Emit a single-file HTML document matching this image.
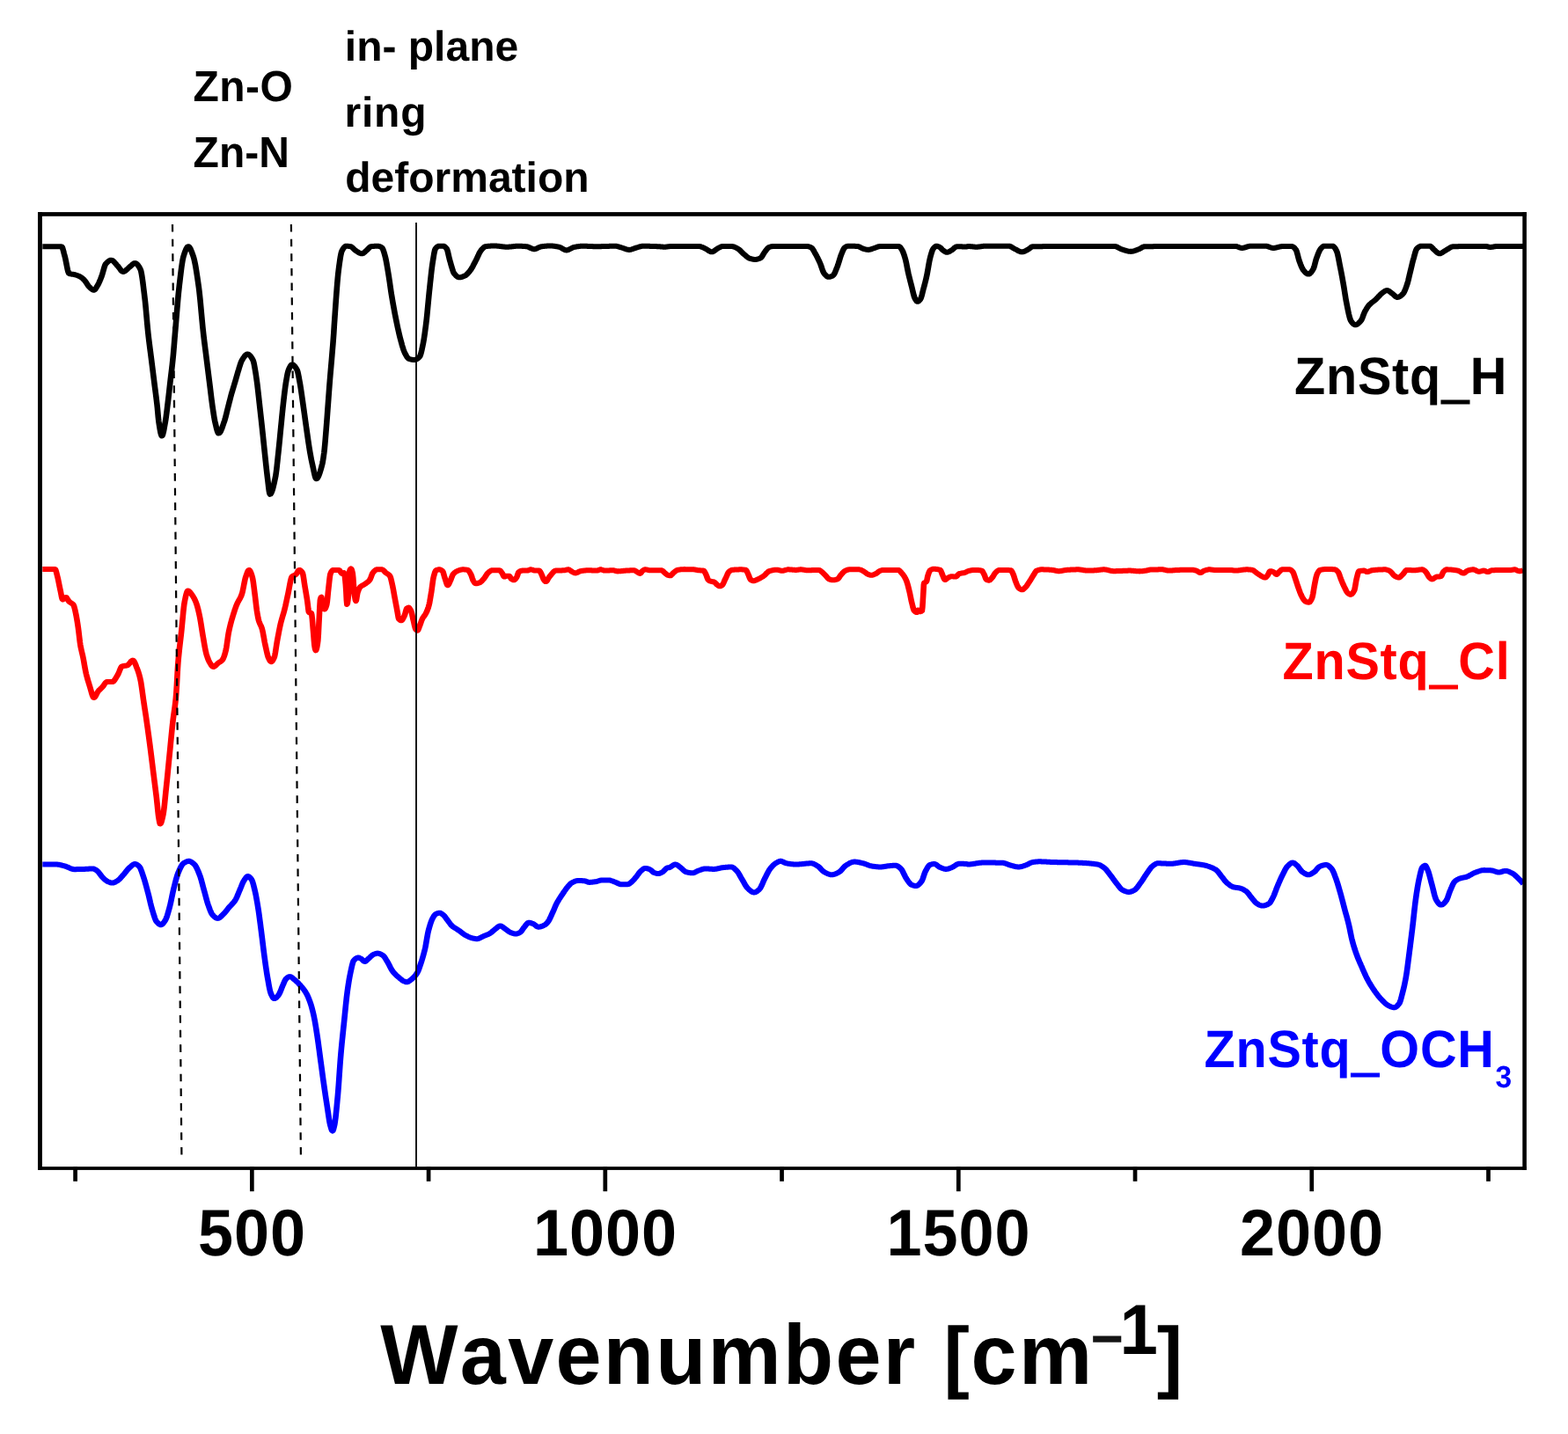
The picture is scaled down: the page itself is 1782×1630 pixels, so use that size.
<!DOCTYPE html>
<html lang="en">
<head>
<meta charset="utf-8">
<title>Wavenumber spectra: ZnStq_H, ZnStq_Cl, ZnStq_OCH3</title>
<style>
html,body{margin:0;padding:0;background:#ffffff;}
body{width:1782px;height:1630px;}
svg{display:block;}
svg text{font-kerning:none;font-variant-ligatures:none;text-rendering:geometricPrecision;white-space:pre;}
</style>
</head>
<body>
<svg width="1782" height="1630" viewBox="0 0 1782 1630" font-family='"Liberation Sans", sans-serif' font-weight="700">
<rect x="0" y="0" width="1782" height="1630" fill="#ffffff"/>
<g fill="none" stroke-linejoin="round" stroke-linecap="butt" transform="scale(1.1,1)">
<path id="c-black" stroke="#000000" stroke-width="6" d="M43.95,280.2 L44.40,280.2 L44.86,280.2 L45.31,280.2 L45.77,280.2 L46.22,280.2 L46.68,280.2 L47.13,280.2 L47.59,280.2 L48.04,280.2 L48.49,280.2 L48.95,280.2 L49.40,280.2 L49.86,280.2 L50.31,280.2 L50.77,280.2 L51.22,280.2 L51.68,280.2 L52.13,280.2 L52.59,280.2 L53.04,280.2 L53.49,280.2 L53.95,280.2 L54.40,280.2 L54.86,280.2 L55.31,280.2 L55.77,280.2 L56.22,280.2 L56.68,280.2 L57.13,280.2 L57.59,280.2 L58.04,280.2 L58.49,280.2 L58.95,280.2 L59.40,280.2 L59.86,280.2 L60.31,280.2 L60.77,280.2 L61.22,280.2 L61.68,280.2 L62.13,280.2 L62.59,280.2 L63.04,280.2 L63.49,280.2 L63.95,280.5 L64.40,281.3 L64.86,282.7 L65.31,284.4 L65.77,286.3 L66.22,288.4 L66.68,290.3 L67.13,292.1 L67.59,294.2 L68.04,296.6 L68.49,299.1 L68.95,301.8 L69.40,304.3 L69.86,306.6 L70.31,308.5 L70.77,309.9 L71.22,310.8 L71.68,311.0 L72.13,311.2 L72.59,311.3 L73.04,311.4 L73.49,311.5 L73.95,311.6 L74.40,311.7 L74.86,311.7 L75.31,311.8 L75.77,311.9 L76.22,311.9 L76.68,312.0 L77.13,312.2 L77.59,312.3 L78.04,312.4 L78.49,312.6 L78.95,312.7 L79.40,312.9 L79.86,313.1 L80.31,313.3 L80.77,313.4 L81.22,313.7 L81.68,313.9 L82.13,314.1 L82.59,314.4 L83.04,314.7 L83.49,315.0 L83.95,315.3 L84.40,315.7 L84.86,316.1 L85.31,316.5 L85.77,317.0 L86.22,317.4 L86.68,317.9 L87.13,318.4 L87.59,319.0 L88.04,319.6 L88.49,320.3 L88.95,321.1 L89.40,321.9 L89.86,322.6 L90.31,323.4 L90.77,324.1 L91.22,324.8 L91.68,325.4 L92.13,325.9 L92.59,326.4 L93.04,326.9 L93.49,327.4 L93.95,327.9 L94.40,328.3 L94.86,328.7 L95.31,329.1 L95.77,329.4 L96.22,329.6 L96.68,329.8 L97.13,329.8 L97.59,329.6 L98.04,329.2 L98.49,328.6 L98.95,327.9 L99.40,327.1 L99.86,326.3 L100.31,325.4 L100.77,324.5 L101.22,323.7 L101.68,322.7 L102.13,321.7 L102.59,320.6 L103.04,319.5 L103.49,318.3 L103.95,317.1 L104.40,315.8 L104.86,314.6 L105.31,313.2 L105.77,311.5 L106.22,309.8 L106.68,308.0 L107.13,306.2 L107.59,304.4 L108.04,302.9 L108.49,301.5 L108.95,300.4 L109.40,299.7 L109.86,299.2 L110.31,298.7 L110.77,298.2 L111.22,297.7 L111.68,297.3 L112.13,296.9 L112.59,296.5 L113.04,296.2 L113.49,296.0 L113.95,295.8 L114.40,295.7 L114.86,295.7 L115.31,295.7 L115.77,295.9 L116.22,296.1 L116.68,296.5 L117.13,296.9 L117.59,297.3 L118.04,297.9 L118.49,298.4 L118.95,299.0 L119.40,299.6 L119.86,300.2 L120.31,300.8 L120.77,301.4 L121.22,301.9 L121.68,302.4 L122.13,303.0 L122.59,303.6 L123.04,304.3 L123.49,305.0 L123.95,305.7 L124.40,306.4 L124.86,307.1 L125.31,307.7 L125.77,308.2 L126.22,308.6 L126.68,308.8 L127.13,308.9 L127.59,308.9 L128.04,308.8 L128.49,308.5 L128.95,308.3 L129.40,307.9 L129.86,307.5 L130.31,307.1 L130.77,306.6 L131.22,306.2 L131.68,305.7 L132.13,305.2 L132.59,304.7 L133.04,304.3 L133.49,303.8 L133.95,303.5 L134.40,303.1 L134.86,302.6 L135.31,302.2 L135.77,301.7 L136.22,301.2 L136.68,300.7 L137.13,300.3 L137.59,299.9 L138.04,299.6 L138.49,299.3 L138.95,299.2 L139.40,299.1 L139.86,299.2 L140.31,299.3 L140.77,299.6 L141.22,299.9 L141.68,300.4 L142.13,300.9 L142.59,301.6 L143.04,302.2 L143.49,303.0 L143.95,303.8 L144.40,304.7 L144.86,305.7 L145.31,306.8 L145.77,308.6 L146.22,311.0 L146.68,314.0 L147.13,317.4 L147.59,321.0 L148.04,325.0 L148.49,329.1 L148.95,333.2 L149.40,337.3 L149.86,341.6 L150.31,346.4 L150.77,351.7 L151.22,357.3 L151.68,362.9 L152.13,368.5 L152.59,373.8 L153.04,378.7 L153.49,383.2 L153.95,387.4 L154.40,391.4 L154.86,395.3 L155.31,399.1 L155.77,403.0 L156.22,406.9 L156.68,410.9 L157.13,414.9 L157.59,418.9 L158.04,422.9 L158.49,426.9 L158.95,430.9 L159.40,434.9 L159.86,438.8 L160.31,442.7 L160.77,446.5 L161.22,450.4 L161.68,454.5 L162.13,458.7 L162.59,463.3 L163.04,468.7 L163.49,474.2 L163.95,478.8 L164.40,482.1 L164.86,485.3 L165.31,488.3 L165.77,491.0 L166.22,493.1 L166.68,494.7 L167.13,495.5 L167.59,495.3 L168.04,494.4 L168.49,492.7 L168.95,490.6 L169.40,488.1 L169.86,485.3 L170.31,482.5 L170.77,479.7 L171.22,476.7 L171.68,473.1 L172.13,469.3 L172.59,465.3 L173.04,461.2 L173.49,457.1 L173.95,452.9 L174.40,448.5 L174.86,444.0 L175.31,439.6 L175.77,435.1 L176.22,430.9 L176.68,426.7 L177.13,422.6 L177.59,418.4 L178.04,414.0 L178.49,409.3 L178.95,404.2 L179.40,398.5 L179.86,392.5 L180.31,386.3 L180.77,380.3 L181.22,374.5 L181.68,368.4 L182.13,362.4 L182.59,356.3 L183.04,350.3 L183.49,344.4 L183.95,338.8 L184.40,333.5 L184.86,328.7 L185.31,324.2 L185.77,319.9 L186.22,315.6 L186.68,311.4 L187.13,307.3 L187.59,303.5 L188.04,300.1 L188.49,297.0 L188.95,294.3 L189.40,292.1 L189.86,290.5 L190.31,288.9 L190.77,287.4 L191.22,286.0 L191.68,284.7 L192.13,283.5 L192.59,282.4 L193.04,281.6 L193.49,280.9 L193.95,280.4 L194.40,280.2 L194.86,280.3 L195.31,280.6 L195.77,281.1 L196.22,281.8 L196.68,282.7 L197.13,283.8 L197.59,285.0 L198.04,286.2 L198.49,287.6 L198.95,289.0 L199.40,290.4 L199.86,291.9 L200.31,293.6 L200.77,295.6 L201.22,297.9 L201.68,300.4 L202.13,303.1 L202.59,306.0 L203.04,309.1 L203.49,312.3 L203.95,315.6 L204.40,319.1 L204.86,322.6 L205.31,326.2 L205.77,330.1 L206.22,334.6 L206.68,339.4 L207.13,344.6 L207.59,349.9 L208.04,355.4 L208.49,360.8 L208.95,366.2 L209.40,371.4 L209.86,376.3 L210.31,380.8 L210.77,385.1 L211.22,389.2 L211.68,393.1 L212.13,397.0 L212.59,400.9 L213.04,404.8 L213.49,408.8 L213.95,412.8 L214.40,416.8 L214.86,420.8 L215.31,424.8 L215.77,428.8 L216.22,432.8 L216.68,436.8 L217.13,440.9 L217.59,445.1 L218.04,449.3 L218.49,453.3 L218.95,457.2 L219.40,460.8 L219.86,464.3 L220.31,467.7 L220.77,471.0 L221.22,474.1 L221.68,476.9 L222.13,479.4 L222.59,481.5 L223.04,483.7 L223.49,485.8 L223.95,487.8 L224.40,489.6 L224.86,491.1 L225.31,492.1 L225.77,492.6 L226.22,492.6 L226.68,492.3 L227.13,491.8 L227.59,491.0 L228.04,490.1 L228.49,488.9 L228.95,487.7 L229.40,486.4 L229.86,485.0 L230.31,483.6 L230.77,482.1 L231.22,480.7 L231.68,479.3 L232.13,477.8 L232.59,476.1 L233.04,474.2 L233.49,472.3 L233.95,470.3 L234.40,468.2 L234.86,466.1 L235.31,464.1 L235.77,462.1 L236.22,460.2 L236.68,458.2 L237.13,456.3 L237.59,454.3 L238.04,452.4 L238.49,450.4 L238.95,448.6 L239.40,446.8 L239.86,445.1 L240.31,443.4 L240.77,441.7 L241.22,440.1 L241.68,438.5 L242.13,436.8 L242.59,435.2 L243.04,433.5 L243.49,431.7 L243.95,430.0 L244.40,428.2 L244.86,426.4 L245.31,424.7 L245.77,423.0 L246.22,421.3 L246.68,419.8 L247.13,418.1 L247.59,416.5 L248.04,414.9 L248.49,413.4 L248.95,412.0 L249.40,410.8 L249.86,409.8 L250.31,409.0 L250.77,408.1 L251.22,407.3 L251.68,406.5 L252.13,405.8 L252.59,405.1 L253.04,404.4 L253.49,403.8 L253.95,403.4 L254.40,403.0 L254.86,402.7 L255.31,402.5 L255.77,402.5 L256.22,402.6 L256.68,402.8 L257.13,403.0 L257.59,403.4 L258.04,403.9 L258.49,404.4 L258.95,405.0 L259.40,405.7 L259.86,406.5 L260.31,407.3 L260.77,408.2 L261.22,409.1 L261.68,410.2 L262.13,411.9 L262.59,414.3 L263.04,417.0 L263.49,419.8 L263.95,422.7 L264.40,425.9 L264.86,429.3 L265.31,432.9 L265.77,436.7 L266.22,440.8 L266.68,445.2 L267.13,449.6 L267.59,454.2 L268.04,458.7 L268.49,463.2 L268.95,467.7 L269.40,472.2 L269.86,476.7 L270.31,481.3 L270.77,485.9 L271.22,490.6 L271.68,495.3 L272.13,500.1 L272.59,505.0 L273.04,509.7 L273.49,514.5 L273.95,519.2 L274.40,523.9 L274.86,528.7 L275.31,533.3 L275.77,537.7 L276.22,541.8 L276.68,545.9 L277.13,550.3 L277.59,554.6 L278.04,558.3 L278.49,560.8 L278.95,561.8 L279.40,561.6 L279.86,561.1 L280.31,560.2 L280.77,559.1 L281.22,557.7 L281.68,556.1 L282.13,554.2 L282.59,552.2 L283.04,550.1 L283.49,547.8 L283.95,545.5 L284.40,543.1 L284.86,540.6 L285.31,537.2 L285.77,533.3 L286.22,528.8 L286.68,524.1 L287.13,519.3 L287.59,514.7 L288.04,509.9 L288.49,505.0 L288.95,499.9 L289.40,494.7 L289.86,489.6 L290.31,484.6 L290.77,479.4 L291.22,474.3 L291.68,469.2 L292.13,464.4 L292.59,459.8 L293.04,455.3 L293.49,450.9 L293.95,446.7 L294.40,442.6 L294.86,438.9 L295.31,435.5 L295.77,432.5 L296.22,429.6 L296.68,426.8 L297.13,424.4 L297.59,422.3 L298.04,420.8 L298.49,419.6 L298.95,418.4 L299.40,417.4 L299.86,416.4 L300.31,415.6 L300.77,415.0 L301.22,414.6 L301.68,414.4 L302.13,414.4 L302.59,414.6 L303.04,414.8 L303.49,415.2 L303.95,415.7 L304.40,416.2 L304.86,416.8 L305.31,417.6 L305.77,418.3 L306.22,419.2 L306.68,420.1 L307.13,421.1 L307.59,422.7 L308.04,424.8 L308.49,427.2 L308.95,430.0 L309.40,432.7 L309.86,435.5 L310.31,438.4 L310.77,441.6 L311.22,444.9 L311.68,448.4 L312.13,451.9 L312.59,455.5 L313.04,459.0 L313.49,462.5 L313.95,466.0 L314.40,469.6 L314.86,473.2 L315.31,476.8 L315.77,480.4 L316.22,484.0 L316.68,487.5 L317.13,491.0 L317.59,494.5 L318.04,498.0 L318.49,501.5 L318.95,504.9 L319.40,508.2 L319.86,511.3 L320.31,514.3 L320.77,517.1 L321.22,519.8 L321.68,522.4 L322.13,524.8 L322.59,527.1 L323.04,529.3 L323.49,531.6 L323.95,534.0 L324.40,536.5 L324.86,538.7 L325.31,540.8 L325.77,542.5 L326.22,543.6 L326.68,544.2 L327.13,544.2 L327.59,543.9 L328.04,543.3 L328.49,542.5 L328.95,541.5 L329.40,540.4 L329.86,539.1 L330.31,537.6 L330.77,536.1 L331.22,534.4 L331.68,532.7 L332.13,530.9 L332.59,529.1 L333.04,527.1 L333.49,524.6 L333.95,521.6 L334.40,518.2 L334.86,514.5 L335.31,509.9 L335.77,504.6 L336.22,498.6 L336.68,492.4 L337.13,486.3 L337.59,479.8 L338.04,473.1 L338.49,466.2 L338.95,459.5 L339.40,452.7 L339.86,445.9 L340.31,439.3 L340.77,432.9 L341.22,426.9 L341.68,421.1 L342.13,415.3 L342.59,409.5 L343.04,403.5 L343.49,397.5 L343.95,391.5 L344.40,385.0 L344.86,378.0 L345.31,369.7 L345.77,362.4 L346.22,355.1 L346.68,347.9 L347.13,340.8 L347.59,334.0 L348.04,327.5 L348.49,321.4 L348.95,315.8 L349.40,310.8 L349.86,306.5 L350.31,302.7 L350.77,299.0 L351.22,295.5 L351.68,292.3 L352.13,289.6 L352.59,287.3 L353.04,285.7 L353.49,284.7 L353.95,283.8 L354.40,282.9 L354.86,282.2 L355.31,281.5 L355.77,280.9 L356.22,280.5 L356.68,280.1 L357.13,279.8 L357.59,279.7 L358.04,279.7 L358.49,279.7 L358.95,279.8 L359.40,279.8 L359.86,279.9 L360.31,279.9 L360.77,280.0 L361.22,280.1 L361.68,280.1 L362.13,280.2 L362.59,280.3 L363.04,280.6 L363.49,280.9 L363.95,281.3 L364.40,281.7 L364.86,282.2 L365.31,282.7 L365.77,283.2 L366.22,283.7 L366.68,284.2 L367.13,284.6 L367.59,285.0 L368.04,285.3 L368.49,285.6 L368.95,285.9 L369.40,286.3 L369.86,286.6 L370.31,286.9 L370.77,287.2 L371.22,287.4 L371.68,287.7 L372.13,287.9 L372.59,288.1 L373.04,288.2 L373.49,288.3 L373.95,288.3 L374.40,288.3 L374.86,288.1 L375.31,287.9 L375.77,287.5 L376.22,287.1 L376.68,286.7 L377.13,286.2 L377.59,285.7 L378.04,285.2 L378.49,284.8 L378.95,284.4 L379.40,283.9 L379.86,283.4 L380.31,282.9 L380.77,282.4 L381.22,281.8 L381.68,281.3 L382.13,280.9 L382.59,280.5 L383.04,280.3 L383.49,280.2 L383.95,280.1 L384.40,280.1 L384.86,280.0 L385.31,280.0 L385.77,279.9 L386.22,279.9 L386.68,279.9 L387.13,279.8 L387.59,279.8 L388.04,279.8 L388.49,279.8 L388.95,279.7 L389.40,279.7 L389.86,279.7 L390.31,279.7 L390.77,279.8 L391.22,279.9 L391.68,280.0 L392.13,280.1 L392.59,280.3 L393.04,280.5 L393.49,280.8 L393.95,281.1 L394.40,281.4 L394.86,281.8 L395.31,282.6 L395.77,283.7 L396.22,285.1 L396.68,286.6 L397.13,288.3 L397.59,290.1 L398.04,291.9 L398.49,294.0 L398.95,296.4 L399.40,299.1 L399.86,301.9 L400.31,304.9 L400.77,307.9 L401.22,310.9 L401.68,314.0 L402.13,317.3 L402.59,320.7 L403.04,324.2 L403.49,327.7 L403.95,331.1 L404.40,334.3 L404.86,337.3 L405.31,340.3 L405.77,343.2 L406.22,346.0 L406.68,348.8 L407.13,351.6 L407.59,354.3 L408.04,356.9 L408.49,359.4 L408.95,362.0 L409.40,364.4 L409.86,366.9 L410.31,369.3 L410.77,371.7 L411.22,374.0 L411.68,376.2 L412.13,378.4 L412.59,380.5 L413.04,382.6 L413.49,384.5 L413.95,386.4 L414.40,388.3 L414.86,390.1 L415.31,392.0 L415.77,393.7 L416.22,395.3 L416.68,396.9 L417.13,398.3 L417.59,399.6 L418.04,400.7 L418.49,401.7 L418.95,402.7 L419.40,403.6 L419.86,404.6 L420.31,405.4 L420.77,406.2 L421.22,406.8 L421.68,407.3 L422.13,407.7 L422.59,407.9 L423.04,408.1 L423.49,408.2 L423.95,408.4 L424.40,408.5 L424.86,408.6 L425.31,408.7 L425.77,408.8 L426.22,408.9 L426.68,409.0 L427.13,409.0 L427.59,409.0 L428.04,409.1 L428.49,409.0 L428.95,408.9 L429.40,408.8 L429.86,408.6 L430.31,408.4 L430.77,408.1 L431.22,407.7 L431.68,407.4 L432.13,406.9 L432.59,406.5 L433.04,406.0 L433.49,405.5 L433.95,404.7 L434.40,403.5 L434.86,401.9 L435.31,400.0 L435.77,397.9 L436.22,395.5 L436.68,393.2 L437.13,390.8 L437.59,388.1 L438.04,385.1 L438.49,381.9 L438.95,378.4 L439.40,374.7 L439.86,370.9 L440.31,366.9 L440.77,362.6 L441.22,357.8 L441.68,352.6 L442.13,347.3 L442.59,341.9 L443.04,336.7 L443.49,331.8 L443.95,327.1 L444.40,322.3 L444.86,317.6 L445.31,313.0 L445.77,308.5 L446.22,304.4 L446.68,300.7 L447.13,297.4 L447.59,294.2 L448.04,291.1 L448.49,288.1 L448.95,285.7 L449.40,283.8 L449.86,282.7 L450.31,282.1 L450.77,281.5 L451.22,281.0 L451.68,280.6 L452.13,280.3 L452.59,280.0 L453.04,279.8 L453.49,279.7 L453.95,279.7 L454.40,279.7 L454.86,279.7 L455.31,279.7 L455.77,279.7 L456.22,279.7 L456.68,279.7 L457.13,279.7 L457.59,279.7 L458.04,279.7 L458.49,279.8 L458.95,280.0 L459.40,280.3 L459.86,280.7 L460.31,281.2 L460.77,281.7 L461.22,282.3 L461.68,283.1 L462.13,284.3 L462.59,286.0 L463.04,288.1 L463.49,290.3 L463.95,292.5 L464.40,294.6 L464.86,296.4 L465.31,298.1 L465.77,299.9 L466.22,301.7 L466.68,303.4 L467.13,305.1 L467.59,306.7 L468.04,308.2 L468.49,309.4 L468.95,310.4 L469.40,311.1 L469.86,311.7 L470.31,312.3 L470.77,312.8 L471.22,313.4 L471.68,313.8 L472.13,314.3 L472.59,314.6 L473.04,314.9 L473.49,315.1 L473.95,315.3 L474.40,315.3 L474.86,315.3 L475.31,315.3 L475.77,315.2 L476.22,315.1 L476.68,315.0 L477.13,314.8 L477.59,314.7 L478.04,314.5 L478.49,314.3 L478.95,314.1 L479.40,313.9 L479.86,313.6 L480.31,313.4 L480.77,313.2 L481.22,312.9 L481.68,312.5 L482.13,312.1 L482.59,311.6 L483.04,311.1 L483.49,310.6 L483.95,310.0 L484.40,309.4 L484.86,308.8 L485.31,308.2 L485.77,307.5 L486.22,306.9 L486.68,306.2 L487.13,305.4 L487.59,304.6 L488.04,303.7 L488.49,302.8 L488.95,301.8 L489.40,300.8 L489.86,299.8 L490.31,298.9 L490.77,297.9 L491.22,296.9 L491.68,296.0 L492.13,295.0 L492.59,294.0 L493.04,292.9 L493.49,291.8 L493.95,290.7 L494.40,289.7 L494.86,288.6 L495.31,287.6 L495.77,286.7 L496.22,285.8 L496.68,285.1 L497.13,284.4 L497.59,283.8 L498.04,283.3 L498.49,282.7 L498.95,282.2 L499.40,281.7 L499.86,281.2 L500.31,280.8 L500.77,280.5 L501.22,280.3 L501.68,280.2 L502.13,280.1 L502.59,280.1 L503.04,280.0 L503.49,279.9 L503.95,279.9 L504.40,279.8 L504.86,279.8 L505.31,279.7 L505.77,279.7 L506.22,279.7 L506.68,279.6 L507.13,279.6 L507.59,279.6 L508.04,279.5 L508.49,279.5 L508.95,279.5 L509.40,279.5 L509.86,279.5 L510.31,279.5 L510.77,279.5 L511.22,279.5 L511.68,279.5 L512.13,279.5 L512.59,279.6 L513.04,279.6 L513.49,279.6 L513.95,279.7 L514.40,279.7 L514.86,279.8 L515.31,279.8 L515.77,279.9 L516.22,280.0 L516.68,280.0 L517.13,280.1 L517.59,280.1 L518.04,280.2 L518.49,280.3 L518.95,280.3 L519.40,280.4 L519.86,280.4 L520.31,280.5 L520.77,280.5 L521.22,280.6 L521.68,280.6 L522.13,280.7 L522.59,280.7 L523.04,280.7 L523.49,280.7 L523.95,280.7 L524.40,280.7 L524.86,280.7 L525.31,280.7 L525.77,280.6 L526.22,280.6 L526.68,280.6 L527.13,280.5 L527.59,280.5 L528.04,280.4 L528.49,280.4 L528.95,280.3 L529.40,280.2 L529.86,280.2 L530.31,280.1 L530.77,280.1 L531.22,280.0 L531.68,280.0 L532.13,279.9 L532.59,279.9 L533.04,279.8 L533.49,279.8 L533.95,279.8 L534.40,279.7 L534.86,279.7 L535.31,279.7 L535.77,279.7 L536.22,279.7 L536.68,279.8 L537.13,279.8 L537.59,279.8 L538.04,279.8 L538.49,279.8 L538.95,279.8 L539.40,279.9 L539.86,279.9 L540.31,279.9 L540.77,279.9 L541.22,280.0 L541.68,280.0 L542.13,280.1 L542.59,280.1 L543.04,280.1 L543.49,280.2 L543.95,280.2 L544.40,280.3 L544.86,280.4 L545.31,280.5 L545.77,280.7 L546.22,280.9 L546.68,281.1 L547.13,281.4 L547.59,281.6 L548.04,281.9 L548.49,282.1 L548.95,282.3 L549.40,282.5 L549.86,282.7 L550.31,282.9 L550.77,283.0 L551.22,283.1 L551.68,283.2 L552.13,283.2 L552.59,283.1 L553.04,283.0 L553.49,282.9 L553.95,282.7 L554.40,282.5 L554.86,282.3 L555.31,282.0 L555.77,281.8 L556.22,281.6 L556.68,281.3 L557.13,281.1 L557.59,280.9 L558.04,280.7 L558.49,280.5 L558.95,280.4 L559.40,280.3 L559.86,280.2 L560.31,280.1 L560.77,280.1 L561.22,280.0 L561.68,280.0 L562.13,279.9 L562.59,279.9 L563.04,279.8 L563.49,279.8 L563.95,279.7 L564.40,279.7 L564.86,279.6 L565.31,279.6 L565.77,279.6 L566.22,279.5 L566.68,279.5 L567.13,279.5 L567.59,279.5 L568.04,279.5 L568.49,279.5 L568.95,279.5 L569.40,279.5 L569.86,279.5 L570.31,279.6 L570.77,279.6 L571.22,279.6 L571.68,279.7 L572.13,279.7 L572.59,279.8 L573.04,279.9 L573.49,279.9 L573.95,280.0 L574.40,280.1 L574.86,280.2 L575.31,280.3 L575.77,280.4 L576.22,280.4 L576.68,280.5 L577.13,280.6 L577.59,280.7 L578.04,280.9 L578.49,281.1 L578.95,281.3 L579.40,281.5 L579.86,281.8 L580.31,282.1 L580.77,282.4 L581.22,282.7 L581.68,283.0 L582.13,283.2 L582.59,283.5 L583.04,283.8 L583.49,284.0 L583.95,284.2 L584.40,284.3 L584.86,284.4 L585.31,284.4 L585.77,284.4 L586.22,284.3 L586.68,284.1 L587.13,284.0 L587.59,283.8 L588.04,283.5 L588.49,283.3 L588.95,283.0 L589.40,282.7 L589.86,282.5 L590.31,282.2 L590.77,281.9 L591.22,281.7 L591.68,281.5 L592.13,281.3 L592.59,281.1 L593.04,281.0 L593.49,280.9 L593.95,280.8 L594.40,280.7 L594.86,280.6 L595.31,280.5 L595.77,280.4 L596.22,280.3 L596.68,280.3 L597.13,280.2 L597.59,280.1 L598.04,280.0 L598.49,280.0 L598.95,279.9 L599.40,279.9 L599.86,279.8 L600.31,279.8 L600.77,279.8 L601.22,279.7 L601.68,279.7 L602.13,279.7 L602.59,279.7 L603.04,279.7 L603.49,279.7 L603.95,279.8 L604.40,279.8 L604.86,279.8 L605.31,279.8 L605.77,279.8 L606.22,279.8 L606.68,279.9 L607.13,279.9 L607.59,279.9 L608.04,279.9 L608.49,279.9 L608.95,280.0 L609.40,280.0 L609.86,280.0 L610.31,280.0 L610.77,280.1 L611.22,280.1 L611.68,280.1 L612.13,280.1 L612.59,280.1 L613.04,280.2 L613.49,280.2 L613.95,280.2 L614.40,280.2 L614.86,280.2 L615.31,280.2 L615.77,280.2 L616.22,280.2 L616.68,280.2 L617.13,280.2 L617.59,280.2 L618.04,280.2 L618.49,280.2 L618.95,280.2 L619.40,280.2 L619.86,280.2 L620.31,280.2 L620.77,280.2 L621.22,280.1 L621.68,280.1 L622.13,280.1 L622.59,280.1 L623.04,280.1 L623.49,280.1 L623.95,280.1 L624.40,280.0 L624.86,280.0 L625.31,280.0 L625.77,280.0 L626.22,280.0 L626.68,280.0 L627.13,279.9 L627.59,279.9 L628.04,279.9 L628.49,279.9 L628.95,279.9 L629.40,279.9 L629.86,279.8 L630.31,279.8 L630.77,279.8 L631.22,279.8 L631.68,279.8 L632.13,279.8 L632.59,279.8 L633.04,279.8 L633.49,279.7 L633.95,279.7 L634.40,279.7 L634.86,279.7 L635.31,279.7 L635.77,279.7 L636.22,279.8 L636.68,279.8 L637.13,279.9 L637.59,280.0 L638.04,280.1 L638.49,280.3 L638.95,280.4 L639.40,280.5 L639.86,280.7 L640.31,280.9 L640.77,281.0 L641.22,281.2 L641.68,281.3 L642.13,281.4 L642.59,281.6 L643.04,281.7 L643.49,281.9 L643.95,282.1 L644.40,282.3 L644.86,282.5 L645.31,282.6 L645.77,282.8 L646.22,283.0 L646.68,283.2 L647.13,283.4 L647.59,283.5 L648.04,283.6 L648.49,283.7 L648.95,283.8 L649.40,283.9 L649.86,283.9 L650.31,283.9 L650.77,283.9 L651.22,283.8 L651.68,283.7 L652.13,283.6 L652.59,283.4 L653.04,283.3 L653.49,283.1 L653.95,282.9 L654.40,282.7 L654.86,282.5 L655.31,282.4 L655.77,282.2 L656.22,282.0 L656.68,281.8 L657.13,281.7 L657.59,281.5 L658.04,281.4 L658.49,281.2 L658.95,281.1 L659.40,280.9 L659.86,280.8 L660.31,280.6 L660.77,280.5 L661.22,280.3 L661.68,280.2 L662.13,280.1 L662.59,280.0 L663.04,279.9 L663.49,279.8 L663.95,279.8 L664.40,279.7 L664.86,279.7 L665.31,279.7 L665.77,279.7 L666.22,279.7 L666.68,279.7 L667.13,279.8 L667.59,279.8 L668.04,279.8 L668.49,279.8 L668.95,279.8 L669.40,279.8 L669.86,279.8 L670.31,279.8 L670.77,279.8 L671.22,279.9 L671.68,279.9 L672.13,279.9 L672.59,279.9 L673.04,279.9 L673.49,279.9 L673.95,279.9 L674.40,280.0 L674.86,280.0 L675.31,280.0 L675.77,280.0 L676.22,280.0 L676.68,280.1 L677.13,280.1 L677.59,280.1 L678.04,280.1 L678.49,280.1 L678.95,280.2 L679.40,280.2 L679.86,280.2 L680.31,280.2 L680.77,280.3 L681.22,280.3 L681.68,280.3 L682.13,280.4 L682.59,280.4 L683.04,280.5 L683.49,280.5 L683.95,280.6 L684.40,280.6 L684.86,280.6 L685.31,280.7 L685.77,280.7 L686.22,280.7 L686.68,280.7 L687.13,280.7 L687.59,280.7 L688.04,280.6 L688.49,280.6 L688.95,280.5 L689.40,280.5 L689.86,280.4 L690.31,280.3 L690.77,280.2 L691.22,280.2 L691.68,280.1 L692.13,280.1 L692.59,280.0 L693.04,280.0 L693.49,280.0 L693.95,280.0 L694.40,280.0 L694.86,280.0 L695.31,280.0 L695.77,280.0 L696.22,280.0 L696.68,280.0 L697.13,280.0 L697.59,280.0 L698.04,280.0 L698.49,280.0 L698.95,280.0 L699.40,280.0 L699.86,280.0 L700.31,280.0 L700.77,280.0 L701.22,280.0 L701.68,280.0 L702.13,280.0 L702.59,280.0 L703.04,280.0 L703.49,280.0 L703.95,280.0 L704.40,280.0 L704.86,280.0 L705.31,280.0 L705.77,280.0 L706.22,280.0 L706.68,280.0 L707.13,280.0 L707.59,280.0 L708.04,280.0 L708.49,280.0 L708.95,280.0 L709.40,280.0 L709.86,280.0 L710.31,280.0 L710.77,280.0 L711.22,280.0 L711.68,280.0 L712.13,280.0 L712.59,280.0 L713.04,280.0 L713.49,280.0 L713.95,280.0 L714.40,280.0 L714.86,280.0 L715.31,280.0 L715.77,280.0 L716.22,280.0 L716.68,280.0 L717.13,280.0 L717.59,280.0 L718.04,280.0 L718.49,280.0 L718.95,280.0 L719.40,280.0 L719.86,280.0 L720.31,280.0 L720.77,280.0 L721.22,280.0 L721.68,280.0 L722.13,280.0 L722.59,280.0 L723.04,280.1 L723.49,280.2 L723.95,280.3 L724.40,280.5 L724.86,280.6 L725.31,280.9 L725.77,281.1 L726.22,281.3 L726.68,281.6 L727.13,281.8 L727.59,282.0 L728.04,282.3 L728.49,282.5 L728.95,282.7 L729.40,283.0 L729.86,283.3 L730.31,283.6 L730.77,283.9 L731.22,284.2 L731.68,284.5 L732.13,284.9 L732.59,285.2 L733.04,285.5 L733.49,285.7 L733.95,286.0 L734.40,286.2 L734.86,286.3 L735.31,286.3 L735.77,286.3 L736.22,286.2 L736.68,286.1 L737.13,285.8 L737.59,285.5 L738.04,285.1 L738.49,284.8 L738.95,284.4 L739.40,284.0 L739.86,283.6 L740.31,283.2 L740.77,282.9 L741.22,282.6 L741.68,282.3 L742.13,282.1 L742.59,281.8 L743.04,281.5 L743.49,281.2 L743.95,280.9 L744.40,280.7 L744.86,280.4 L745.31,280.2 L745.77,280.1 L746.22,280.0 L746.68,280.0 L747.13,280.0 L747.59,280.0 L748.04,280.0 L748.49,280.0 L748.95,280.0 L749.40,280.0 L749.86,280.0 L750.31,280.0 L750.77,280.0 L751.22,280.0 L751.68,280.0 L752.13,280.0 L752.59,280.0 L753.04,280.0 L753.49,280.0 L753.95,280.0 L754.40,280.0 L754.86,280.0 L755.31,280.0 L755.77,280.0 L756.22,280.0 L756.68,280.1 L757.13,280.2 L757.59,280.3 L758.04,280.5 L758.49,280.6 L758.95,280.8 L759.40,281.1 L759.86,281.3 L760.31,281.5 L760.77,281.8 L761.22,282.1 L761.68,282.3 L762.13,282.6 L762.59,282.9 L763.04,283.2 L763.49,283.5 L763.95,284.0 L764.40,284.4 L764.86,284.9 L765.31,285.4 L765.77,285.9 L766.22,286.4 L766.68,286.9 L767.13,287.4 L767.59,287.9 L768.04,288.4 L768.49,288.8 L768.95,289.3 L769.40,289.7 L769.86,290.1 L770.31,290.5 L770.77,291.0 L771.22,291.4 L771.68,291.8 L772.13,292.2 L772.59,292.6 L773.04,292.9 L773.49,293.2 L773.95,293.5 L774.40,293.7 L774.86,293.8 L775.31,294.0 L775.77,294.1 L776.22,294.3 L776.68,294.4 L777.13,294.5 L777.59,294.6 L778.04,294.7 L778.49,294.8 L778.95,294.9 L779.40,294.9 L779.86,294.9 L780.31,294.9 L780.77,294.9 L781.22,294.9 L781.68,294.8 L782.13,294.7 L782.59,294.6 L783.04,294.4 L783.49,294.3 L783.95,294.1 L784.40,293.9 L784.86,293.7 L785.31,293.4 L785.77,293.2 L786.22,292.9 L786.68,292.3 L787.13,291.7 L787.59,290.9 L788.04,290.1 L788.49,289.2 L788.95,288.4 L789.40,287.6 L789.86,286.8 L790.31,286.2 L790.77,285.5 L791.22,284.9 L791.68,284.2 L792.13,283.5 L792.59,282.9 L793.04,282.3 L793.49,281.8 L793.95,281.4 L794.40,281.1 L794.86,280.9 L795.31,280.7 L795.77,280.6 L796.22,280.4 L796.68,280.3 L797.13,280.2 L797.59,280.1 L798.04,280.0 L798.49,280.0 L798.95,280.0 L799.40,280.0 L799.86,280.0 L800.31,280.0 L800.77,280.0 L801.22,280.0 L801.68,280.0 L802.13,280.0 L802.59,280.0 L803.04,280.0 L803.49,280.0 L803.95,280.0 L804.40,280.0 L804.86,280.0 L805.31,280.0 L805.77,280.0 L806.22,280.0 L806.68,280.0 L807.13,280.0 L807.59,280.0 L808.04,280.0 L808.49,280.0 L808.95,280.0 L809.40,280.0 L809.86,280.0 L810.31,280.0 L810.77,280.0 L811.22,280.0 L811.68,280.0 L812.13,280.0 L812.59,280.0 L813.04,280.0 L813.49,280.0 L813.95,280.0 L814.40,280.0 L814.86,280.0 L815.31,280.0 L815.77,280.0 L816.22,280.0 L816.68,280.0 L817.13,280.0 L817.59,280.0 L818.04,280.0 L818.49,280.0 L818.95,280.0 L819.40,280.0 L819.86,280.0 L820.31,280.0 L820.77,280.0 L821.22,280.0 L821.68,280.0 L822.13,280.0 L822.59,280.0 L823.04,280.0 L823.49,280.0 L823.95,280.0 L824.40,280.0 L824.86,280.0 L825.31,280.0 L825.77,280.0 L826.22,280.0 L826.68,280.0 L827.13,280.0 L827.59,280.0 L828.04,280.0 L828.49,280.0 L828.95,280.0 L829.40,280.0 L829.86,280.0 L830.31,280.0 L830.77,280.0 L831.22,280.0 L831.68,280.0 L832.13,280.0 L832.59,280.0 L833.04,280.0 L833.49,280.0 L833.95,280.0 L834.40,280.0 L834.86,280.1 L835.31,280.2 L835.77,280.4 L836.22,280.5 L836.68,280.7 L837.13,280.9 L837.59,281.1 L838.04,281.4 L838.49,281.7 L838.95,282.1 L839.40,282.7 L839.86,283.5 L840.31,284.3 L840.77,285.1 L841.22,286.0 L841.68,287.0 L842.13,287.9 L842.59,288.8 L843.04,289.6 L843.49,290.5 L843.95,291.5 L844.40,292.4 L844.86,293.4 L845.31,294.5 L845.77,295.5 L846.22,296.6 L846.68,297.7 L847.13,298.8 L847.59,300.0 L848.04,301.3 L848.49,302.8 L848.95,304.2 L849.40,305.7 L849.86,307.1 L850.31,308.4 L850.77,309.5 L851.22,310.4 L851.68,311.1 L852.13,311.7 L852.59,312.3 L853.04,312.8 L853.49,313.3 L853.95,313.8 L854.40,314.2 L854.86,314.5 L855.31,314.7 L855.77,314.8 L856.22,314.8 L856.68,314.8 L857.13,314.7 L857.59,314.6 L858.04,314.5 L858.49,314.3 L858.95,314.1 L859.40,313.9 L859.86,313.7 L860.31,313.4 L860.77,313.1 L861.22,312.6 L861.68,311.8 L862.13,310.9 L862.59,309.9 L863.04,308.7 L863.49,307.5 L863.95,306.2 L864.40,304.9 L864.86,303.7 L865.31,302.4 L865.77,301.0 L866.22,299.5 L866.68,297.9 L867.13,296.2 L867.59,294.6 L868.04,293.0 L868.49,291.4 L868.95,290.0 L869.40,288.8 L869.86,287.5 L870.31,286.3 L870.77,285.1 L871.22,284.0 L871.68,283.0 L872.13,282.2 L872.59,281.6 L873.04,281.2 L873.49,280.8 L873.95,280.5 L874.40,280.2 L874.86,280.0 L875.31,279.8 L875.77,279.8 L876.22,279.7 L876.68,279.7 L877.13,279.7 L877.59,279.7 L878.04,279.7 L878.49,279.7 L878.95,279.8 L879.40,279.8 L879.86,279.8 L880.31,279.8 L880.77,279.8 L881.22,279.8 L881.68,279.8 L882.13,279.8 L882.59,279.8 L883.04,279.8 L883.49,279.9 L883.95,279.9 L884.40,279.9 L884.86,279.9 L885.31,279.9 L885.77,280.0 L886.22,280.0 L886.68,280.1 L887.13,280.2 L887.59,280.4 L888.04,280.6 L888.49,280.9 L888.95,281.2 L889.40,281.5 L889.86,281.8 L890.31,282.0 L890.77,282.3 L891.22,282.5 L891.68,282.7 L892.13,282.8 L892.59,283.0 L893.04,283.1 L893.49,283.2 L893.95,283.4 L894.40,283.5 L894.86,283.6 L895.31,283.7 L895.77,283.8 L896.22,283.8 L896.68,283.9 L897.13,283.9 L897.59,283.9 L898.04,283.8 L898.49,283.8 L898.95,283.6 L899.40,283.5 L899.86,283.3 L900.31,283.2 L900.77,283.0 L901.22,282.8 L901.68,282.6 L902.13,282.4 L902.59,282.3 L903.04,282.1 L903.49,282.0 L903.95,281.8 L904.40,281.6 L904.86,281.4 L905.31,281.2 L905.77,281.0 L906.22,280.8 L906.68,280.6 L907.13,280.5 L907.59,280.3 L908.04,280.2 L908.49,280.1 L908.95,280.0 L909.40,280.0 L909.86,280.0 L910.31,280.0 L910.77,280.0 L911.22,280.0 L911.68,280.0 L912.13,280.0 L912.59,280.0 L913.04,280.0 L913.49,280.0 L913.95,280.0 L914.40,280.0 L914.86,280.0 L915.31,280.0 L915.77,280.0 L916.22,280.0 L916.68,280.0 L917.13,280.0 L917.59,280.0 L918.04,280.0 L918.49,280.0 L918.95,280.0 L919.40,280.0 L919.86,280.0 L920.31,280.0 L920.77,280.0 L921.22,280.0 L921.68,280.0 L922.13,280.0 L922.59,280.0 L923.04,280.0 L923.49,280.0 L923.95,280.0 L924.40,280.0 L924.86,280.0 L925.31,280.0 L925.77,280.0 L926.22,280.0 L926.68,280.0 L927.13,280.0 L927.59,280.0 L928.04,280.0 L928.49,280.0 L928.95,280.1 L929.40,280.4 L929.86,280.8 L930.31,281.4 L930.77,282.1 L931.22,282.9 L931.68,283.6 L932.13,284.4 L932.59,285.4 L933.04,286.6 L933.49,287.9 L933.95,289.3 L934.40,290.9 L934.86,292.5 L935.31,294.2 L935.77,296.1 L936.22,298.4 L936.68,300.8 L937.13,303.4 L937.59,305.9 L938.04,308.4 L938.49,310.7 L938.95,312.8 L939.40,314.9 L939.86,316.9 L940.31,318.9 L940.77,320.9 L941.22,322.8 L941.68,324.7 L942.13,326.7 L942.59,328.8 L943.04,330.9 L943.49,333.0 L943.95,335.0 L944.40,336.8 L944.86,338.2 L945.31,339.3 L945.77,340.2 L946.22,341.0 L946.68,341.8 L947.13,342.4 L947.59,342.7 L948.04,342.8 L948.49,342.7 L948.95,342.4 L949.40,342.0 L949.86,341.5 L950.31,341.0 L950.77,340.4 L951.22,339.6 L951.68,338.3 L952.13,336.7 L952.59,334.9 L953.04,332.9 L953.49,330.9 L953.95,328.9 L954.40,327.1 L954.86,325.2 L955.31,323.3 L955.77,321.4 L956.22,319.4 L956.68,317.3 L957.13,315.2 L957.59,312.9 L958.04,310.4 L958.49,307.6 L958.95,304.7 L959.40,301.7 L959.86,298.9 L960.31,296.3 L960.77,294.1 L961.22,292.1 L961.68,290.3 L962.13,288.5 L962.59,286.8 L963.04,285.3 L963.49,284.0 L963.95,283.1 L964.40,282.4 L964.86,281.8 L965.31,281.2 L965.77,280.7 L966.22,280.3 L966.68,280.0 L967.13,279.8 L967.59,279.7 L968.04,279.8 L968.49,279.9 L968.95,280.0 L969.40,280.2 L969.86,280.4 L970.31,280.6 L970.77,280.9 L971.22,281.2 L971.68,281.6 L972.13,282.1 L972.59,282.6 L973.04,283.2 L973.49,283.7 L973.95,284.2 L974.40,284.5 L974.86,284.9 L975.31,285.3 L975.77,285.6 L976.22,286.0 L976.68,286.3 L977.13,286.6 L977.59,286.7 L978.04,286.8 L978.49,286.8 L978.95,286.8 L979.40,286.6 L979.86,286.4 L980.31,286.2 L980.77,285.9 L981.22,285.7 L981.68,285.4 L982.13,285.1 L982.59,284.8 L983.04,284.5 L983.49,284.2 L983.95,283.8 L984.40,283.4 L984.86,283.0 L985.31,282.5 L985.77,282.1 L986.22,281.6 L986.68,281.2 L987.13,280.9 L987.59,280.6 L988.04,280.4 L988.49,280.2 L988.95,280.2 L989.40,280.2 L989.86,280.2 L990.31,280.2 L990.77,280.2 L991.22,280.3 L991.68,280.3 L992.13,280.3 L992.59,280.3 L993.04,280.3 L993.49,280.3 L993.95,280.4 L994.40,280.4 L994.86,280.4 L995.31,280.4 L995.77,280.4 L996.22,280.4 L996.68,280.4 L997.13,280.5 L997.59,280.5 L998.04,280.5 L998.49,280.5 L998.95,280.4 L999.40,280.2 L999.86,280.0 L1000.31,280.0 L1000.77,280.0 L1001.22,280.0 L1001.68,280.0 L1002.13,280.1 L1002.59,280.1 L1003.04,280.2 L1003.49,280.2 L1003.95,280.3 L1004.40,280.3 L1004.86,280.4 L1005.31,280.4 L1005.77,280.5 L1006.22,280.6 L1006.68,280.6 L1007.13,280.6 L1007.59,280.7 L1008.04,280.7 L1008.49,280.7 L1008.95,280.7 L1009.40,280.7 L1009.86,280.7 L1010.31,280.6 L1010.77,280.6 L1011.22,280.6 L1011.68,280.5 L1012.13,280.4 L1012.59,280.4 L1013.04,280.3 L1013.49,280.2 L1013.95,280.1 L1014.40,280.1 L1014.86,280.0 L1015.31,279.9 L1015.77,279.9 L1016.22,279.8 L1016.68,279.8 L1017.13,279.7 L1017.59,279.7 L1018.04,279.7 L1018.49,279.7 L1018.95,279.7 L1019.40,279.7 L1019.86,279.7 L1020.31,279.7 L1020.77,279.7 L1021.22,279.7 L1021.68,279.7 L1022.13,279.7 L1022.59,279.7 L1023.04,279.7 L1023.49,279.7 L1023.95,279.7 L1024.40,279.7 L1024.86,279.7 L1025.31,279.7 L1025.77,279.7 L1026.22,279.7 L1026.68,279.7 L1027.13,279.7 L1027.59,279.7 L1028.04,279.7 L1028.49,279.7 L1028.95,279.7 L1029.40,279.7 L1029.86,279.7 L1030.31,279.7 L1030.77,279.7 L1031.22,279.7 L1031.68,279.7 L1032.13,279.7 L1032.59,279.7 L1033.04,279.7 L1033.49,279.7 L1033.95,279.7 L1034.40,279.7 L1034.86,279.7 L1035.31,279.7 L1035.77,279.7 L1036.22,279.7 L1036.68,279.7 L1037.13,279.7 L1037.59,279.7 L1038.04,279.7 L1038.49,279.7 L1038.95,279.7 L1039.40,279.7 L1039.86,279.7 L1040.31,279.7 L1040.77,279.7 L1041.22,279.7 L1041.68,279.7 L1042.13,279.7 L1042.59,279.7 L1043.04,279.8 L1043.49,279.9 L1043.95,280.1 L1044.40,280.4 L1044.86,280.6 L1045.31,280.9 L1045.77,281.3 L1046.22,281.6 L1046.68,281.9 L1047.13,282.2 L1047.59,282.5 L1048.04,282.7 L1048.49,283.0 L1048.95,283.2 L1049.40,283.5 L1049.86,283.8 L1050.31,284.0 L1050.77,284.3 L1051.22,284.6 L1051.68,284.9 L1052.13,285.2 L1052.59,285.4 L1053.04,285.6 L1053.49,285.8 L1053.95,286.0 L1054.40,286.2 L1054.86,286.3 L1055.31,286.3 L1055.77,286.4 L1056.22,286.3 L1056.68,286.3 L1057.13,286.2 L1057.59,286.0 L1058.04,285.9 L1058.49,285.7 L1058.95,285.4 L1059.40,285.2 L1059.86,284.9 L1060.31,284.7 L1060.77,284.4 L1061.22,284.1 L1061.68,283.9 L1062.13,283.6 L1062.59,283.3 L1063.04,283.0 L1063.49,282.6 L1063.95,282.2 L1064.40,281.8 L1064.86,281.4 L1065.31,281.0 L1065.77,280.6 L1066.22,280.4 L1066.68,280.2 L1067.13,280.2 L1067.59,280.2 L1068.04,280.2 L1068.49,280.2 L1068.95,280.2 L1069.40,280.2 L1069.86,280.2 L1070.31,280.2 L1070.77,280.2 L1071.22,280.2 L1071.68,280.2 L1072.13,280.2 L1072.59,280.2 L1073.04,280.2 L1073.49,280.2 L1073.95,280.2 L1074.40,280.2 L1074.86,280.2 L1075.31,280.2 L1075.77,280.2 L1076.22,280.2 L1076.68,280.2 L1077.13,280.1 L1077.59,280.1 L1078.04,280.1 L1078.49,280.1 L1078.95,280.1 L1079.40,280.1 L1079.86,280.1 L1080.31,280.1 L1080.77,280.1 L1081.22,280.1 L1081.68,280.1 L1082.13,280.1 L1082.59,280.1 L1083.04,280.1 L1083.49,280.1 L1083.95,280.1 L1084.40,280.1 L1084.86,280.1 L1085.31,280.1 L1085.77,280.1 L1086.22,280.1 L1086.68,280.1 L1087.13,280.1 L1087.59,280.1 L1088.04,280.1 L1088.49,280.1 L1088.95,280.1 L1089.40,280.1 L1089.86,280.1 L1090.31,280.1 L1090.77,280.1 L1091.22,280.1 L1091.68,280.1 L1092.13,280.1 L1092.59,280.1 L1093.04,280.1 L1093.49,280.1 L1093.95,280.1 L1094.40,280.1 L1094.86,280.1 L1095.31,280.1 L1095.77,280.1 L1096.22,280.1 L1096.68,280.1 L1097.13,280.0 L1097.59,280.0 L1098.04,280.0 L1098.49,280.0 L1098.95,280.0 L1099.40,280.0 L1099.86,280.0 L1100.31,280.0 L1100.77,280.0 L1101.22,280.0 L1101.68,280.0 L1102.13,280.0 L1102.59,280.0 L1103.04,280.0 L1103.49,280.0 L1103.95,280.0 L1104.40,280.0 L1104.86,280.0 L1105.31,280.0 L1105.77,280.0 L1106.22,280.0 L1106.68,280.0 L1107.13,280.0 L1107.59,280.0 L1108.04,280.0 L1108.49,280.0 L1108.95,280.0 L1109.40,280.0 L1109.86,280.0 L1110.31,280.0 L1110.77,280.0 L1111.22,280.0 L1111.68,280.0 L1112.13,280.0 L1112.59,280.0 L1113.04,280.0 L1113.49,280.0 L1113.95,280.0 L1114.40,280.0 L1114.86,280.0 L1115.31,280.0 L1115.77,280.0 L1116.22,280.0 L1116.68,280.0 L1117.13,280.0 L1117.59,280.0 L1118.04,280.0 L1118.49,280.0 L1118.95,280.0 L1119.40,280.0 L1119.86,280.0 L1120.31,280.0 L1120.77,280.0 L1121.22,280.0 L1121.68,280.0 L1122.13,280.0 L1122.59,280.0 L1123.04,280.0 L1123.49,280.0 L1123.95,280.0 L1124.40,280.0 L1124.86,280.0 L1125.31,280.0 L1125.77,280.0 L1126.22,280.0 L1126.68,280.0 L1127.13,280.0 L1127.59,280.0 L1128.04,280.0 L1128.49,280.0 L1128.95,280.0 L1129.40,280.0 L1129.86,280.0 L1130.31,280.0 L1130.77,280.0 L1131.22,280.0 L1131.68,280.0 L1132.13,280.0 L1132.59,280.0 L1133.04,280.0 L1133.49,280.0 L1133.95,280.0 L1134.40,280.0 L1134.86,280.0 L1135.31,280.0 L1135.77,280.0 L1136.22,280.0 L1136.68,280.0 L1137.13,280.0 L1137.59,280.0 L1138.04,280.0 L1138.49,280.0 L1138.95,280.0 L1139.40,280.0 L1139.86,280.0 L1140.31,280.0 L1140.77,280.0 L1141.22,280.0 L1141.68,280.0 L1142.13,280.0 L1142.59,280.0 L1143.04,280.0 L1143.49,280.0 L1143.95,280.0 L1144.40,280.0 L1144.86,280.0 L1145.31,280.0 L1145.77,280.0 L1146.22,280.0 L1146.68,280.0 L1147.13,280.0 L1147.59,280.0 L1148.04,280.0 L1148.49,280.0 L1148.95,280.0 L1149.40,280.0 L1149.86,280.0 L1150.31,280.0 L1150.77,280.0 L1151.22,280.0 L1151.68,280.0 L1152.13,280.0 L1152.59,280.1 L1153.04,280.2 L1153.49,280.4 L1153.95,280.6 L1154.40,280.9 L1154.86,281.2 L1155.31,281.4 L1155.77,281.7 L1156.22,282.0 L1156.68,282.3 L1157.13,282.6 L1157.59,282.8 L1158.04,283.0 L1158.49,283.2 L1158.95,283.4 L1159.40,283.5 L1159.86,283.7 L1160.31,283.9 L1160.77,284.0 L1161.22,284.2 L1161.68,284.4 L1162.13,284.5 L1162.59,284.7 L1163.04,284.8 L1163.49,285.0 L1163.95,285.1 L1164.40,285.3 L1164.86,285.4 L1165.31,285.5 L1165.77,285.6 L1166.22,285.7 L1166.68,285.7 L1167.13,285.8 L1167.59,285.8 L1168.04,285.9 L1168.49,285.9 L1168.95,285.8 L1169.40,285.8 L1169.86,285.7 L1170.31,285.6 L1170.77,285.5 L1171.22,285.4 L1171.68,285.2 L1172.13,285.1 L1172.59,284.9 L1173.04,284.7 L1173.49,284.5 L1173.95,284.4 L1174.40,284.2 L1174.86,284.0 L1175.31,283.8 L1175.77,283.6 L1176.22,283.4 L1176.68,283.2 L1177.13,283.0 L1177.59,282.8 L1178.04,282.5 L1178.49,282.2 L1178.95,281.9 L1179.40,281.6 L1179.86,281.3 L1180.31,281.1 L1180.77,280.8 L1181.22,280.6 L1181.68,280.5 L1182.13,280.3 L1182.59,280.2 L1183.04,280.2 L1183.49,280.2 L1183.95,280.2 L1184.40,280.2 L1184.86,280.2 L1185.31,280.2 L1185.77,280.2 L1186.22,280.2 L1186.68,280.2 L1187.13,280.2 L1187.59,280.2 L1188.04,280.2 L1188.49,280.2 L1188.95,280.2 L1189.40,280.2 L1189.86,280.2 L1190.31,280.2 L1190.77,280.2 L1191.22,280.2 L1191.68,280.1 L1192.13,280.1 L1192.59,280.1 L1193.04,280.1 L1193.49,280.1 L1193.95,280.1 L1194.40,280.1 L1194.86,280.1 L1195.31,280.1 L1195.77,280.1 L1196.22,280.1 L1196.68,280.1 L1197.13,280.1 L1197.59,280.1 L1198.04,280.1 L1198.49,280.1 L1198.95,280.1 L1199.40,280.1 L1199.86,280.1 L1200.31,280.1 L1200.77,280.1 L1201.22,280.1 L1201.68,280.1 L1202.13,280.1 L1202.59,280.1 L1203.04,280.1 L1203.49,280.1 L1203.95,280.1 L1204.40,280.1 L1204.86,280.1 L1205.31,280.1 L1205.77,280.1 L1206.22,280.1 L1206.68,280.1 L1207.13,280.1 L1207.59,280.1 L1208.04,280.1 L1208.49,280.0 L1208.95,280.0 L1209.40,280.0 L1209.86,280.0 L1210.31,280.0 L1210.77,280.0 L1211.22,280.0 L1211.68,280.0 L1212.13,280.0 L1212.59,280.0 L1213.04,280.0 L1213.49,280.0 L1213.95,280.0 L1214.40,280.0 L1214.86,280.0 L1215.31,280.0 L1215.77,280.0 L1216.22,280.0 L1216.68,280.0 L1217.13,280.0 L1217.59,280.0 L1218.04,280.0 L1218.49,280.0 L1218.95,280.0 L1219.40,280.0 L1219.86,280.0 L1220.31,280.0 L1220.77,280.0 L1221.22,280.0 L1221.68,280.0 L1222.13,280.0 L1222.59,280.0 L1223.04,280.0 L1223.49,280.0 L1223.95,280.0 L1224.40,280.0 L1224.86,280.0 L1225.31,280.0 L1225.77,280.0 L1226.22,280.0 L1226.68,280.0 L1227.13,280.0 L1227.59,280.0 L1228.04,280.0 L1228.49,280.0 L1228.95,280.0 L1229.40,280.0 L1229.86,280.0 L1230.31,280.0 L1230.77,280.0 L1231.22,280.0 L1231.68,280.0 L1232.13,280.0 L1232.59,280.0 L1233.04,280.0 L1233.49,280.0 L1233.95,280.0 L1234.40,280.0 L1234.86,280.0 L1235.31,280.0 L1235.77,280.0 L1236.22,280.0 L1236.68,280.0 L1237.13,280.0 L1237.59,280.0 L1238.04,280.0 L1238.49,280.0 L1238.95,280.0 L1239.40,280.0 L1239.86,280.0 L1240.31,280.0 L1240.77,280.0 L1241.22,280.0 L1241.68,280.0 L1242.13,280.0 L1242.59,280.0 L1243.04,280.0 L1243.49,280.0 L1243.95,280.0 L1244.40,280.0 L1244.86,280.0 L1245.31,280.0 L1245.77,280.0 L1246.22,280.0 L1246.68,280.0 L1247.13,280.0 L1247.59,280.0 L1248.04,280.0 L1248.49,280.0 L1248.95,280.0 L1249.40,280.0 L1249.86,280.0 L1250.31,280.0 L1250.77,280.0 L1251.22,280.0 L1251.68,280.0 L1252.13,280.0 L1252.59,280.0 L1253.04,280.0 L1253.49,280.0 L1253.95,280.0 L1254.40,280.0 L1254.86,280.0 L1255.31,280.0 L1255.77,280.0 L1256.22,280.0 L1256.68,280.0 L1257.13,280.0 L1257.59,280.0 L1258.04,280.0 L1258.49,280.0 L1258.95,280.0 L1259.40,280.0 L1259.86,280.0 L1260.31,280.0 L1260.77,280.0 L1261.22,280.0 L1261.68,280.0 L1262.13,280.0 L1262.59,280.0 L1263.04,280.0 L1263.49,280.0 L1263.95,280.0 L1264.40,280.0 L1264.86,280.0 L1265.31,280.0 L1265.77,280.0 L1266.22,280.0 L1266.68,280.0 L1267.13,280.0 L1267.59,280.0 L1268.04,280.0 L1268.49,280.0 L1268.95,280.0 L1269.40,280.0 L1269.86,280.0 L1270.31,280.0 L1270.77,280.0 L1271.22,280.0 L1271.68,280.0 L1272.13,280.0 L1272.59,280.0 L1273.04,280.0 L1273.49,280.0 L1273.95,280.0 L1274.40,280.0 L1274.86,280.0 L1275.31,280.0 L1275.77,280.0 L1276.22,280.0 L1276.68,280.0 L1277.13,280.0 L1277.59,280.1 L1278.04,280.3 L1278.49,280.4 L1278.95,280.6 L1279.40,280.8 L1279.86,281.0 L1280.31,281.2 L1280.77,281.4 L1281.22,281.6 L1281.68,281.7 L1282.13,281.8 L1282.59,281.9 L1283.04,281.9 L1283.49,281.9 L1283.95,281.9 L1284.40,281.8 L1284.86,281.7 L1285.31,281.6 L1285.77,281.5 L1286.22,281.3 L1286.68,281.2 L1287.13,281.0 L1287.59,280.8 L1288.04,280.7 L1288.49,280.5 L1288.95,280.3 L1289.40,280.2 L1289.86,280.1 L1290.31,280.0 L1290.77,279.9 L1291.22,279.8 L1291.68,279.7 L1292.13,279.7 L1292.59,279.7 L1293.04,279.7 L1293.49,279.7 L1293.95,279.7 L1294.40,279.7 L1294.86,279.7 L1295.31,279.7 L1295.77,279.7 L1296.22,279.7 L1296.68,279.7 L1297.13,279.7 L1297.59,279.7 L1298.04,279.7 L1298.49,279.7 L1298.95,279.7 L1299.40,279.7 L1299.86,279.7 L1300.31,279.7 L1300.77,279.7 L1301.22,279.7 L1301.68,279.7 L1302.13,279.7 L1302.59,279.7 L1303.04,279.7 L1303.49,279.7 L1303.95,279.7 L1304.40,279.7 L1304.86,279.7 L1305.31,279.7 L1305.77,279.7 L1306.22,279.7 L1306.68,279.7 L1307.13,279.7 L1307.59,279.7 L1308.04,279.7 L1308.49,279.8 L1308.95,279.9 L1309.40,280.0 L1309.86,280.2 L1310.31,280.3 L1310.77,280.5 L1311.22,280.7 L1311.68,280.9 L1312.13,281.1 L1312.59,281.3 L1313.04,281.4 L1313.49,281.6 L1313.95,281.7 L1314.40,281.8 L1314.86,281.9 L1315.31,281.9 L1315.77,281.9 L1316.22,281.9 L1316.68,281.9 L1317.13,281.8 L1317.59,281.7 L1318.04,281.6 L1318.49,281.5 L1318.95,281.4 L1319.40,281.3 L1319.86,281.1 L1320.31,281.0 L1320.77,280.9 L1321.22,280.7 L1321.68,280.6 L1322.13,280.5 L1322.59,280.4 L1323.04,280.3 L1323.49,280.2 L1323.95,280.1 L1324.40,280.0 L1324.86,280.0 L1325.31,280.0 L1325.77,280.0 L1326.22,280.0 L1326.68,280.0 L1327.13,280.0 L1327.59,280.0 L1328.04,280.0 L1328.49,280.0 L1328.95,280.0 L1329.40,280.0 L1329.86,280.0 L1330.31,280.0 L1330.77,280.0 L1331.22,280.0 L1331.68,280.0 L1332.13,280.0 L1332.59,280.0 L1333.04,280.0 L1333.49,280.0 L1333.95,280.0 L1334.40,280.0 L1334.86,280.0 L1335.31,280.2 L1335.77,280.4 L1336.22,280.7 L1336.68,281.1 L1337.13,281.6 L1337.59,282.1 L1338.04,282.7 L1338.49,283.3 L1338.95,284.0 L1339.40,285.0 L1339.86,286.4 L1340.31,288.2 L1340.77,290.2 L1341.22,292.2 L1341.68,294.1 L1342.13,295.8 L1342.59,297.2 L1343.04,298.5 L1343.49,299.9 L1343.95,301.2 L1344.40,302.4 L1344.86,303.6 L1345.31,304.7 L1345.77,305.6 L1346.22,306.5 L1346.68,307.2 L1347.13,307.8 L1347.59,308.3 L1348.04,308.9 L1348.49,309.4 L1348.95,309.9 L1349.40,310.4 L1349.86,310.8 L1350.31,311.1 L1350.77,311.4 L1351.22,311.5 L1351.68,311.6 L1352.13,311.6 L1352.59,311.5 L1353.04,311.2 L1353.49,310.8 L1353.95,310.3 L1354.40,309.8 L1354.86,309.2 L1355.31,308.5 L1355.77,307.7 L1356.22,306.9 L1356.68,306.1 L1357.13,305.1 L1357.59,303.7 L1358.04,302.0 L1358.49,300.1 L1358.95,298.1 L1359.40,296.2 L1359.86,294.5 L1360.31,293.1 L1360.77,291.7 L1361.22,290.4 L1361.68,289.1 L1362.13,287.8 L1362.59,286.6 L1363.04,285.5 L1363.49,284.5 L1363.95,283.6 L1364.40,282.9 L1364.86,282.3 L1365.31,281.7 L1365.77,281.2 L1366.22,280.7 L1366.68,280.3 L1367.13,280.0 L1367.59,279.8 L1368.04,279.7 L1368.49,279.7 L1368.95,279.7 L1369.40,279.7 L1369.86,279.7 L1370.31,279.7 L1370.77,279.7 L1371.22,279.7 L1371.68,279.7 L1372.13,279.7 L1372.59,279.7 L1373.04,279.7 L1373.49,279.7 L1373.95,279.7 L1374.40,279.7 L1374.86,279.7 L1375.31,279.7 L1375.77,279.7 L1376.22,279.7 L1376.68,279.7 L1377.13,279.8 L1377.59,280.0 L1378.04,280.4 L1378.49,280.9 L1378.95,281.5 L1379.40,282.3 L1379.86,283.1 L1380.31,284.0 L1380.77,285.0 L1381.22,286.1 L1381.68,287.7 L1382.13,289.7 L1382.59,292.0 L1383.04,294.4 L1383.49,297.1 L1383.95,299.7 L1384.40,302.2 L1384.86,304.7 L1385.31,307.2 L1385.77,309.8 L1386.22,312.4 L1386.68,315.1 L1387.13,317.9 L1387.59,320.7 L1388.04,323.5 L1388.49,326.5 L1388.95,329.6 L1389.40,332.8 L1389.86,336.0 L1390.31,339.1 L1390.77,342.0 L1391.22,344.6 L1391.68,347.1 L1392.13,349.6 L1392.59,352.1 L1393.04,354.5 L1393.49,356.8 L1393.95,358.9 L1394.40,360.9 L1394.86,362.5 L1395.31,363.9 L1395.77,364.8 L1396.22,365.6 L1396.68,366.3 L1397.13,366.9 L1397.59,367.5 L1398.04,368.0 L1398.49,368.5 L1398.95,368.8 L1399.40,369.1 L1399.86,369.3 L1400.31,369.3 L1400.77,369.3 L1401.22,369.1 L1401.68,368.9 L1402.13,368.7 L1402.59,368.3 L1403.04,368.0 L1403.49,367.5 L1403.95,367.1 L1404.40,366.6 L1404.86,366.1 L1405.31,365.5 L1405.77,365.0 L1406.22,364.3 L1406.68,363.4 L1407.13,362.4 L1407.59,361.2 L1408.04,359.9 L1408.49,358.5 L1408.95,357.2 L1409.40,355.9 L1409.86,354.8 L1410.31,353.8 L1410.77,352.9 L1411.22,352.1 L1411.68,351.2 L1412.13,350.4 L1412.59,349.6 L1413.04,348.9 L1413.49,348.2 L1413.95,347.5 L1414.40,346.9 L1414.86,346.4 L1415.31,345.8 L1415.77,345.4 L1416.22,344.9 L1416.68,344.5 L1417.13,344.1 L1417.59,343.7 L1418.04,343.3 L1418.49,342.9 L1418.95,342.6 L1419.40,342.2 L1419.86,341.8 L1420.31,341.4 L1420.77,341.0 L1421.22,340.6 L1421.68,340.1 L1422.13,339.6 L1422.59,339.1 L1423.04,338.6 L1423.49,338.1 L1423.95,337.5 L1424.40,336.9 L1424.86,336.4 L1425.31,335.9 L1425.77,335.3 L1426.22,334.8 L1426.68,334.3 L1427.13,333.9 L1427.59,333.4 L1428.04,333.1 L1428.49,332.7 L1428.95,332.3 L1429.40,332.0 L1429.86,331.6 L1430.31,331.2 L1430.77,330.9 L1431.22,330.6 L1431.68,330.4 L1432.13,330.2 L1432.59,330.1 L1433.04,330.0 L1433.49,330.1 L1433.95,330.2 L1434.40,330.4 L1434.86,330.7 L1435.31,331.0 L1435.77,331.4 L1436.22,331.8 L1436.68,332.2 L1437.13,332.6 L1437.59,333.0 L1438.04,333.4 L1438.49,333.7 L1438.95,334.1 L1439.40,334.6 L1439.86,335.0 L1440.31,335.5 L1440.77,336.0 L1441.22,336.4 L1441.68,336.9 L1442.13,337.2 L1442.59,337.5 L1443.04,337.7 L1443.49,337.9 L1443.95,337.9 L1444.40,337.8 L1444.86,337.7 L1445.31,337.5 L1445.77,337.3 L1446.22,337.0 L1446.68,336.7 L1447.13,336.3 L1447.59,335.9 L1448.04,335.5 L1448.49,335.1 L1448.95,334.6 L1449.40,334.1 L1449.86,333.5 L1450.31,332.8 L1450.77,331.8 L1451.22,330.8 L1451.68,329.6 L1452.13,328.3 L1452.59,327.0 L1453.04,325.6 L1453.49,324.1 L1453.95,322.7 L1454.40,321.0 L1454.86,319.1 L1455.31,317.0 L1455.77,314.9 L1456.22,312.7 L1456.68,310.6 L1457.13,308.5 L1457.59,306.5 L1458.04,304.4 L1458.49,302.3 L1458.95,300.2 L1459.40,298.2 L1459.86,296.2 L1460.31,294.4 L1460.77,292.7 L1461.22,290.8 L1461.68,289.0 L1462.13,287.2 L1462.59,285.6 L1463.04,284.2 L1463.49,283.2 L1463.95,282.6 L1464.40,282.1 L1464.86,281.6 L1465.31,281.2 L1465.77,280.8 L1466.22,280.5 L1466.68,280.2 L1467.13,280.0 L1467.59,279.8 L1468.04,279.7 L1468.49,279.7 L1468.95,279.7 L1469.40,279.7 L1469.86,279.7 L1470.31,279.7 L1470.77,279.7 L1471.22,279.7 L1471.68,279.7 L1472.13,279.7 L1472.59,279.7 L1473.04,279.7 L1473.49,279.7 L1473.95,279.7 L1474.40,279.7 L1474.86,279.7 L1475.31,279.7 L1475.77,279.7 L1476.22,279.7 L1476.68,279.7 L1477.13,279.7 L1477.59,279.8 L1478.04,280.0 L1478.49,280.3 L1478.95,280.8 L1479.40,281.3 L1479.86,281.8 L1480.31,282.4 L1480.77,282.9 L1481.22,283.5 L1481.68,283.9 L1482.13,284.3 L1482.59,284.8 L1483.04,285.2 L1483.49,285.7 L1483.95,286.2 L1484.40,286.6 L1484.86,287.1 L1485.31,287.5 L1485.77,287.8 L1486.22,288.1 L1486.68,288.2 L1487.13,288.3 L1487.59,288.3 L1488.04,288.2 L1488.49,288.0 L1488.95,287.8 L1489.40,287.6 L1489.86,287.3 L1490.31,286.9 L1490.77,286.6 L1491.22,286.2 L1491.68,285.9 L1492.13,285.6 L1492.59,285.3 L1493.04,285.0 L1493.49,284.7 L1493.95,284.4 L1494.40,284.1 L1494.86,283.8 L1495.31,283.5 L1495.77,283.2 L1496.22,282.8 L1496.68,282.5 L1497.13,282.2 L1497.59,281.9 L1498.04,281.6 L1498.49,281.3 L1498.95,281.1 L1499.40,280.8 L1499.86,280.6 L1500.31,280.5 L1500.77,280.4 L1501.22,280.3 L1501.68,280.2 L1502.13,280.2 L1502.59,280.2 L1503.04,280.2 L1503.49,280.2 L1503.95,280.2 L1504.40,280.2 L1504.86,280.2 L1505.31,280.2 L1505.77,280.2 L1506.22,280.2 L1506.68,280.1 L1507.13,280.1 L1507.59,280.1 L1508.04,280.1 L1508.49,280.1 L1508.95,280.1 L1509.40,280.1 L1509.86,280.1 L1510.31,280.1 L1510.77,280.1 L1511.22,280.1 L1511.68,280.1 L1512.13,280.1 L1512.59,280.1 L1513.04,280.1 L1513.49,280.1 L1513.95,280.1 L1514.40,280.1 L1514.86,280.1 L1515.31,280.0 L1515.77,280.0 L1516.22,280.0 L1516.68,280.0 L1517.13,280.0 L1517.59,280.0 L1518.04,280.0 L1518.49,280.0 L1518.95,280.0 L1519.40,280.0 L1519.86,280.0 L1520.31,280.0 L1520.77,280.0 L1521.22,280.0 L1521.68,280.0 L1522.13,280.0 L1522.59,280.0 L1523.04,280.0 L1523.49,280.0 L1523.95,280.0 L1524.40,280.0 L1524.86,280.0 L1525.31,280.0 L1525.77,280.0 L1526.22,280.0 L1526.68,280.0 L1527.13,280.0 L1527.59,280.0 L1528.04,280.0 L1528.49,280.0 L1528.95,280.0 L1529.40,280.0 L1529.86,280.0 L1530.31,280.0 L1530.77,280.0 L1531.22,280.0 L1531.68,280.0 L1532.13,280.0 L1532.59,280.0 L1533.04,280.0 L1533.49,280.0 L1533.95,280.0 L1534.40,280.0 L1534.86,280.0 L1535.31,280.0 L1535.77,280.0 L1536.22,280.1 L1536.68,280.2 L1537.13,280.4 L1537.59,280.5 L1538.04,280.7 L1538.49,280.8 L1538.95,280.9 L1539.40,280.9 L1539.86,281.0 L1540.31,280.9 L1540.77,280.9 L1541.22,280.8 L1541.68,280.8 L1542.13,280.7 L1542.59,280.6 L1543.04,280.5 L1543.49,280.4 L1543.95,280.3 L1544.40,280.2 L1544.86,280.1 L1545.31,280.0 L1545.77,280.0 L1546.22,280.0 L1546.68,280.0 L1547.13,280.0 L1547.59,280.0 L1548.04,280.0 L1548.49,280.0 L1548.95,280.0 L1549.40,280.0 L1549.86,280.0 L1550.31,280.0 L1550.77,280.0 L1551.22,280.0 L1551.68,280.0 L1552.13,280.0 L1552.59,280.0 L1553.04,280.0 L1553.49,280.0 L1553.95,280.0 L1554.40,280.0 L1554.86,280.0 L1555.31,280.0 L1555.77,280.0 L1556.22,280.0 L1556.68,280.0 L1557.13,280.0 L1557.59,280.0 L1558.04,280.0 L1558.49,280.0 L1558.95,280.0 L1559.40,280.0 L1559.86,280.0 L1560.31,280.0 L1560.77,280.0 L1561.22,280.0 L1561.68,280.0 L1562.13,280.0 L1562.59,280.0 L1563.04,280.0 L1563.49,280.0 L1563.95,280.0 L1564.40,280.0 L1564.86,280.0 L1565.31,280.0 L1565.77,280.0 L1566.22,280.0 L1566.68,280.0 L1567.13,280.0 L1567.59,280.0 L1568.04,280.0 L1568.49,280.0 L1568.95,280.0 L1569.40,280.0 L1569.86,280.0 L1570.31,280.0 L1570.77,280.0 L1571.22,280.0 L1571.68,280.0 L1572.13,280.0 L1572.59,280.0 L1573.04,280.0 L1573.49,280.0 L1573.95,280.0"/>
<path id="c-red" stroke="#ff0000" stroke-width="6" d="M43.95,647.0 L44.40,647.0 L44.86,647.0 L45.31,647.0 L45.77,647.0 L46.22,647.0 L46.68,647.0 L47.13,647.0 L47.59,647.0 L48.04,647.0 L48.49,647.0 L48.95,647.0 L49.40,647.0 L49.86,647.0 L50.31,647.0 L50.77,647.0 L51.22,647.0 L51.68,647.0 L52.13,647.0 L52.59,647.0 L53.04,647.0 L53.49,647.0 L53.95,647.0 L54.40,647.0 L54.86,647.0 L55.31,647.0 L55.77,647.0 L56.22,647.0 L56.68,647.0 L57.13,647.2 L57.59,648.1 L58.04,649.7 L58.49,651.7 L58.95,653.7 L59.40,655.6 L59.86,657.7 L60.31,660.0 L60.77,662.5 L61.22,665.0 L61.68,667.5 L62.13,669.9 L62.59,672.2 L63.04,674.7 L63.49,677.3 L63.95,679.6 L64.40,681.1 L64.86,681.4 L65.31,681.2 L65.77,680.8 L66.22,680.3 L66.68,679.8 L67.13,679.4 L67.59,679.1 L68.04,678.9 L68.49,679.1 L68.95,679.6 L69.40,680.4 L69.86,681.2 L70.31,682.1 L70.77,682.9 L71.22,683.6 L71.68,684.1 L72.13,684.5 L72.59,684.8 L73.04,685.1 L73.49,685.4 L73.95,685.7 L74.40,686.0 L74.86,686.4 L75.31,686.8 L75.77,687.4 L76.22,688.3 L76.68,689.7 L77.13,691.6 L77.59,693.7 L78.04,696.0 L78.49,698.4 L78.95,700.9 L79.40,703.7 L79.86,706.7 L80.31,710.0 L80.77,713.3 L81.22,717.2 L81.68,721.5 L82.13,725.8 L82.59,729.9 L83.04,733.2 L83.49,735.9 L83.95,738.3 L84.40,740.5 L84.86,742.6 L85.31,744.7 L85.77,747.0 L86.22,749.5 L86.68,752.3 L87.13,755.2 L87.59,758.0 L88.04,760.8 L88.49,763.3 L88.95,765.6 L89.40,767.6 L89.86,769.5 L90.31,771.4 L90.77,773.1 L91.22,774.8 L91.68,776.4 L92.13,778.0 L92.59,779.6 L93.04,781.2 L93.49,783.0 L93.95,784.8 L94.40,786.6 L94.86,788.4 L95.31,789.9 L95.77,791.2 L96.22,792.3 L96.68,792.9 L97.13,793.0 L97.59,792.8 L98.04,792.3 L98.49,791.6 L98.95,790.8 L99.40,789.8 L99.86,788.8 L100.31,787.8 L100.77,786.9 L101.22,786.1 L101.68,785.5 L102.13,784.9 L102.59,784.4 L103.04,783.9 L103.49,783.4 L103.95,782.9 L104.40,782.5 L104.86,782.0 L105.31,781.5 L105.77,781.0 L106.22,780.4 L106.68,779.8 L107.13,779.1 L107.59,778.3 L108.04,777.5 L108.49,776.8 L108.95,776.2 L109.40,775.7 L109.86,775.3 L110.31,775.1 L110.77,775.1 L111.22,775.1 L111.68,775.1 L112.13,775.1 L112.59,775.1 L113.04,775.1 L113.49,775.1 L113.95,775.1 L114.40,775.1 L114.86,775.1 L115.31,775.1 L115.77,775.1 L116.22,775.1 L116.68,774.9 L117.13,774.6 L117.59,774.1 L118.04,773.6 L118.49,772.9 L118.95,772.1 L119.40,771.3 L119.86,770.5 L120.31,769.6 L120.77,768.8 L121.22,767.9 L121.68,767.1 L122.13,766.2 L122.59,765.0 L123.04,763.8 L123.49,762.5 L123.95,761.3 L124.40,760.1 L124.86,759.0 L125.31,758.2 L125.77,757.6 L126.22,757.4 L126.68,757.2 L127.13,757.1 L127.59,757.0 L128.04,756.9 L128.49,756.9 L128.95,756.8 L129.40,756.7 L129.86,756.7 L130.31,756.6 L130.77,756.5 L131.22,756.4 L131.68,756.2 L132.13,755.9 L132.59,755.5 L133.04,755.0 L133.49,754.4 L133.95,753.8 L134.40,753.2 L134.86,752.5 L135.31,751.9 L135.77,751.4 L136.22,751.0 L136.68,750.7 L137.13,750.6 L137.59,750.7 L138.04,751.1 L138.49,751.8 L138.95,752.6 L139.40,753.7 L139.86,754.8 L140.31,756.1 L140.77,757.4 L141.22,758.7 L141.68,759.9 L142.13,761.2 L142.59,762.6 L143.04,764.1 L143.49,765.7 L143.95,767.5 L144.40,769.4 L144.86,771.5 L145.31,773.8 L145.77,776.6 L146.22,779.9 L146.68,783.4 L147.13,787.0 L147.59,790.7 L148.04,794.3 L148.49,797.7 L148.95,801.0 L149.40,804.3 L149.86,807.6 L150.31,810.9 L150.77,814.2 L151.22,817.6 L151.68,821.1 L152.13,824.6 L152.59,828.1 L153.04,831.8 L153.49,835.4 L153.95,839.1 L154.40,842.9 L154.86,846.7 L155.31,850.5 L155.77,854.4 L156.22,858.4 L156.68,862.4 L157.13,866.5 L157.59,870.5 L158.04,874.6 L158.49,878.6 L158.95,882.5 L159.40,886.5 L159.86,890.4 L160.31,894.3 L160.77,898.3 L161.22,902.4 L161.68,906.5 L162.13,911.1 L162.59,916.1 L163.04,921.0 L163.49,925.5 L163.95,929.1 L164.40,932.0 L164.86,934.7 L165.31,936.4 L165.77,936.5 L166.22,935.8 L166.68,934.6 L167.13,932.9 L167.59,930.9 L168.04,928.7 L168.49,926.5 L168.95,923.6 L169.40,919.9 L169.86,915.6 L170.31,910.8 L170.77,905.8 L171.22,900.8 L171.68,895.9 L172.13,891.2 L172.59,886.4 L173.04,881.4 L173.49,876.3 L173.95,871.2 L174.40,866.1 L174.86,861.0 L175.31,856.0 L175.77,850.9 L176.22,845.7 L176.68,840.5 L177.13,835.4 L177.59,830.4 L178.04,825.6 L178.49,821.0 L178.95,816.9 L179.40,813.2 L179.86,809.7 L180.31,806.2 L180.77,802.4 L181.22,798.3 L181.68,793.5 L182.13,787.4 L182.59,779.4 L183.04,770.4 L183.49,761.5 L183.95,753.9 L184.40,748.1 L184.86,742.9 L185.31,738.1 L185.77,733.7 L186.22,729.5 L186.68,725.2 L187.13,720.9 L187.59,716.2 L188.04,711.1 L188.49,705.7 L188.95,700.4 L189.40,695.2 L189.86,690.6 L190.31,686.7 L190.77,683.7 L191.22,681.2 L191.68,678.9 L192.13,676.7 L192.59,674.8 L193.04,673.2 L193.49,672.1 L193.95,671.6 L194.40,671.6 L194.86,671.8 L195.31,672.1 L195.77,672.5 L196.22,673.1 L196.68,673.7 L197.13,674.3 L197.59,675.0 L198.04,675.7 L198.49,676.4 L198.95,677.1 L199.40,677.8 L199.86,678.7 L200.31,679.5 L200.77,680.5 L201.22,681.5 L201.68,682.6 L202.13,683.8 L202.59,685.1 L203.04,686.4 L203.49,687.9 L203.95,689.6 L204.40,691.4 L204.86,693.5 L205.31,695.7 L205.77,697.9 L206.22,700.3 L206.68,702.8 L207.13,705.6 L207.59,708.6 L208.04,711.7 L208.49,714.9 L208.95,718.1 L209.40,721.2 L209.86,724.1 L210.31,727.0 L210.77,730.0 L211.22,732.9 L211.68,735.7 L212.13,738.3 L212.59,740.7 L213.04,742.7 L213.49,744.4 L213.95,746.0 L214.40,747.5 L214.86,748.9 L215.31,750.1 L215.77,751.2 L216.22,752.2 L216.68,753.1 L217.13,753.9 L217.59,754.8 L218.04,755.6 L218.49,756.3 L218.95,756.9 L219.40,757.4 L219.86,757.8 L220.31,757.9 L220.77,757.9 L221.22,757.7 L221.68,757.5 L222.13,757.1 L222.59,756.7 L223.04,756.2 L223.49,755.7 L223.95,755.2 L224.40,754.7 L224.86,754.2 L225.31,753.8 L225.77,753.4 L226.22,753.1 L226.68,752.8 L227.13,752.5 L227.59,752.2 L228.04,751.8 L228.49,751.5 L228.95,751.1 L229.40,750.6 L229.86,750.0 L230.31,749.2 L230.77,748.2 L231.22,747.0 L231.68,745.7 L232.13,744.1 L232.59,742.4 L233.04,740.6 L233.49,738.5 L233.95,735.7 L234.40,732.4 L234.86,728.9 L235.31,725.3 L235.77,721.9 L236.22,719.0 L236.68,716.6 L237.13,714.3 L237.59,712.2 L238.04,710.2 L238.49,708.3 L238.95,706.4 L239.40,704.6 L239.86,702.9 L240.31,701.2 L240.77,699.5 L241.22,697.9 L241.68,696.3 L242.13,694.8 L242.59,693.2 L243.04,691.8 L243.49,690.4 L243.95,689.1 L244.40,687.8 L244.86,686.6 L245.31,685.5 L245.77,684.5 L246.22,683.6 L246.68,682.7 L247.13,681.8 L247.59,681.0 L248.04,680.1 L248.49,679.1 L248.95,678.1 L249.40,676.9 L249.86,675.5 L250.31,673.8 L250.77,671.6 L251.22,669.2 L251.68,666.7 L252.13,664.1 L252.59,661.6 L253.04,659.2 L253.49,657.2 L253.95,655.6 L254.40,654.1 L254.86,652.7 L255.31,651.3 L255.77,650.0 L256.22,649.0 L256.68,648.3 L257.13,647.9 L257.59,648.0 L258.04,648.4 L258.49,649.2 L258.95,650.2 L259.40,651.5 L259.86,652.9 L260.31,654.5 L260.77,656.2 L261.22,658.6 L261.68,661.8 L262.13,665.5 L262.59,669.4 L263.04,673.3 L263.49,677.1 L263.95,681.3 L264.40,685.6 L264.86,689.8 L265.31,693.7 L265.77,696.9 L266.22,699.8 L266.68,702.4 L267.13,704.6 L267.59,706.3 L268.04,707.7 L268.49,708.8 L268.95,709.9 L269.40,710.9 L269.86,712.0 L270.31,713.3 L270.77,714.9 L271.22,716.9 L271.68,719.3 L272.13,722.0 L272.59,724.7 L273.04,727.5 L273.49,730.2 L273.95,732.6 L274.40,734.9 L274.86,737.2 L275.31,739.5 L275.77,741.7 L276.22,743.8 L276.68,745.6 L277.13,747.1 L277.59,748.2 L278.04,749.2 L278.49,750.2 L278.95,751.1 L279.40,751.7 L279.86,752.1 L280.31,752.2 L280.77,752.0 L281.22,751.6 L281.68,750.9 L282.13,750.1 L282.59,749.1 L283.04,748.1 L283.49,746.8 L283.95,744.8 L284.40,742.2 L284.86,739.1 L285.31,735.9 L285.77,732.6 L286.22,729.5 L286.68,726.7 L287.13,724.1 L287.59,721.4 L288.04,718.8 L288.49,716.3 L288.95,713.8 L289.40,711.4 L289.86,709.2 L290.31,707.2 L290.77,705.3 L291.22,703.5 L291.68,701.8 L292.13,700.1 L292.59,698.4 L293.04,696.7 L293.49,694.9 L293.95,693.0 L294.40,691.0 L294.86,688.9 L295.31,686.6 L295.77,684.3 L296.22,682.0 L296.68,679.7 L297.13,677.4 L297.59,675.1 L298.04,672.6 L298.49,670.0 L298.95,667.2 L299.40,664.5 L299.86,661.9 L300.31,659.6 L300.77,657.7 L301.22,656.3 L301.68,655.5 L302.13,655.1 L302.59,654.7 L303.04,654.5 L303.49,654.2 L303.95,654.0 L304.40,653.8 L304.86,653.5 L305.31,653.3 L305.77,652.9 L306.22,652.3 L306.68,651.6 L307.13,650.7 L307.59,649.8 L308.04,648.9 L308.49,648.3 L308.95,647.9 L309.40,647.9 L309.86,648.0 L310.31,648.3 L310.77,648.7 L311.22,649.2 L311.68,649.8 L312.13,650.4 L312.59,651.2 L313.04,652.9 L313.49,655.6 L313.95,658.9 L314.40,662.4 L314.86,665.7 L315.31,668.6 L315.77,671.5 L316.22,674.5 L316.68,677.5 L317.13,680.5 L317.59,683.8 L318.04,687.9 L318.49,692.3 L318.95,695.5 L319.40,696.2 L319.86,696.4 L320.31,696.5 L320.77,696.6 L321.22,696.8 L321.68,697.0 L322.13,698.9 L322.59,703.5 L323.04,709.5 L323.49,715.6 L323.95,721.3 L324.40,727.8 L324.86,733.3 L325.31,736.3 L325.77,738.5 L326.22,739.4 L326.68,738.8 L327.13,737.2 L327.59,734.9 L328.04,731.9 L328.49,728.2 L328.95,720.6 L329.40,710.3 L329.86,700.8 L330.31,690.2 L330.77,682.3 L331.22,680.2 L331.68,679.0 L332.13,678.7 L332.59,681.1 L333.04,685.6 L333.49,689.5 L333.95,691.0 L334.40,691.7 L334.86,692.2 L335.31,692.4 L335.77,692.2 L336.22,691.5 L336.68,690.3 L337.13,688.7 L337.59,686.9 L338.04,683.8 L338.49,678.9 L338.95,673.6 L339.40,669.0 L339.86,664.4 L340.31,659.7 L340.77,655.6 L341.22,652.7 L341.68,651.4 L342.13,650.3 L342.59,649.5 L343.04,648.8 L343.49,648.2 L343.95,648.0 L344.40,647.9 L344.86,647.9 L345.31,647.9 L345.77,647.9 L346.22,647.9 L346.68,647.9 L347.13,647.9 L347.59,647.9 L348.04,647.9 L348.49,647.9 L348.95,647.9 L349.40,647.9 L349.86,647.9 L350.31,647.9 L350.77,648.3 L351.22,648.9 L351.68,649.7 L352.13,650.5 L352.59,651.2 L353.04,651.7 L353.49,651.9 L353.95,651.8 L354.40,651.5 L354.86,651.2 L355.31,651.0 L355.77,651.6 L356.22,654.6 L356.68,659.2 L357.13,664.4 L357.59,672.1 L358.04,681.9 L358.49,686.9 L358.95,685.8 L359.40,682.6 L359.86,678.0 L360.31,671.2 L360.77,655.0 L361.22,649.2 L361.68,647.7 L362.13,646.8 L362.59,646.4 L363.04,646.7 L363.49,648.0 L363.95,649.9 L364.40,652.2 L364.86,657.1 L365.31,664.4 L365.77,671.2 L366.22,675.5 L366.68,678.9 L367.13,681.7 L367.59,683.1 L368.04,682.5 L368.49,679.7 L368.95,676.4 L369.40,673.9 L369.86,672.4 L370.31,671.0 L370.77,669.7 L371.22,668.7 L371.68,667.9 L372.13,667.3 L372.59,666.8 L373.04,666.4 L373.49,666.1 L373.95,665.8 L374.40,665.5 L374.86,665.2 L375.31,665.0 L375.77,664.7 L376.22,664.4 L376.68,664.1 L377.13,663.7 L377.59,663.4 L378.04,663.0 L378.49,662.7 L378.95,662.3 L379.40,662.0 L379.86,661.6 L380.31,661.2 L380.77,660.7 L381.22,660.2 L381.68,659.6 L382.13,659.0 L382.59,658.0 L383.04,656.8 L383.49,655.5 L383.95,654.1 L384.40,652.8 L384.86,651.7 L385.31,651.0 L385.77,650.4 L386.22,649.8 L386.68,649.2 L387.13,648.7 L387.59,648.3 L388.04,647.9 L388.49,647.6 L388.95,647.4 L389.40,647.3 L389.86,647.3 L390.31,647.3 L390.77,647.3 L391.22,647.3 L391.68,647.3 L392.13,647.3 L392.59,647.3 L393.04,647.3 L393.49,647.3 L393.95,647.3 L394.40,647.3 L394.86,647.4 L395.31,647.6 L395.77,647.9 L396.22,648.3 L396.68,648.8 L397.13,649.4 L397.59,649.9 L398.04,650.4 L398.49,650.9 L398.95,651.3 L399.40,651.6 L399.86,651.9 L400.31,652.2 L400.77,652.5 L401.22,652.9 L401.68,653.3 L402.13,653.7 L402.59,654.3 L403.04,655.1 L403.49,656.3 L403.95,658.1 L404.40,660.1 L404.86,662.4 L405.31,664.6 L405.77,666.9 L406.22,669.5 L406.68,672.3 L407.13,675.1 L407.59,677.9 L408.04,680.6 L408.49,683.3 L408.95,686.0 L409.40,688.6 L409.86,691.3 L410.31,693.9 L410.77,696.8 L411.22,699.8 L411.68,702.4 L412.13,703.6 L412.59,704.1 L413.04,704.6 L413.49,705.0 L413.95,705.2 L414.40,705.3 L414.86,705.2 L415.31,704.9 L415.77,704.3 L416.22,703.5 L416.68,702.6 L417.13,701.6 L417.59,700.5 L418.04,699.4 L418.49,697.9 L418.95,696.1 L419.40,694.2 L419.86,692.6 L420.31,691.6 L420.77,691.2 L421.22,690.9 L421.68,690.7 L422.13,690.6 L422.59,690.8 L423.04,691.3 L423.49,692.0 L423.95,692.9 L424.40,693.8 L424.86,695.0 L425.31,696.6 L425.77,698.7 L426.22,701.0 L426.68,703.3 L427.13,705.4 L427.59,707.5 L428.04,709.8 L428.49,711.9 L428.95,713.8 L429.40,715.1 L429.86,715.7 L430.31,716.2 L430.77,716.6 L431.22,716.7 L431.68,716.5 L432.13,715.7 L432.59,714.5 L433.04,713.1 L433.49,711.7 L433.95,710.4 L434.40,709.1 L434.86,707.6 L435.31,706.2 L435.77,704.8 L436.22,703.7 L436.68,702.7 L437.13,701.9 L437.59,701.2 L438.04,700.6 L438.49,699.9 L438.95,699.2 L439.40,698.4 L439.86,697.5 L440.31,696.5 L440.77,695.5 L441.22,694.4 L441.68,693.1 L442.13,691.8 L442.59,690.3 L443.04,688.6 L443.49,686.6 L443.95,684.1 L444.40,681.3 L444.86,678.3 L445.31,675.3 L445.77,672.2 L446.22,668.6 L446.68,664.8 L447.13,661.1 L447.59,657.9 L448.04,655.5 L448.49,653.7 L448.95,651.9 L449.40,650.4 L449.86,649.2 L450.31,648.4 L450.77,648.1 L451.22,647.9 L451.68,647.7 L452.13,647.6 L452.59,647.5 L453.04,647.4 L453.49,647.3 L453.95,647.3 L454.40,647.4 L454.86,647.5 L455.31,647.7 L455.77,648.0 L456.22,648.3 L456.68,648.7 L457.13,649.1 L457.59,649.8 L458.04,651.1 L458.49,652.7 L458.95,654.6 L459.40,656.4 L459.86,657.8 L460.31,659.4 L460.77,661.0 L461.22,662.6 L461.68,663.9 L462.13,664.9 L462.59,665.2 L463.04,664.9 L463.49,664.3 L463.95,663.4 L464.40,662.3 L464.86,661.1 L465.31,659.9 L465.77,658.9 L466.22,657.6 L466.68,656.3 L467.13,655.0 L467.59,653.8 L468.04,652.9 L468.49,652.3 L468.95,651.8 L469.40,651.3 L469.86,650.8 L470.31,650.4 L470.77,650.1 L471.22,649.8 L471.68,649.5 L472.13,649.2 L472.59,649.0 L473.04,648.8 L473.49,648.6 L473.95,648.4 L474.40,648.2 L474.86,648.0 L475.31,647.9 L475.77,647.7 L476.22,647.6 L476.68,647.5 L477.13,647.4 L477.59,647.4 L478.04,647.3 L478.49,647.3 L478.95,647.3 L479.40,647.4 L479.86,647.4 L480.31,647.4 L480.77,647.5 L481.22,647.5 L481.68,647.6 L482.13,647.7 L482.59,647.8 L483.04,647.9 L483.49,648.0 L483.95,648.4 L484.40,649.0 L484.86,649.7 L485.31,650.5 L485.77,651.4 L486.22,652.3 L486.68,653.2 L487.13,654.5 L487.59,656.0 L488.04,657.6 L488.49,659.0 L488.95,660.1 L489.40,660.9 L489.86,661.7 L490.31,662.4 L490.77,662.9 L491.22,663.3 L491.68,663.3 L492.13,663.3 L492.59,663.2 L493.04,663.1 L493.49,663.0 L493.95,662.8 L494.40,662.7 L494.86,662.5 L495.31,662.4 L495.77,662.1 L496.22,661.9 L496.68,661.5 L497.13,661.1 L497.59,660.7 L498.04,660.1 L498.49,659.6 L498.95,659.0 L499.40,658.4 L499.86,657.8 L500.31,657.2 L500.77,656.5 L501.22,655.8 L501.68,655.0 L502.13,654.2 L502.59,653.4 L503.04,652.6 L503.49,652.0 L503.95,651.4 L504.40,650.9 L504.86,650.5 L505.31,650.1 L505.77,649.7 L506.22,649.3 L506.68,648.9 L507.13,648.7 L507.59,648.4 L508.04,648.3 L508.49,648.3 L508.95,648.3 L509.40,648.3 L509.86,648.3 L510.31,648.3 L510.77,648.3 L511.22,648.3 L511.68,648.3 L512.13,648.3 L512.59,648.3 L513.04,648.3 L513.49,648.3 L513.95,648.3 L514.40,648.3 L514.86,648.3 L515.31,648.3 L515.77,648.3 L516.22,648.3 L516.68,648.6 L517.13,649.0 L517.59,649.6 L518.04,650.3 L518.49,651.0 L518.95,651.8 L519.40,652.8 L519.86,654.0 L520.31,654.9 L520.77,655.5 L521.22,655.6 L521.68,655.5 L522.13,655.2 L522.59,655.0 L523.04,654.8 L523.49,654.7 L523.95,654.7 L524.40,654.7 L524.86,654.7 L525.31,654.7 L525.77,654.7 L526.22,654.7 L526.68,655.2 L527.13,656.0 L527.59,656.9 L528.04,657.8 L528.49,658.3 L528.95,658.6 L529.40,658.8 L529.86,659.0 L530.31,659.2 L530.77,659.3 L531.22,659.3 L531.68,659.1 L532.13,658.6 L532.59,658.0 L533.04,657.4 L533.49,656.7 L533.95,655.8 L534.40,654.5 L534.86,653.0 L535.31,651.6 L535.77,650.5 L536.22,650.0 L536.68,649.7 L537.13,649.4 L537.59,649.1 L538.04,648.9 L538.49,648.8 L538.95,648.7 L539.40,648.6 L539.86,648.6 L540.31,648.6 L540.77,648.6 L541.22,648.6 L541.68,648.6 L542.13,648.6 L542.59,648.6 L543.04,648.6 L543.49,648.6 L543.95,648.6 L544.40,648.6 L544.86,648.6 L545.31,648.5 L545.77,648.3 L546.22,648.1 L546.68,647.9 L547.13,647.7 L547.59,647.5 L548.04,647.4 L548.49,647.3 L548.95,647.4 L549.40,647.4 L549.86,647.6 L550.31,647.8 L550.77,648.0 L551.22,648.2 L551.68,648.4 L552.13,648.5 L552.59,648.6 L553.04,648.6 L553.49,648.6 L553.95,648.6 L554.40,648.6 L554.86,648.6 L555.31,648.6 L555.77,648.6 L556.22,648.6 L556.68,648.6 L557.13,648.6 L557.59,649.0 L558.04,649.7 L558.49,650.6 L558.95,651.6 L559.40,652.6 L559.86,653.7 L560.31,654.9 L560.77,656.3 L561.22,657.6 L561.68,658.7 L562.13,659.4 L562.59,660.0 L563.04,660.6 L563.49,661.0 L563.95,661.1 L564.40,661.0 L564.86,660.5 L565.31,659.8 L565.77,658.9 L566.22,658.0 L566.68,657.1 L567.13,656.4 L567.59,655.7 L568.04,655.1 L568.49,654.4 L568.95,653.8 L569.40,653.2 L569.86,652.6 L570.31,652.0 L570.77,651.5 L571.22,650.9 L571.68,650.3 L572.13,649.7 L572.59,649.3 L573.04,648.9 L573.49,648.7 L573.95,648.6 L574.40,648.6 L574.86,648.5 L575.31,648.5 L575.77,648.5 L576.22,648.5 L576.68,648.5 L577.13,648.4 L577.59,648.4 L578.04,648.4 L578.49,648.4 L578.95,648.4 L579.40,648.4 L579.86,648.4 L580.31,648.4 L580.77,648.4 L581.22,648.3 L581.68,648.3 L582.13,648.3 L582.59,648.3 L583.04,648.2 L583.49,648.2 L583.95,648.1 L584.40,647.9 L584.86,647.8 L585.31,647.7 L585.77,647.5 L586.22,647.4 L586.68,647.4 L587.13,647.3 L587.59,647.4 L588.04,647.6 L588.49,647.9 L588.95,648.2 L589.40,648.6 L589.86,649.0 L590.31,649.4 L590.77,649.8 L591.22,650.1 L591.68,650.3 L592.13,650.5 L592.59,650.8 L593.04,651.0 L593.49,651.2 L593.95,651.3 L594.40,651.4 L594.86,651.4 L595.31,651.3 L595.77,651.1 L596.22,650.9 L596.68,650.7 L597.13,650.4 L597.59,650.1 L598.04,649.9 L598.49,649.6 L598.95,649.4 L599.40,649.2 L599.86,649.1 L600.31,649.1 L600.77,649.0 L601.22,648.9 L601.68,648.8 L602.13,648.8 L602.59,648.7 L603.04,648.6 L603.49,648.6 L603.95,648.5 L604.40,648.5 L604.86,648.4 L605.31,648.4 L605.77,648.3 L606.22,648.3 L606.68,648.3 L607.13,648.3 L607.59,648.3 L608.04,648.3 L608.49,648.3 L608.95,648.3 L609.40,648.3 L609.86,648.3 L610.31,648.3 L610.77,648.3 L611.22,648.4 L611.68,648.4 L612.13,648.4 L612.59,648.5 L613.04,648.5 L613.49,648.5 L613.95,648.5 L614.40,648.6 L614.86,648.6 L615.31,648.6 L615.77,648.6 L616.22,648.6 L616.68,648.6 L617.13,648.5 L617.59,648.4 L618.04,648.2 L618.49,648.0 L618.95,647.8 L619.40,647.6 L619.86,647.4 L620.31,647.3 L620.77,647.3 L621.22,647.4 L621.68,647.6 L622.13,647.7 L622.59,647.9 L623.04,648.1 L623.49,648.3 L623.95,648.5 L624.40,648.6 L624.86,648.6 L625.31,648.6 L625.77,648.6 L626.22,648.6 L626.68,648.6 L627.13,648.5 L627.59,648.5 L628.04,648.5 L628.49,648.5 L628.95,648.4 L629.40,648.4 L629.86,648.4 L630.31,648.3 L630.77,648.3 L631.22,648.3 L631.68,648.3 L632.13,648.3 L632.59,648.3 L633.04,648.3 L633.49,648.3 L633.95,648.3 L634.40,648.4 L634.86,648.6 L635.31,648.7 L635.77,648.8 L636.22,649.0 L636.68,649.1 L637.13,649.2 L637.59,649.3 L638.04,649.4 L638.49,649.4 L638.95,649.3 L639.40,649.3 L639.86,649.3 L640.31,649.3 L640.77,649.2 L641.22,649.2 L641.68,649.1 L642.13,649.1 L642.59,649.0 L643.04,649.0 L643.49,648.9 L643.95,648.9 L644.40,648.8 L644.86,648.8 L645.31,648.7 L645.77,648.7 L646.22,648.6 L646.68,648.6 L647.13,648.6 L647.59,648.6 L648.04,648.5 L648.49,648.5 L648.95,648.5 L649.40,648.4 L649.86,648.4 L650.31,648.4 L650.77,648.4 L651.22,648.3 L651.68,648.3 L652.13,648.3 L652.59,648.3 L653.04,648.3 L653.49,648.3 L653.95,648.3 L654.40,648.3 L654.86,648.3 L655.31,648.3 L655.77,648.5 L656.22,648.7 L656.68,649.0 L657.13,649.3 L657.59,649.7 L658.04,650.0 L658.49,650.3 L658.95,650.6 L659.40,651.0 L659.86,651.3 L660.31,651.6 L660.77,651.8 L661.22,651.9 L661.68,651.8 L662.13,651.3 L662.59,650.6 L663.04,649.9 L663.49,649.2 L663.95,648.7 L664.40,648.4 L664.86,648.1 L665.31,647.8 L665.77,647.5 L666.22,647.4 L666.68,647.3 L667.13,647.4 L667.59,647.4 L668.04,647.5 L668.49,647.6 L668.95,647.8 L669.40,647.9 L669.86,648.0 L670.31,648.1 L670.77,648.2 L671.22,648.2 L671.68,648.3 L672.13,648.3 L672.59,648.3 L673.04,648.3 L673.49,648.3 L673.95,648.3 L674.40,648.3 L674.86,648.3 L675.31,648.3 L675.77,648.3 L676.22,648.3 L676.68,648.3 L677.13,648.3 L677.59,648.3 L678.04,648.3 L678.49,648.3 L678.95,648.3 L679.40,648.3 L679.86,648.3 L680.31,648.3 L680.77,648.3 L681.22,648.3 L681.68,648.3 L682.13,648.3 L682.59,648.3 L683.04,648.3 L683.49,648.3 L683.95,648.4 L684.40,648.7 L684.86,649.1 L685.31,649.6 L685.77,650.1 L686.22,650.6 L686.68,651.0 L687.13,651.4 L687.59,651.9 L688.04,652.3 L688.49,652.7 L688.95,653.1 L689.40,653.5 L689.86,653.7 L690.31,653.9 L690.77,654.0 L691.22,654.1 L691.68,654.2 L692.13,654.3 L692.59,654.3 L693.04,654.2 L693.49,653.8 L693.95,653.3 L694.40,652.8 L694.86,652.2 L695.31,651.6 L695.77,651.1 L696.22,650.7 L696.68,650.3 L697.13,649.9 L697.59,649.4 L698.04,649.0 L698.49,648.7 L698.95,648.4 L699.40,648.1 L699.86,647.9 L700.31,647.8 L700.77,647.7 L701.22,647.7 L701.68,647.6 L702.13,647.5 L702.59,647.4 L703.04,647.4 L703.49,647.3 L703.95,647.3 L704.40,647.2 L704.86,647.2 L705.31,647.2 L705.77,647.2 L706.22,647.2 L706.68,647.1 L707.13,647.1 L707.59,647.1 L708.04,647.2 L708.49,647.2 L708.95,647.2 L709.40,647.2 L709.86,647.2 L710.31,647.2 L710.77,647.2 L711.22,647.2 L711.68,647.2 L712.13,647.2 L712.59,647.2 L713.04,647.2 L713.49,647.2 L713.95,647.2 L714.40,647.3 L714.86,647.3 L715.31,647.3 L715.77,647.3 L716.22,647.3 L716.68,647.3 L717.13,647.4 L717.59,647.4 L718.04,647.5 L718.49,647.6 L718.95,647.7 L719.40,647.8 L719.86,647.9 L720.31,648.0 L720.77,648.1 L721.22,648.2 L721.68,648.2 L722.13,648.3 L722.59,648.3 L723.04,648.3 L723.49,648.4 L723.95,648.4 L724.40,648.4 L724.86,648.4 L725.31,648.5 L725.77,648.5 L726.22,648.5 L726.68,648.6 L727.13,648.8 L727.59,649.3 L728.04,650.1 L728.49,651.0 L728.95,652.0 L729.40,653.0 L729.86,654.2 L730.31,655.5 L730.77,657.0 L731.22,658.2 L731.68,659.1 L732.13,659.6 L732.59,659.9 L733.04,660.2 L733.49,660.4 L733.95,660.6 L734.40,660.8 L734.86,660.9 L735.31,661.0 L735.77,661.1 L736.22,661.2 L736.68,661.2 L737.13,661.3 L737.59,661.5 L738.04,661.7 L738.49,662.0 L738.95,662.5 L739.40,663.0 L739.86,663.6 L740.31,664.1 L740.77,664.6 L741.22,664.9 L741.68,665.3 L742.13,665.7 L742.59,666.0 L743.04,666.2 L743.49,666.3 L743.95,666.3 L744.40,666.2 L744.86,666.0 L745.31,665.8 L745.77,665.5 L746.22,665.0 L746.68,664.3 L747.13,663.4 L747.59,662.4 L748.04,661.3 L748.49,660.1 L748.95,659.0 L749.40,658.0 L749.86,657.0 L750.31,655.9 L750.77,654.7 L751.22,653.6 L751.68,652.4 L752.13,651.4 L752.59,650.6 L753.04,650.0 L753.49,649.6 L753.95,649.2 L754.40,648.8 L754.86,648.5 L755.31,648.2 L755.77,648.0 L756.22,647.9 L756.68,647.8 L757.13,647.8 L757.59,647.7 L758.04,647.7 L758.49,647.6 L758.95,647.6 L759.40,647.6 L759.86,647.5 L760.31,647.5 L760.77,647.5 L761.22,647.4 L761.68,647.4 L762.13,647.4 L762.59,647.4 L763.04,647.4 L763.49,647.4 L763.95,647.3 L764.40,647.3 L764.86,647.3 L765.31,647.3 L765.77,647.3 L766.22,647.3 L766.68,647.4 L767.13,647.4 L767.59,647.4 L768.04,647.5 L768.49,647.5 L768.95,647.6 L769.40,647.7 L769.86,647.7 L770.31,647.8 L770.77,648.0 L771.22,648.6 L771.68,649.5 L772.13,650.6 L772.59,651.7 L773.04,652.8 L773.49,653.9 L773.95,655.3 L774.40,656.6 L774.86,657.8 L775.31,658.6 L775.77,659.1 L776.22,659.4 L776.68,659.6 L777.13,659.9 L777.59,660.0 L778.04,660.2 L778.49,660.2 L778.95,660.2 L779.40,660.1 L779.86,660.0 L780.31,659.8 L780.77,659.6 L781.22,659.4 L781.68,659.1 L782.13,658.9 L782.59,658.6 L783.04,658.4 L783.49,658.2 L783.95,657.9 L784.40,657.7 L784.86,657.4 L785.31,657.2 L785.77,656.9 L786.22,656.6 L786.68,656.3 L787.13,656.0 L787.59,655.7 L788.04,655.4 L788.49,655.0 L788.95,654.7 L789.40,654.3 L789.86,653.9 L790.31,653.4 L790.77,652.9 L791.22,652.4 L791.68,651.9 L792.13,651.3 L792.59,650.9 L793.04,650.4 L793.49,650.0 L793.95,649.6 L794.40,649.3 L794.86,649.2 L795.31,649.0 L795.77,648.9 L796.22,648.7 L796.68,648.6 L797.13,648.5 L797.59,648.4 L798.04,648.2 L798.49,648.1 L798.95,648.0 L799.40,648.0 L799.86,647.9 L800.31,647.8 L800.77,647.8 L801.22,647.7 L801.68,647.7 L802.13,647.7 L802.59,647.7 L803.04,647.7 L803.49,647.8 L803.95,647.9 L804.40,648.0 L804.86,648.1 L805.31,648.3 L805.77,648.4 L806.22,648.5 L806.68,648.6 L807.13,648.7 L807.59,648.8 L808.04,648.8 L808.49,648.8 L808.95,648.7 L809.40,648.6 L809.86,648.5 L810.31,648.4 L810.77,648.2 L811.22,648.0 L811.68,647.9 L812.13,647.7 L812.59,647.6 L813.04,647.4 L813.49,647.4 L813.95,647.3 L814.40,647.3 L814.86,647.3 L815.31,647.4 L815.77,647.4 L816.22,647.4 L816.68,647.5 L817.13,647.5 L817.59,647.5 L818.04,647.6 L818.49,647.6 L818.95,647.7 L819.40,647.7 L819.86,647.8 L820.31,647.8 L820.77,647.8 L821.22,647.9 L821.68,647.9 L822.13,647.9 L822.59,647.9 L823.04,647.9 L823.49,647.8 L823.95,647.8 L824.40,647.7 L824.86,647.6 L825.31,647.5 L825.77,647.5 L826.22,647.4 L826.68,647.4 L827.13,647.3 L827.59,647.3 L828.04,647.4 L828.49,647.4 L828.95,647.5 L829.40,647.5 L829.86,647.6 L830.31,647.7 L830.77,647.8 L831.22,647.9 L831.68,648.0 L832.13,648.1 L832.59,648.1 L833.04,648.2 L833.49,648.2 L833.95,648.3 L834.40,648.3 L834.86,648.2 L835.31,648.2 L835.77,648.2 L836.22,648.2 L836.68,648.2 L837.13,648.2 L837.59,648.2 L838.04,648.2 L838.49,648.1 L838.95,648.1 L839.40,648.1 L839.86,648.1 L840.31,648.1 L840.77,648.0 L841.22,648.0 L841.68,648.0 L842.13,648.0 L842.59,648.0 L843.04,647.9 L843.49,647.9 L843.95,647.9 L844.40,647.9 L844.86,647.9 L845.31,647.9 L845.77,647.9 L846.22,647.9 L846.68,648.1 L847.13,648.4 L847.59,648.7 L848.04,649.1 L848.49,649.5 L848.95,649.9 L849.40,650.3 L849.86,650.7 L850.31,651.2 L850.77,651.7 L851.22,652.2 L851.68,652.7 L852.13,653.3 L852.59,653.8 L853.04,654.3 L853.49,654.8 L853.95,655.4 L854.40,656.0 L854.86,656.6 L855.31,657.2 L855.77,657.7 L856.22,658.1 L856.68,658.4 L857.13,658.5 L857.59,658.7 L858.04,658.8 L858.49,659.0 L858.95,659.1 L859.40,659.2 L859.86,659.2 L860.31,659.3 L860.77,659.3 L861.22,659.3 L861.68,659.3 L862.13,659.2 L862.59,659.1 L863.04,659.0 L863.49,658.9 L863.95,658.8 L864.40,658.6 L864.86,658.5 L865.31,658.3 L865.77,657.9 L866.22,657.4 L866.68,656.8 L867.13,656.1 L867.59,655.4 L868.04,654.6 L868.49,653.9 L868.95,653.3 L869.40,652.7 L869.86,652.2 L870.31,651.6 L870.77,651.1 L871.22,650.5 L871.68,650.0 L872.13,649.6 L872.59,649.2 L873.04,648.9 L873.49,648.6 L873.95,648.4 L874.40,648.2 L874.86,648.0 L875.31,647.8 L875.77,647.7 L876.22,647.5 L876.68,647.4 L877.13,647.4 L877.59,647.3 L878.04,647.3 L878.49,647.3 L878.95,647.3 L879.40,647.3 L879.86,647.3 L880.31,647.3 L880.77,647.3 L881.22,647.3 L881.68,647.3 L882.13,647.3 L882.59,647.3 L883.04,647.3 L883.49,647.3 L883.95,647.3 L884.40,647.3 L884.86,647.3 L885.31,647.3 L885.77,647.3 L886.22,647.3 L886.68,647.3 L887.13,647.3 L887.59,647.3 L888.04,647.4 L888.49,647.4 L888.95,647.6 L889.40,647.8 L889.86,648.0 L890.31,648.2 L890.77,648.5 L891.22,648.8 L891.68,649.1 L892.13,649.4 L892.59,649.7 L893.04,649.9 L893.49,650.3 L893.95,650.7 L894.40,651.1 L894.86,651.5 L895.31,651.8 L895.77,652.2 L896.22,652.5 L896.68,652.8 L897.13,653.0 L897.59,653.1 L898.04,653.3 L898.49,653.5 L898.95,653.6 L899.40,653.7 L899.86,653.8 L900.31,653.8 L900.77,653.7 L901.22,653.7 L901.68,653.6 L902.13,653.4 L902.59,653.2 L903.04,653.0 L903.49,652.8 L903.95,652.6 L904.40,652.4 L904.86,652.1 L905.31,651.9 L905.77,651.6 L906.22,651.2 L906.68,650.8 L907.13,650.3 L907.59,649.9 L908.04,649.5 L908.49,649.2 L908.95,649.0 L909.40,648.8 L909.86,648.6 L910.31,648.4 L910.77,648.3 L911.22,648.1 L911.68,648.0 L912.13,647.9 L912.59,647.9 L913.04,647.9 L913.49,647.9 L913.95,647.9 L914.40,647.9 L914.86,647.9 L915.31,647.9 L915.77,647.9 L916.22,647.9 L916.68,647.9 L917.13,647.9 L917.59,647.9 L918.04,647.9 L918.49,647.9 L918.95,647.9 L919.40,647.9 L919.86,647.9 L920.31,647.9 L920.77,647.9 L921.22,647.9 L921.68,647.9 L922.13,647.9 L922.59,647.9 L923.04,647.9 L923.49,647.9 L923.95,647.9 L924.40,647.9 L924.86,647.9 L925.31,647.9 L925.77,647.9 L926.22,647.9 L926.68,647.9 L927.13,647.9 L927.59,647.9 L928.04,647.9 L928.49,648.0 L928.95,648.3 L929.40,648.7 L929.86,649.2 L930.31,649.7 L930.77,650.3 L931.22,650.9 L931.68,651.5 L932.13,652.1 L932.59,652.7 L933.04,653.3 L933.49,654.0 L933.95,654.7 L934.40,655.5 L934.86,656.4 L935.31,657.3 L935.77,658.3 L936.22,659.4 L936.68,660.6 L937.13,662.1 L937.59,663.8 L938.04,665.6 L938.49,667.5 L938.95,669.5 L939.40,671.6 L939.86,673.7 L940.31,676.0 L940.77,678.5 L941.22,681.0 L941.68,683.3 L942.13,685.4 L942.59,687.4 L943.04,689.5 L943.49,691.4 L943.95,692.9 L944.40,694.0 L944.86,694.6 L945.31,695.1 L945.77,695.5 L946.22,695.8 L946.68,696.0 L947.13,696.1 L947.59,695.5 L948.04,694.4 L948.49,693.5 L948.95,693.4 L949.40,694.0 L949.86,694.7 L950.31,695.2 L950.77,695.2 L951.22,695.1 L951.68,694.9 L952.13,694.6 L952.59,694.3 L953.04,690.4 L953.49,682.4 L953.95,674.2 L954.40,664.7 L954.86,662.6 L955.31,662.2 L955.77,662.0 L956.22,661.8 L956.68,661.6 L957.13,661.1 L957.59,659.7 L958.04,657.3 L958.49,654.9 L958.95,653.3 L959.40,651.8 L959.86,650.5 L960.31,649.4 L960.77,648.5 L961.22,647.9 L961.68,647.7 L962.13,647.4 L962.59,647.2 L963.04,647.1 L963.49,646.9 L963.95,646.8 L964.40,646.8 L964.86,646.8 L965.31,646.8 L965.77,646.8 L966.22,646.8 L966.68,646.9 L967.13,646.9 L967.59,647.0 L968.04,647.0 L968.49,647.1 L968.95,647.2 L969.40,647.3 L969.86,647.4 L970.31,647.6 L970.77,647.7 L971.22,647.8 L971.68,648.2 L972.13,649.0 L972.59,650.2 L973.04,651.6 L973.49,652.9 L973.95,654.0 L974.40,655.2 L974.86,656.4 L975.31,657.6 L975.77,658.4 L976.22,658.9 L976.68,658.9 L977.13,658.7 L977.59,658.3 L978.04,657.9 L978.49,657.5 L978.95,657.1 L979.40,656.7 L979.86,656.5 L980.31,656.2 L980.77,656.0 L981.22,655.8 L981.68,655.6 L982.13,655.4 L982.59,655.3 L983.04,655.2 L983.49,655.3 L983.95,655.3 L984.40,655.3 L984.86,655.4 L985.31,655.5 L985.77,655.5 L986.22,655.6 L986.68,655.6 L987.13,655.6 L987.59,655.5 L988.04,655.3 L988.49,654.9 L988.95,654.4 L989.40,653.8 L989.86,653.3 L990.31,652.7 L990.77,652.3 L991.22,652.0 L991.68,651.9 L992.13,651.7 L992.59,651.7 L993.04,651.6 L993.49,651.5 L993.95,651.5 L994.40,651.4 L994.86,651.3 L995.31,651.3 L995.77,651.2 L996.22,651.1 L996.68,650.9 L997.13,650.7 L997.59,650.5 L998.04,650.2 L998.49,649.9 L998.95,649.7 L999.40,649.4 L999.86,649.2 L1000.31,649.1 L1000.77,648.9 L1001.22,648.8 L1001.68,648.7 L1002.13,648.6 L1002.59,648.5 L1003.04,648.4 L1003.49,648.3 L1003.95,648.2 L1004.40,648.1 L1004.86,648.0 L1005.31,648.0 L1005.77,647.9 L1006.22,647.9 L1006.68,647.9 L1007.13,647.9 L1007.59,647.9 L1008.04,647.9 L1008.49,647.9 L1008.95,647.9 L1009.40,648.0 L1009.86,648.0 L1010.31,648.0 L1010.77,648.1 L1011.22,648.1 L1011.68,648.2 L1012.13,648.2 L1012.59,648.3 L1013.04,648.4 L1013.49,648.5 L1013.95,648.6 L1014.40,648.7 L1014.86,649.1 L1015.31,649.9 L1015.77,650.8 L1016.22,651.8 L1016.68,652.7 L1017.13,653.8 L1017.59,655.1 L1018.04,656.5 L1018.49,657.8 L1018.95,658.6 L1019.40,659.0 L1019.86,659.2 L1020.31,659.4 L1020.77,659.5 L1021.22,659.6 L1021.68,659.7 L1022.13,659.6 L1022.59,659.4 L1023.04,659.0 L1023.49,658.5 L1023.95,658.0 L1024.40,657.4 L1024.86,656.8 L1025.31,656.3 L1025.77,655.6 L1026.22,654.8 L1026.68,653.9 L1027.13,653.0 L1027.59,652.2 L1028.04,651.5 L1028.49,651.0 L1028.95,650.5 L1029.40,650.0 L1029.86,649.5 L1030.31,649.1 L1030.77,648.7 L1031.22,648.4 L1031.68,648.1 L1032.13,648.0 L1032.59,647.9 L1033.04,647.9 L1033.49,647.9 L1033.95,647.9 L1034.40,647.9 L1034.86,647.9 L1035.31,647.9 L1035.77,647.9 L1036.22,647.9 L1036.68,647.9 L1037.13,647.9 L1037.59,647.9 L1038.04,647.9 L1038.49,648.0 L1038.95,648.0 L1039.40,648.0 L1039.86,648.0 L1040.31,648.0 L1040.77,648.0 L1041.22,648.1 L1041.68,648.1 L1042.13,648.1 L1042.59,648.1 L1043.04,648.2 L1043.49,648.2 L1043.95,648.2 L1044.40,648.3 L1044.86,648.6 L1045.31,649.3 L1045.77,650.2 L1046.22,651.3 L1046.68,652.4 L1047.13,653.6 L1047.59,655.0 L1048.04,656.7 L1048.49,658.3 L1048.95,659.9 L1049.40,661.3 L1049.86,662.5 L1050.31,663.7 L1050.77,664.9 L1051.22,666.0 L1051.68,667.0 L1052.13,667.8 L1052.59,668.4 L1053.04,668.8 L1053.49,669.2 L1053.95,669.5 L1054.40,669.8 L1054.86,670.0 L1055.31,670.2 L1055.77,670.3 L1056.22,670.3 L1056.68,670.2 L1057.13,669.9 L1057.59,669.5 L1058.04,669.1 L1058.49,668.6 L1058.95,668.1 L1059.40,667.6 L1059.86,667.0 L1060.31,666.5 L1060.77,665.8 L1061.22,665.1 L1061.68,664.4 L1062.13,663.6 L1062.59,662.8 L1063.04,662.0 L1063.49,661.3 L1063.95,660.5 L1064.40,659.7 L1064.86,658.9 L1065.31,658.1 L1065.77,657.3 L1066.22,656.5 L1066.68,655.6 L1067.13,654.8 L1067.59,654.1 L1068.04,653.3 L1068.49,652.5 L1068.95,651.6 L1069.40,650.8 L1069.86,650.0 L1070.31,649.3 L1070.77,648.8 L1071.22,648.6 L1071.68,648.4 L1072.13,648.2 L1072.59,648.0 L1073.04,647.9 L1073.49,647.7 L1073.95,647.6 L1074.40,647.5 L1074.86,647.4 L1075.31,647.4 L1075.77,647.3 L1076.22,647.3 L1076.68,647.3 L1077.13,647.3 L1077.59,647.3 L1078.04,647.4 L1078.49,647.4 L1078.95,647.4 L1079.40,647.4 L1079.86,647.4 L1080.31,647.4 L1080.77,647.5 L1081.22,647.5 L1081.68,647.5 L1082.13,647.5 L1082.59,647.6 L1083.04,647.6 L1083.49,647.6 L1083.95,647.6 L1084.40,647.7 L1084.86,647.7 L1085.31,647.7 L1085.77,647.8 L1086.22,647.8 L1086.68,647.9 L1087.13,647.9 L1087.59,648.0 L1088.04,648.0 L1088.49,648.1 L1088.95,648.2 L1089.40,648.3 L1089.86,648.5 L1090.31,648.6 L1090.77,648.7 L1091.22,648.8 L1091.68,648.9 L1092.13,649.0 L1092.59,649.1 L1093.04,649.1 L1093.49,649.2 L1093.95,649.2 L1094.40,649.2 L1094.86,649.1 L1095.31,649.1 L1095.77,649.0 L1096.22,648.9 L1096.68,648.9 L1097.13,648.8 L1097.59,648.7 L1098.04,648.6 L1098.49,648.5 L1098.95,648.4 L1099.40,648.3 L1099.86,648.2 L1100.31,648.1 L1100.77,648.0 L1101.22,648.0 L1101.68,647.9 L1102.13,647.9 L1102.59,647.8 L1103.04,647.8 L1103.49,647.8 L1103.95,647.7 L1104.40,647.7 L1104.86,647.7 L1105.31,647.7 L1105.77,647.6 L1106.22,647.6 L1106.68,647.6 L1107.13,647.5 L1107.59,647.5 L1108.04,647.5 L1108.49,647.5 L1108.95,647.4 L1109.40,647.4 L1109.86,647.4 L1110.31,647.4 L1110.77,647.4 L1111.22,647.4 L1111.68,647.4 L1112.13,647.3 L1112.59,647.3 L1113.04,647.3 L1113.49,647.3 L1113.95,647.3 L1114.40,647.3 L1114.86,647.4 L1115.31,647.4 L1115.77,647.5 L1116.22,647.5 L1116.68,647.6 L1117.13,647.7 L1117.59,647.7 L1118.04,647.8 L1118.49,647.9 L1118.95,648.0 L1119.40,648.1 L1119.86,648.2 L1120.31,648.3 L1120.77,648.3 L1121.22,648.4 L1121.68,648.5 L1122.13,648.5 L1122.59,648.6 L1123.04,648.6 L1123.49,648.6 L1123.95,648.6 L1124.40,648.6 L1124.86,648.6 L1125.31,648.6 L1125.77,648.6 L1126.22,648.6 L1126.68,648.6 L1127.13,648.5 L1127.59,648.5 L1128.04,648.5 L1128.49,648.5 L1128.95,648.5 L1129.40,648.4 L1129.86,648.4 L1130.31,648.4 L1130.77,648.3 L1131.22,648.3 L1131.68,648.3 L1132.13,648.3 L1132.59,648.2 L1133.04,648.2 L1133.49,648.1 L1133.95,648.1 L1134.40,648.0 L1134.86,648.0 L1135.31,647.9 L1135.77,647.8 L1136.22,647.7 L1136.68,647.7 L1137.13,647.6 L1137.59,647.6 L1138.04,647.5 L1138.49,647.4 L1138.95,647.4 L1139.40,647.4 L1139.86,647.3 L1140.31,647.3 L1140.77,647.3 L1141.22,647.4 L1141.68,647.4 L1142.13,647.5 L1142.59,647.5 L1143.04,647.6 L1143.49,647.7 L1143.95,647.8 L1144.40,647.9 L1144.86,648.1 L1145.31,648.2 L1145.77,648.3 L1146.22,648.4 L1146.68,648.6 L1147.13,648.7 L1147.59,648.8 L1148.04,648.9 L1148.49,649.0 L1148.95,649.0 L1149.40,649.1 L1149.86,649.1 L1150.31,649.2 L1150.77,649.2 L1151.22,649.2 L1151.68,649.2 L1152.13,649.2 L1152.59,649.2 L1153.04,649.1 L1153.49,649.1 L1153.95,649.1 L1154.40,649.1 L1154.86,649.1 L1155.31,649.1 L1155.77,649.0 L1156.22,649.0 L1156.68,649.0 L1157.13,649.0 L1157.59,649.0 L1158.04,648.9 L1158.49,648.9 L1158.95,648.9 L1159.40,648.9 L1159.86,648.9 L1160.31,648.8 L1160.77,648.8 L1161.22,648.8 L1161.68,648.8 L1162.13,648.7 L1162.59,648.7 L1163.04,648.7 L1163.49,648.7 L1163.95,648.7 L1164.40,648.7 L1164.86,648.7 L1165.31,648.6 L1165.77,648.6 L1166.22,648.6 L1166.68,648.6 L1167.13,648.6 L1167.59,648.6 L1168.04,648.6 L1168.49,648.6 L1168.95,648.7 L1169.40,648.7 L1169.86,648.7 L1170.31,648.8 L1170.77,648.8 L1171.22,648.9 L1171.68,648.9 L1172.13,649.0 L1172.59,649.0 L1173.04,649.1 L1173.49,649.1 L1173.95,649.2 L1174.40,649.2 L1174.86,649.2 L1175.31,649.3 L1175.77,649.3 L1176.22,649.3 L1176.68,649.3 L1177.13,649.4 L1177.59,649.4 L1178.04,649.3 L1178.49,649.3 L1178.95,649.3 L1179.40,649.3 L1179.86,649.2 L1180.31,649.2 L1180.77,649.1 L1181.22,649.0 L1181.68,649.0 L1182.13,648.9 L1182.59,648.8 L1183.04,648.8 L1183.49,648.7 L1183.95,648.6 L1184.40,648.6 L1184.86,648.5 L1185.31,648.3 L1185.77,648.2 L1186.22,648.1 L1186.68,648.0 L1187.13,647.8 L1187.59,647.7 L1188.04,647.6 L1188.49,647.6 L1188.95,647.5 L1189.40,647.5 L1189.86,647.5 L1190.31,647.5 L1190.77,647.5 L1191.22,647.5 L1191.68,647.4 L1192.13,647.4 L1192.59,647.4 L1193.04,647.4 L1193.49,647.4 L1193.95,647.4 L1194.40,647.4 L1194.86,647.4 L1195.31,647.4 L1195.77,647.4 L1196.22,647.4 L1196.68,647.4 L1197.13,647.3 L1197.59,647.3 L1198.04,647.3 L1198.49,647.3 L1198.95,647.3 L1199.40,647.3 L1199.86,647.3 L1200.31,647.3 L1200.77,647.3 L1201.22,647.3 L1201.68,647.4 L1202.13,647.5 L1202.59,647.6 L1203.04,647.7 L1203.49,647.8 L1203.95,647.9 L1204.40,648.1 L1204.86,648.2 L1205.31,648.3 L1205.77,648.4 L1206.22,648.5 L1206.68,648.6 L1207.13,648.6 L1207.59,648.6 L1208.04,648.6 L1208.49,648.6 L1208.95,648.6 L1209.40,648.6 L1209.86,648.5 L1210.31,648.5 L1210.77,648.5 L1211.22,648.4 L1211.68,648.4 L1212.13,648.3 L1212.59,648.3 L1213.04,648.2 L1213.49,648.2 L1213.95,648.1 L1214.40,648.1 L1214.86,648.0 L1215.31,648.0 L1215.77,648.0 L1216.22,647.9 L1216.68,647.9 L1217.13,647.9 L1217.59,647.9 L1218.04,647.9 L1218.49,647.9 L1218.95,647.9 L1219.40,647.8 L1219.86,647.8 L1220.31,647.8 L1220.77,647.8 L1221.22,647.8 L1221.68,647.8 L1222.13,647.8 L1222.59,647.8 L1223.04,647.8 L1223.49,647.8 L1223.95,647.8 L1224.40,647.7 L1224.86,647.7 L1225.31,647.7 L1225.77,647.7 L1226.22,647.7 L1226.68,647.7 L1227.13,647.7 L1227.59,647.7 L1228.04,647.7 L1228.49,647.7 L1228.95,647.7 L1229.40,647.7 L1229.86,647.7 L1230.31,647.7 L1230.77,647.7 L1231.22,647.7 L1231.68,647.7 L1232.13,647.8 L1232.59,647.8 L1233.04,647.9 L1233.49,648.0 L1233.95,648.1 L1234.40,648.2 L1234.86,648.3 L1235.31,648.5 L1235.77,648.6 L1236.22,648.7 L1236.68,649.0 L1237.13,649.3 L1237.59,649.6 L1238.04,650.0 L1238.49,650.3 L1238.95,650.6 L1239.40,650.9 L1239.86,651.0 L1240.31,651.0 L1240.77,650.9 L1241.22,650.7 L1241.68,650.4 L1242.13,650.1 L1242.59,649.7 L1243.04,649.3 L1243.49,649.0 L1243.95,648.8 L1244.40,648.6 L1244.86,648.4 L1245.31,648.2 L1245.77,648.1 L1246.22,647.9 L1246.68,647.8 L1247.13,647.7 L1247.59,647.5 L1248.04,647.5 L1248.49,647.4 L1248.95,647.3 L1249.40,647.3 L1249.86,647.3 L1250.31,647.4 L1250.77,647.4 L1251.22,647.5 L1251.68,647.6 L1252.13,647.6 L1252.59,647.7 L1253.04,647.8 L1253.49,647.8 L1253.95,647.9 L1254.40,647.9 L1254.86,647.9 L1255.31,647.9 L1255.77,647.9 L1256.22,647.9 L1256.68,647.9 L1257.13,647.9 L1257.59,647.9 L1258.04,647.9 L1258.49,647.9 L1258.95,647.9 L1259.40,647.9 L1259.86,647.9 L1260.31,647.9 L1260.77,647.9 L1261.22,647.9 L1261.68,647.9 L1262.13,647.9 L1262.59,647.9 L1263.04,647.9 L1263.49,647.9 L1263.95,647.9 L1264.40,647.9 L1264.86,647.9 L1265.31,647.9 L1265.77,647.9 L1266.22,647.9 L1266.68,647.9 L1267.13,647.9 L1267.59,647.9 L1268.04,647.9 L1268.49,647.9 L1268.95,647.9 L1269.40,647.9 L1269.86,647.9 L1270.31,647.9 L1270.77,647.9 L1271.22,647.9 L1271.68,647.9 L1272.13,647.9 L1272.59,648.0 L1273.04,648.1 L1273.49,648.2 L1273.95,648.3 L1274.40,648.4 L1274.86,648.5 L1275.31,648.5 L1275.77,648.6 L1276.22,648.6 L1276.68,648.6 L1277.13,648.6 L1277.59,648.6 L1278.04,648.5 L1278.49,648.5 L1278.95,648.5 L1279.40,648.4 L1279.86,648.3 L1280.31,648.3 L1280.77,648.2 L1281.22,648.1 L1281.68,648.1 L1282.13,648.0 L1282.59,647.9 L1283.04,647.8 L1283.49,647.8 L1283.95,647.7 L1284.40,647.6 L1284.86,647.6 L1285.31,647.5 L1285.77,647.5 L1286.22,647.4 L1286.68,647.4 L1287.13,647.4 L1287.59,647.3 L1288.04,647.3 L1288.49,647.3 L1288.95,647.3 L1289.40,647.4 L1289.86,647.4 L1290.31,647.4 L1290.77,647.5 L1291.22,647.5 L1291.68,647.6 L1292.13,647.6 L1292.59,647.7 L1293.04,647.7 L1293.49,647.8 L1293.95,647.9 L1294.40,648.1 L1294.86,648.3 L1295.31,648.6 L1295.77,649.0 L1296.22,649.4 L1296.68,649.8 L1297.13,650.2 L1297.59,650.6 L1298.04,651.0 L1298.49,651.4 L1298.95,651.7 L1299.40,652.1 L1299.86,652.4 L1300.31,652.8 L1300.77,653.1 L1301.22,653.5 L1301.68,653.8 L1302.13,654.1 L1302.59,654.4 L1303.04,654.7 L1303.49,654.9 L1303.95,655.2 L1304.40,655.5 L1304.86,655.7 L1305.31,656.0 L1305.77,656.2 L1306.22,656.4 L1306.68,656.5 L1307.13,656.5 L1307.59,656.5 L1308.04,656.1 L1308.49,655.6 L1308.95,655.0 L1309.40,654.3 L1309.86,653.6 L1310.31,652.7 L1310.77,651.7 L1311.22,650.6 L1311.68,649.7 L1312.13,649.2 L1312.59,649.2 L1313.04,649.2 L1313.49,649.3 L1313.95,649.5 L1314.40,649.6 L1314.86,649.8 L1315.31,650.0 L1315.77,650.2 L1316.22,650.5 L1316.68,651.0 L1317.13,651.5 L1317.59,652.0 L1318.04,652.4 L1318.49,652.7 L1318.95,652.9 L1319.40,652.7 L1319.86,652.2 L1320.31,651.6 L1320.77,651.0 L1321.22,650.4 L1321.68,649.9 L1322.13,649.4 L1322.59,648.9 L1323.04,648.4 L1323.49,648.0 L1323.95,647.6 L1324.40,647.4 L1324.86,647.3 L1325.31,647.3 L1325.77,647.3 L1326.22,647.3 L1326.68,647.3 L1327.13,647.3 L1327.59,647.3 L1328.04,647.3 L1328.49,647.3 L1328.95,647.3 L1329.40,647.3 L1329.86,647.3 L1330.31,647.3 L1330.77,647.3 L1331.22,647.3 L1331.68,647.3 L1332.13,647.3 L1332.59,647.4 L1333.04,647.5 L1333.49,647.7 L1333.95,648.1 L1334.40,648.5 L1334.86,649.0 L1335.31,649.6 L1335.77,650.2 L1336.22,651.1 L1336.68,652.3 L1337.13,653.8 L1337.59,655.4 L1338.04,656.9 L1338.49,658.4 L1338.95,659.9 L1339.40,661.4 L1339.86,663.0 L1340.31,664.5 L1340.77,666.0 L1341.22,667.5 L1341.68,668.9 L1342.13,670.2 L1342.59,671.6 L1343.04,673.0 L1343.49,674.3 L1343.95,675.5 L1344.40,676.6 L1344.86,677.6 L1345.31,678.6 L1345.77,679.5 L1346.22,680.3 L1346.68,681.2 L1347.13,681.9 L1347.59,682.5 L1348.04,683.0 L1348.49,683.4 L1348.95,683.7 L1349.40,684.0 L1349.86,684.2 L1350.31,684.3 L1350.77,684.5 L1351.22,684.6 L1351.68,684.6 L1352.13,684.7 L1352.59,684.6 L1353.04,684.4 L1353.49,683.9 L1353.95,683.2 L1354.40,682.4 L1354.86,681.4 L1355.31,680.3 L1355.77,679.2 L1356.22,677.2 L1356.68,674.5 L1357.13,671.4 L1357.59,668.2 L1358.04,665.4 L1358.49,662.9 L1358.95,660.4 L1359.40,657.9 L1359.86,655.7 L1360.31,653.9 L1360.77,652.6 L1361.22,651.6 L1361.68,650.7 L1362.13,649.8 L1362.59,649.1 L1363.04,648.6 L1363.49,648.1 L1363.95,647.9 L1364.40,647.8 L1364.86,647.7 L1365.31,647.6 L1365.77,647.5 L1366.22,647.4 L1366.68,647.3 L1367.13,647.2 L1367.59,647.2 L1368.04,647.1 L1368.49,647.1 L1368.95,647.0 L1369.40,647.0 L1369.86,647.0 L1370.31,647.0 L1370.77,647.0 L1371.22,647.0 L1371.68,647.0 L1372.13,647.0 L1372.59,647.0 L1373.04,647.0 L1373.49,647.0 L1373.95,647.0 L1374.40,647.0 L1374.86,647.0 L1375.31,647.1 L1375.77,647.1 L1376.22,647.1 L1376.68,647.1 L1377.13,647.2 L1377.59,647.2 L1378.04,647.2 L1378.49,647.3 L1378.95,647.3 L1379.40,647.4 L1379.86,647.6 L1380.31,647.9 L1380.77,648.2 L1381.22,648.7 L1381.68,649.2 L1382.13,649.7 L1382.59,650.3 L1383.04,651.2 L1383.49,652.4 L1383.95,653.7 L1384.40,655.2 L1384.86,656.6 L1385.31,658.0 L1385.77,659.3 L1386.22,660.5 L1386.68,661.7 L1387.13,662.9 L1387.59,664.0 L1388.04,665.1 L1388.49,666.2 L1388.95,667.2 L1389.40,668.2 L1389.86,669.3 L1390.31,670.3 L1390.77,671.3 L1391.22,672.2 L1391.68,673.0 L1392.13,673.7 L1392.59,674.2 L1393.04,674.6 L1393.49,675.0 L1393.95,675.3 L1394.40,675.6 L1394.86,675.8 L1395.31,675.9 L1395.77,675.8 L1396.22,675.5 L1396.68,675.2 L1397.13,674.7 L1397.59,674.0 L1398.04,673.3 L1398.49,672.5 L1398.95,671.6 L1399.40,670.5 L1399.86,668.4 L1400.31,665.6 L1400.77,662.5 L1401.22,659.6 L1401.68,657.4 L1402.13,655.4 L1402.59,653.4 L1403.04,651.6 L1403.49,650.2 L1403.95,649.3 L1404.40,649.1 L1404.86,649.0 L1405.31,648.9 L1405.77,648.9 L1406.22,648.8 L1406.68,648.7 L1407.13,648.7 L1407.59,648.7 L1408.04,648.6 L1408.49,648.6 L1408.95,648.6 L1409.40,648.6 L1409.86,648.8 L1410.31,649.0 L1410.77,649.3 L1411.22,649.6 L1411.68,649.9 L1412.13,650.0 L1412.59,650.1 L1413.04,650.0 L1413.49,649.9 L1413.95,649.8 L1414.40,649.6 L1414.86,649.3 L1415.31,649.1 L1415.77,648.9 L1416.22,648.7 L1416.68,648.5 L1417.13,648.3 L1417.59,648.2 L1418.04,648.2 L1418.49,648.1 L1418.95,648.1 L1419.40,648.0 L1419.86,648.0 L1420.31,647.9 L1420.77,647.9 L1421.22,647.8 L1421.68,647.8 L1422.13,647.7 L1422.59,647.7 L1423.04,647.7 L1423.49,647.6 L1423.95,647.6 L1424.40,647.6 L1424.86,647.5 L1425.31,647.5 L1425.77,647.5 L1426.22,647.5 L1426.68,647.4 L1427.13,647.4 L1427.59,647.4 L1428.04,647.4 L1428.49,647.4 L1428.95,647.4 L1429.40,647.3 L1429.86,647.3 L1430.31,647.3 L1430.77,647.3 L1431.22,647.3 L1431.68,647.4 L1432.13,647.5 L1432.59,647.6 L1433.04,647.8 L1433.49,647.9 L1433.95,648.1 L1434.40,648.3 L1434.86,648.6 L1435.31,648.8 L1435.77,649.1 L1436.22,649.3 L1436.68,649.7 L1437.13,650.2 L1437.59,650.7 L1438.04,651.3 L1438.49,651.9 L1438.95,652.5 L1439.40,653.1 L1439.86,653.7 L1440.31,654.2 L1440.77,654.6 L1441.22,654.9 L1441.68,655.1 L1442.13,655.4 L1442.59,655.7 L1443.04,655.9 L1443.49,656.1 L1443.95,656.3 L1444.40,656.4 L1444.86,656.5 L1445.31,656.5 L1445.77,656.4 L1446.22,656.1 L1446.68,655.8 L1447.13,655.3 L1447.59,654.8 L1448.04,654.3 L1448.49,653.8 L1448.95,653.3 L1449.40,652.8 L1449.86,652.2 L1450.31,651.6 L1450.77,650.9 L1451.22,650.2 L1451.68,649.5 L1452.13,648.9 L1452.59,648.4 L1453.04,648.0 L1453.49,647.9 L1453.95,647.9 L1454.40,647.9 L1454.86,647.9 L1455.31,647.9 L1455.77,648.0 L1456.22,648.0 L1456.68,648.0 L1457.13,648.1 L1457.59,648.1 L1458.04,648.1 L1458.49,648.2 L1458.95,648.2 L1459.40,648.2 L1459.86,648.2 L1460.31,648.2 L1460.77,648.3 L1461.22,648.3 L1461.68,648.2 L1462.13,648.2 L1462.59,648.2 L1463.04,648.1 L1463.49,648.1 L1463.95,648.0 L1464.40,647.9 L1464.86,647.9 L1465.31,647.8 L1465.77,647.7 L1466.22,647.6 L1466.68,647.6 L1467.13,647.5 L1467.59,647.4 L1468.04,647.4 L1468.49,647.4 L1468.95,647.3 L1469.40,647.3 L1469.86,647.4 L1470.31,647.6 L1470.77,647.9 L1471.22,648.2 L1471.68,648.6 L1472.13,649.1 L1472.59,649.6 L1473.04,650.0 L1473.49,650.7 L1473.95,651.4 L1474.40,652.3 L1474.86,653.1 L1475.31,654.0 L1475.77,654.9 L1476.22,655.6 L1476.68,656.2 L1477.13,656.7 L1477.59,657.2 L1478.04,657.6 L1478.49,658.0 L1478.95,658.3 L1479.40,658.4 L1479.86,658.3 L1480.31,658.2 L1480.77,657.9 L1481.22,657.6 L1481.68,657.3 L1482.13,657.0 L1482.59,656.6 L1483.04,656.3 L1483.49,656.0 L1483.95,655.8 L1484.40,655.6 L1484.86,655.6 L1485.31,655.5 L1485.77,655.5 L1486.22,655.5 L1486.68,655.4 L1487.13,655.4 L1487.59,655.4 L1488.04,655.3 L1488.49,655.3 L1488.95,655.0 L1489.40,654.3 L1489.86,653.1 L1490.31,651.9 L1490.77,650.8 L1491.22,650.0 L1491.68,649.5 L1492.13,648.9 L1492.59,648.5 L1493.04,648.0 L1493.49,647.7 L1493.95,647.4 L1494.40,647.3 L1494.86,647.3 L1495.31,647.3 L1495.77,647.4 L1496.22,647.4 L1496.68,647.4 L1497.13,647.4 L1497.59,647.4 L1498.04,647.5 L1498.49,647.5 L1498.95,647.5 L1499.40,647.6 L1499.86,647.6 L1500.31,647.7 L1500.77,647.7 L1501.22,647.8 L1501.68,647.9 L1502.13,647.9 L1502.59,648.0 L1503.04,648.1 L1503.49,648.1 L1503.95,648.2 L1504.40,648.3 L1504.86,648.4 L1505.31,648.4 L1505.77,648.5 L1506.22,648.6 L1506.68,648.7 L1507.13,648.9 L1507.59,649.2 L1508.04,649.5 L1508.49,649.8 L1508.95,650.1 L1509.40,650.4 L1509.86,650.7 L1510.31,651.0 L1510.77,651.2 L1511.22,651.4 L1511.68,651.5 L1512.13,651.6 L1512.59,651.5 L1513.04,651.2 L1513.49,650.9 L1513.95,650.5 L1514.40,650.0 L1514.86,649.6 L1515.31,649.2 L1515.77,648.9 L1516.22,648.6 L1516.68,648.5 L1517.13,648.3 L1517.59,648.2 L1518.04,648.0 L1518.49,647.9 L1518.95,647.8 L1519.40,647.7 L1519.86,647.6 L1520.31,647.5 L1520.77,647.4 L1521.22,647.4 L1521.68,647.3 L1522.13,647.3 L1522.59,647.4 L1523.04,647.5 L1523.49,647.7 L1523.95,647.9 L1524.40,648.1 L1524.86,648.4 L1525.31,648.7 L1525.77,649.0 L1526.22,649.2 L1526.68,649.4 L1527.13,649.6 L1527.59,649.7 L1528.04,649.7 L1528.49,649.7 L1528.95,649.6 L1529.40,649.5 L1529.86,649.4 L1530.31,649.2 L1530.77,649.1 L1531.22,648.9 L1531.68,648.8 L1532.13,648.7 L1532.59,648.6 L1533.04,648.6 L1533.49,648.7 L1533.95,648.8 L1534.40,649.0 L1534.86,649.2 L1535.31,649.5 L1535.77,649.7 L1536.22,649.9 L1536.68,650.0 L1537.13,650.1 L1537.59,650.0 L1538.04,649.9 L1538.49,649.7 L1538.95,649.4 L1539.40,649.1 L1539.86,648.8 L1540.31,648.6 L1540.77,648.4 L1541.22,648.3 L1541.68,648.2 L1542.13,648.2 L1542.59,648.2 L1543.04,648.2 L1543.49,648.2 L1543.95,648.2 L1544.40,648.1 L1544.86,648.1 L1545.31,648.1 L1545.77,648.1 L1546.22,648.1 L1546.68,648.1 L1547.13,648.1 L1547.59,648.1 L1548.04,648.1 L1548.49,648.1 L1548.95,648.1 L1549.40,648.1 L1549.86,648.1 L1550.31,648.1 L1550.77,648.1 L1551.22,648.1 L1551.68,648.1 L1552.13,648.1 L1552.59,648.1 L1553.04,648.0 L1553.49,648.0 L1553.95,648.0 L1554.40,648.0 L1554.86,648.0 L1555.31,648.0 L1555.77,648.0 L1556.22,648.0 L1556.68,648.0 L1557.13,648.0 L1557.59,648.0 L1558.04,648.0 L1558.49,648.0 L1558.95,648.0 L1559.40,648.0 L1559.86,647.9 L1560.31,647.9 L1560.77,647.9 L1561.22,647.9 L1561.68,647.9 L1562.13,647.8 L1562.59,647.7 L1563.04,647.6 L1563.49,647.5 L1563.95,647.4 L1564.40,647.4 L1564.86,647.3 L1565.31,647.4 L1565.77,647.5 L1566.22,647.7 L1566.68,647.9 L1567.13,648.2 L1567.59,648.4 L1568.04,648.7 L1568.49,648.9 L1568.95,649.0 L1569.40,649.1 L1569.86,649.2 L1570.31,649.2 L1570.77,649.1 L1571.22,649.0 L1571.68,648.9 L1572.13,648.8 L1572.59,648.6 L1573.04,648.4 L1573.49,648.2 L1573.95,647.9"/>
<path id="c-blue" stroke="#0000ff" stroke-width="6" d="M43.95,982.5 L44.40,982.5 L44.86,982.5 L45.31,982.5 L45.77,982.5 L46.22,982.5 L46.68,982.5 L47.13,982.5 L47.59,982.5 L48.04,982.5 L48.49,982.5 L48.95,982.5 L49.40,982.5 L49.86,982.5 L50.31,982.5 L50.77,982.5 L51.22,982.5 L51.68,982.5 L52.13,982.5 L52.59,982.5 L53.04,982.5 L53.49,982.5 L53.95,982.5 L54.40,982.5 L54.86,982.5 L55.31,982.5 L55.77,982.5 L56.22,982.5 L56.68,982.5 L57.13,982.5 L57.59,982.5 L58.04,982.5 L58.49,982.5 L58.95,982.6 L59.40,982.6 L59.86,982.7 L60.31,982.7 L60.77,982.8 L61.22,982.9 L61.68,983.0 L62.13,983.1 L62.59,983.2 L63.04,983.3 L63.49,983.5 L63.95,983.6 L64.40,983.7 L64.86,983.9 L65.31,984.0 L65.77,984.1 L66.22,984.3 L66.68,984.4 L67.13,984.5 L67.59,984.7 L68.04,984.8 L68.49,985.0 L68.95,985.2 L69.40,985.4 L69.86,985.6 L70.31,985.9 L70.77,986.1 L71.22,986.3 L71.68,986.5 L72.13,986.8 L72.59,987.0 L73.04,987.2 L73.49,987.4 L73.95,987.5 L74.40,987.7 L74.86,987.8 L75.31,988.0 L75.77,988.1 L76.22,988.1 L76.68,988.2 L77.13,988.2 L77.59,988.2 L78.04,988.2 L78.49,988.2 L78.95,988.1 L79.40,988.1 L79.86,988.1 L80.31,988.1 L80.77,988.1 L81.22,988.1 L81.68,988.1 L82.13,988.1 L82.59,988.1 L83.04,988.1 L83.49,988.0 L83.95,988.0 L84.40,988.0 L84.86,988.0 L85.31,988.0 L85.77,988.0 L86.22,987.9 L86.68,987.9 L87.13,987.9 L87.59,987.9 L88.04,987.9 L88.49,987.8 L88.95,987.8 L89.40,987.8 L89.86,987.8 L90.31,987.7 L90.77,987.7 L91.22,987.7 L91.68,987.6 L92.13,987.6 L92.59,987.6 L93.04,987.5 L93.49,987.5 L93.95,987.5 L94.40,987.5 L94.86,987.4 L95.31,987.4 L95.77,987.4 L96.22,987.4 L96.68,987.5 L97.13,987.7 L97.59,987.9 L98.04,988.2 L98.49,988.4 L98.95,988.8 L99.40,989.1 L99.86,989.5 L100.31,989.8 L100.77,990.2 L101.22,990.7 L101.68,991.2 L102.13,991.8 L102.59,992.5 L103.04,993.1 L103.49,993.8 L103.95,994.5 L104.40,995.2 L104.86,995.9 L105.31,996.5 L105.77,997.0 L106.22,997.5 L106.68,998.0 L107.13,998.5 L107.59,998.9 L108.04,999.4 L108.49,999.9 L108.95,1000.3 L109.40,1000.7 L109.86,1001.1 L110.31,1001.4 L110.77,1001.7 L111.22,1002.0 L111.68,1002.2 L112.13,1002.4 L112.59,1002.6 L113.04,1002.8 L113.49,1003.0 L113.95,1003.2 L114.40,1003.4 L114.86,1003.5 L115.31,1003.6 L115.77,1003.6 L116.22,1003.6 L116.68,1003.6 L117.13,1003.5 L117.59,1003.3 L118.04,1003.1 L118.49,1002.9 L118.95,1002.7 L119.40,1002.4 L119.86,1002.1 L120.31,1001.8 L120.77,1001.5 L121.22,1001.2 L121.68,1000.9 L122.13,1000.5 L122.59,1000.1 L123.04,999.7 L123.49,999.2 L123.95,998.7 L124.40,998.2 L124.86,997.6 L125.31,997.1 L125.77,996.5 L126.22,995.9 L126.68,995.4 L127.13,994.8 L127.59,994.3 L128.04,993.7 L128.49,993.1 L128.95,992.5 L129.40,991.8 L129.86,991.2 L130.31,990.6 L130.77,989.9 L131.22,989.3 L131.68,988.7 L132.13,988.1 L132.59,987.6 L133.04,987.0 L133.49,986.6 L133.95,986.1 L134.40,985.7 L134.86,985.2 L135.31,984.7 L135.77,984.3 L136.22,983.8 L136.68,983.4 L137.13,983.0 L137.59,982.7 L138.04,982.4 L138.49,982.2 L138.95,982.1 L139.40,982.0 L139.86,982.1 L140.31,982.2 L140.77,982.4 L141.22,982.6 L141.68,982.9 L142.13,983.3 L142.59,983.7 L143.04,984.1 L143.49,984.6 L143.95,985.0 L144.40,985.7 L144.86,986.6 L145.31,987.6 L145.77,988.9 L146.22,990.2 L146.68,991.7 L147.13,993.2 L147.59,994.7 L148.04,996.2 L148.49,997.7 L148.95,999.2 L149.40,1000.8 L149.86,1002.5 L150.31,1004.3 L150.77,1006.0 L151.22,1007.9 L151.68,1009.7 L152.13,1011.6 L152.59,1013.5 L153.04,1015.4 L153.49,1017.3 L153.95,1019.4 L154.40,1021.5 L154.86,1023.6 L155.31,1025.8 L155.77,1027.8 L156.22,1029.8 L156.68,1031.7 L157.13,1033.5 L157.59,1035.2 L158.04,1036.8 L158.49,1038.5 L158.95,1040.1 L159.40,1041.7 L159.86,1043.2 L160.31,1044.5 L160.77,1045.7 L161.22,1046.7 L161.68,1047.5 L162.13,1048.0 L162.59,1048.6 L163.04,1049.1 L163.49,1049.6 L163.95,1050.1 L164.40,1050.5 L164.86,1050.8 L165.31,1051.0 L165.77,1051.2 L166.22,1051.2 L166.68,1051.1 L167.13,1050.9 L167.59,1050.6 L168.04,1050.2 L168.49,1049.6 L168.95,1049.0 L169.40,1048.3 L169.86,1047.6 L170.31,1046.9 L170.77,1046.1 L171.22,1045.2 L171.68,1044.1 L172.13,1042.8 L172.59,1041.3 L173.04,1039.7 L173.49,1038.0 L173.95,1036.3 L174.40,1034.5 L174.86,1032.7 L175.31,1030.8 L175.77,1028.8 L176.22,1026.7 L176.68,1024.4 L177.13,1022.0 L177.59,1019.5 L178.04,1017.1 L178.49,1014.7 L178.95,1012.5 L179.40,1010.3 L179.86,1008.3 L180.31,1006.4 L180.77,1004.4 L181.22,1002.4 L181.68,1000.6 L182.13,998.7 L182.59,997.0 L183.04,995.4 L183.49,993.9 L183.95,992.6 L184.40,991.4 L184.86,990.2 L185.31,989.0 L185.77,987.9 L186.22,986.8 L186.68,985.8 L187.13,984.9 L187.59,984.0 L188.04,983.2 L188.49,982.5 L188.95,981.9 L189.40,981.5 L189.86,981.1 L190.31,980.8 L190.77,980.5 L191.22,980.2 L191.68,979.9 L192.13,979.7 L192.59,979.5 L193.04,979.3 L193.49,979.1 L193.95,979.0 L194.40,978.9 L194.86,978.8 L195.31,978.8 L195.77,978.9 L196.22,979.0 L196.68,979.2 L197.13,979.4 L197.59,979.7 L198.04,980.0 L198.49,980.4 L198.95,980.7 L199.40,981.2 L199.86,981.6 L200.31,982.0 L200.77,982.5 L201.22,983.0 L201.68,983.7 L202.13,984.4 L202.59,985.3 L203.04,986.2 L203.49,987.2 L203.95,988.3 L204.40,989.4 L204.86,990.6 L205.31,991.9 L205.77,993.1 L206.22,994.4 L206.68,995.7 L207.13,997.2 L207.59,998.9 L208.04,1000.6 L208.49,1002.4 L208.95,1004.3 L209.40,1006.2 L209.86,1008.1 L210.31,1010.0 L210.77,1011.8 L211.22,1013.5 L211.68,1015.4 L212.13,1017.2 L212.59,1019.1 L213.04,1021.0 L213.49,1022.8 L213.95,1024.6 L214.40,1026.2 L214.86,1027.8 L215.31,1029.2 L215.77,1030.6 L216.22,1032.0 L216.68,1033.4 L217.13,1034.7 L217.59,1035.9 L218.04,1037.1 L218.49,1038.1 L218.95,1039.0 L219.40,1039.7 L219.86,1040.3 L220.31,1040.8 L220.77,1041.3 L221.22,1041.8 L221.68,1042.2 L222.13,1042.6 L222.59,1043.0 L223.04,1043.3 L223.49,1043.5 L223.95,1043.7 L224.40,1043.8 L224.86,1043.9 L225.31,1043.8 L225.77,1043.7 L226.22,1043.5 L226.68,1043.2 L227.13,1042.9 L227.59,1042.5 L228.04,1042.0 L228.49,1041.6 L228.95,1041.1 L229.40,1040.6 L229.86,1040.1 L230.31,1039.6 L230.77,1039.1 L231.22,1038.6 L231.68,1038.1 L232.13,1037.6 L232.59,1037.0 L233.04,1036.4 L233.49,1035.8 L233.95,1035.1 L234.40,1034.5 L234.86,1033.8 L235.31,1033.2 L235.77,1032.5 L236.22,1031.9 L236.68,1031.3 L237.13,1030.8 L237.59,1030.2 L238.04,1029.7 L238.49,1029.2 L238.95,1028.7 L239.40,1028.1 L239.86,1027.6 L240.31,1027.1 L240.77,1026.5 L241.22,1025.9 L241.68,1025.3 L242.13,1024.7 L242.59,1024.0 L243.04,1023.2 L243.49,1022.4 L243.95,1021.5 L244.40,1020.4 L244.86,1019.3 L245.31,1018.1 L245.77,1016.9 L246.22,1015.7 L246.68,1014.4 L247.13,1013.2 L247.59,1012.1 L248.04,1010.9 L248.49,1009.7 L248.95,1008.5 L249.40,1007.2 L249.86,1006.0 L250.31,1004.8 L250.77,1003.6 L251.22,1002.6 L251.68,1001.7 L252.13,1000.9 L252.59,1000.1 L253.04,999.3 L253.49,998.6 L253.95,997.9 L254.40,997.2 L254.86,996.7 L255.31,996.3 L255.77,996.1 L256.22,996.0 L256.68,996.1 L257.13,996.4 L257.59,996.7 L258.04,997.2 L258.49,997.7 L258.95,998.3 L259.40,998.9 L259.86,999.6 L260.31,1000.5 L260.77,1001.7 L261.22,1003.3 L261.68,1005.0 L262.13,1006.9 L262.59,1009.0 L263.04,1011.0 L263.49,1013.1 L263.95,1015.4 L264.40,1017.8 L264.86,1020.5 L265.31,1023.2 L265.77,1026.1 L266.22,1029.1 L266.68,1032.2 L267.13,1035.4 L267.59,1038.9 L268.04,1042.6 L268.49,1046.3 L268.95,1050.2 L269.40,1054.0 L269.86,1057.9 L270.31,1061.8 L270.77,1065.8 L271.22,1069.9 L271.68,1074.1 L272.13,1078.2 L272.59,1082.2 L273.04,1086.0 L273.49,1089.7 L273.95,1093.3 L274.40,1096.9 L274.86,1100.4 L275.31,1103.7 L275.77,1107.0 L276.22,1110.0 L276.68,1112.8 L277.13,1115.6 L277.59,1118.4 L278.04,1121.2 L278.49,1123.7 L278.95,1126.0 L279.40,1127.9 L279.86,1129.4 L280.31,1130.6 L280.77,1131.6 L281.22,1132.6 L281.68,1133.5 L282.13,1134.3 L282.59,1134.8 L283.04,1135.1 L283.49,1135.1 L283.95,1135.0 L284.40,1134.8 L284.86,1134.5 L285.31,1134.1 L285.77,1133.6 L286.22,1133.1 L286.68,1132.5 L287.13,1131.9 L287.59,1131.3 L288.04,1130.6 L288.49,1129.8 L288.95,1128.8 L289.40,1127.7 L289.86,1126.4 L290.31,1125.2 L290.77,1123.9 L291.22,1122.6 L291.68,1121.4 L292.13,1120.2 L292.59,1119.1 L293.04,1118.0 L293.49,1116.8 L293.95,1115.6 L294.40,1114.6 L294.86,1113.7 L295.31,1112.9 L295.77,1112.4 L296.22,1112.0 L296.68,1111.5 L297.13,1111.1 L297.59,1110.8 L298.04,1110.5 L298.49,1110.3 L298.95,1110.2 L299.40,1110.1 L299.86,1110.2 L300.31,1110.3 L300.77,1110.5 L301.22,1110.8 L301.68,1111.2 L302.13,1111.6 L302.59,1112.0 L303.04,1112.4 L303.49,1112.9 L303.95,1113.3 L304.40,1113.7 L304.86,1114.1 L305.31,1114.5 L305.77,1114.9 L306.22,1115.4 L306.68,1115.9 L307.13,1116.3 L307.59,1116.8 L308.04,1117.3 L308.49,1117.8 L308.95,1118.4 L309.40,1118.9 L309.86,1119.5 L310.31,1120.0 L310.77,1120.6 L311.22,1121.2 L311.68,1121.8 L312.13,1122.4 L312.59,1123.0 L313.04,1123.6 L313.49,1124.2 L313.95,1124.9 L314.40,1125.6 L314.86,1126.3 L315.31,1127.1 L315.77,1127.8 L316.22,1128.7 L316.68,1129.5 L317.13,1130.5 L317.59,1131.5 L318.04,1132.5 L318.49,1133.7 L318.95,1134.9 L319.40,1136.2 L319.86,1137.5 L320.31,1138.9 L320.77,1140.4 L321.22,1141.9 L321.68,1143.5 L322.13,1145.3 L322.59,1147.2 L323.04,1149.1 L323.49,1151.2 L323.95,1153.4 L324.40,1155.7 L324.86,1158.2 L325.31,1160.8 L325.77,1163.7 L326.22,1166.6 L326.68,1169.8 L327.13,1173.0 L327.59,1176.2 L328.04,1179.5 L328.49,1183.0 L328.95,1186.6 L329.40,1190.3 L329.86,1194.0 L330.31,1197.8 L330.77,1201.6 L331.22,1205.3 L331.68,1209.0 L332.13,1212.7 L332.59,1216.4 L333.04,1220.1 L333.49,1223.8 L333.95,1227.5 L334.40,1231.0 L334.86,1234.5 L335.31,1238.0 L335.77,1241.4 L336.22,1244.8 L336.68,1248.1 L337.13,1251.4 L337.59,1254.6 L338.04,1257.8 L338.49,1261.1 L338.95,1264.5 L339.40,1267.9 L339.86,1271.2 L340.31,1274.2 L340.77,1276.9 L341.22,1279.0 L341.68,1280.8 L342.13,1282.5 L342.59,1284.0 L343.04,1285.1 L343.49,1285.6 L343.95,1285.2 L344.40,1284.0 L344.86,1282.2 L345.31,1280.1 L345.77,1277.8 L346.22,1274.7 L346.68,1270.8 L347.13,1266.4 L347.59,1261.5 L348.04,1256.4 L348.49,1251.1 L348.95,1245.8 L349.40,1239.8 L349.86,1233.1 L350.31,1226.0 L350.77,1218.8 L351.22,1211.6 L351.68,1204.8 L352.13,1198.7 L352.59,1193.1 L353.04,1187.8 L353.49,1182.8 L353.95,1177.9 L354.40,1173.1 L354.86,1168.3 L355.31,1163.6 L355.77,1158.7 L356.22,1153.8 L356.68,1148.7 L357.13,1143.8 L357.59,1139.0 L358.04,1134.4 L358.49,1130.2 L358.95,1126.4 L359.40,1122.9 L359.86,1119.5 L360.31,1116.3 L360.77,1113.3 L361.22,1110.5 L361.68,1107.9 L362.13,1105.5 L362.59,1103.2 L363.04,1100.9 L363.49,1098.6 L363.95,1096.5 L364.40,1094.7 L364.86,1093.1 L365.31,1092.1 L365.77,1091.4 L366.22,1090.9 L366.68,1090.4 L367.13,1090.0 L367.59,1089.6 L368.04,1089.2 L368.49,1088.9 L368.95,1088.7 L369.40,1088.6 L369.86,1088.5 L370.31,1088.6 L370.77,1088.6 L371.22,1088.8 L371.68,1089.0 L372.13,1089.3 L372.59,1089.5 L373.04,1089.8 L373.49,1090.1 L373.95,1090.5 L374.40,1091.0 L374.86,1091.5 L375.31,1092.1 L375.77,1092.5 L376.22,1092.8 L376.68,1092.9 L377.13,1092.9 L377.59,1092.7 L378.04,1092.4 L378.49,1092.0 L378.95,1091.6 L379.40,1091.1 L379.86,1090.6 L380.31,1090.1 L380.77,1089.6 L381.22,1089.2 L381.68,1088.8 L382.13,1088.3 L382.59,1087.8 L383.04,1087.3 L383.49,1086.8 L383.95,1086.4 L384.40,1086.0 L384.86,1085.6 L385.31,1085.3 L385.77,1085.0 L386.22,1084.8 L386.68,1084.6 L387.13,1084.4 L387.59,1084.2 L388.04,1084.0 L388.49,1083.9 L388.95,1083.8 L389.40,1083.7 L389.86,1083.6 L390.31,1083.6 L390.77,1083.7 L391.22,1083.8 L391.68,1083.9 L392.13,1084.0 L392.59,1084.2 L393.04,1084.5 L393.49,1084.7 L393.95,1085.0 L394.40,1085.2 L394.86,1085.5 L395.31,1085.8 L395.77,1086.2 L396.22,1086.6 L396.68,1087.1 L397.13,1087.7 L397.59,1088.4 L398.04,1089.2 L398.49,1090.0 L398.95,1090.9 L399.40,1091.7 L399.86,1092.5 L400.31,1093.3 L400.77,1094.2 L401.22,1095.1 L401.68,1096.0 L402.13,1097.0 L402.59,1098.0 L403.04,1099.0 L403.49,1100.0 L403.95,1100.9 L404.40,1101.8 L404.86,1102.7 L405.31,1103.4 L405.77,1104.1 L406.22,1104.7 L406.68,1105.3 L407.13,1105.9 L407.59,1106.5 L408.04,1107.0 L408.49,1107.5 L408.95,1108.0 L409.40,1108.5 L409.86,1108.9 L410.31,1109.4 L410.77,1109.8 L411.22,1110.3 L411.68,1110.7 L412.13,1111.1 L412.59,1111.5 L413.04,1112.0 L413.49,1112.4 L413.95,1112.8 L414.40,1113.2 L414.86,1113.6 L415.31,1114.0 L415.77,1114.4 L416.22,1114.7 L416.68,1114.9 L417.13,1115.2 L417.59,1115.4 L418.04,1115.6 L418.49,1115.8 L418.95,1116.0 L419.40,1116.2 L419.86,1116.2 L420.31,1116.3 L420.77,1116.2 L421.22,1116.1 L421.68,1115.9 L422.13,1115.6 L422.59,1115.3 L423.04,1115.0 L423.49,1114.6 L423.95,1114.2 L424.40,1113.8 L424.86,1113.4 L425.31,1113.0 L425.77,1112.6 L426.22,1112.2 L426.68,1111.7 L427.13,1111.3 L427.59,1110.8 L428.04,1110.2 L428.49,1109.7 L428.95,1109.1 L429.40,1108.4 L429.86,1107.8 L430.31,1107.0 L430.77,1106.3 L431.22,1105.4 L431.68,1104.5 L432.13,1103.4 L432.59,1102.2 L433.04,1100.8 L433.49,1099.4 L433.95,1097.9 L434.40,1096.4 L434.86,1094.8 L435.31,1093.3 L435.77,1091.8 L436.22,1090.2 L436.68,1088.5 L437.13,1086.8 L437.59,1085.0 L438.04,1083.1 L438.49,1081.2 L438.95,1079.2 L439.40,1077.0 L439.86,1074.4 L440.31,1071.6 L440.77,1068.6 L441.22,1065.7 L441.68,1062.9 L442.13,1060.3 L442.59,1058.2 L443.04,1056.3 L443.49,1054.5 L443.95,1052.7 L444.40,1051.1 L444.86,1049.5 L445.31,1048.1 L445.77,1046.7 L446.22,1045.5 L446.68,1044.5 L447.13,1043.5 L447.59,1042.6 L448.04,1041.8 L448.49,1041.0 L448.95,1040.3 L449.40,1039.7 L449.86,1039.3 L450.31,1039.0 L450.77,1038.7 L451.22,1038.5 L451.68,1038.3 L452.13,1038.1 L452.59,1038.0 L453.04,1037.9 L453.49,1037.8 L453.95,1037.7 L454.40,1037.7 L454.86,1037.8 L455.31,1038.0 L455.77,1038.2 L456.22,1038.5 L456.68,1038.9 L457.13,1039.3 L457.59,1039.7 L458.04,1040.1 L458.49,1040.5 L458.95,1041.1 L459.40,1041.6 L459.86,1042.3 L460.31,1042.9 L460.77,1043.6 L461.22,1044.3 L461.68,1045.0 L462.13,1045.7 L462.59,1046.3 L463.04,1047.0 L463.49,1047.6 L463.95,1048.3 L464.40,1049.0 L464.86,1049.7 L465.31,1050.3 L465.77,1051.0 L466.22,1051.6 L466.68,1052.1 L467.13,1052.5 L467.59,1053.0 L468.04,1053.4 L468.49,1053.7 L468.95,1054.1 L469.40,1054.4 L469.86,1054.7 L470.31,1055.0 L470.77,1055.3 L471.22,1055.6 L471.68,1055.9 L472.13,1056.2 L472.59,1056.5 L473.04,1056.9 L473.49,1057.2 L473.95,1057.5 L474.40,1057.9 L474.86,1058.3 L475.31,1058.6 L475.77,1059.0 L476.22,1059.4 L476.68,1059.8 L477.13,1060.2 L477.59,1060.6 L478.04,1061.0 L478.49,1061.3 L478.95,1061.7 L479.40,1062.1 L479.86,1062.4 L480.31,1062.7 L480.77,1063.0 L481.22,1063.3 L481.68,1063.6 L482.13,1063.8 L482.59,1064.1 L483.04,1064.3 L483.49,1064.6 L483.95,1064.8 L484.40,1065.0 L484.86,1065.2 L485.31,1065.4 L485.77,1065.6 L486.22,1065.8 L486.68,1066.0 L487.13,1066.1 L487.59,1066.3 L488.04,1066.4 L488.49,1066.5 L488.95,1066.6 L489.40,1066.7 L489.86,1066.8 L490.31,1066.9 L490.77,1067.0 L491.22,1067.1 L491.68,1067.1 L492.13,1067.2 L492.59,1067.2 L493.04,1067.2 L493.49,1067.1 L493.95,1067.0 L494.40,1066.9 L494.86,1066.7 L495.31,1066.5 L495.77,1066.2 L496.22,1066.0 L496.68,1065.7 L497.13,1065.5 L497.59,1065.2 L498.04,1064.9 L498.49,1064.7 L498.95,1064.4 L499.40,1064.2 L499.86,1064.0 L500.31,1063.8 L500.77,1063.6 L501.22,1063.4 L501.68,1063.2 L502.13,1063.0 L502.59,1062.8 L503.04,1062.6 L503.49,1062.4 L503.95,1062.2 L504.40,1062.0 L504.86,1061.8 L505.31,1061.5 L505.77,1061.2 L506.22,1061.0 L506.68,1060.6 L507.13,1060.3 L507.59,1059.9 L508.04,1059.5 L508.49,1059.1 L508.95,1058.6 L509.40,1058.2 L509.86,1057.7 L510.31,1057.3 L510.77,1056.9 L511.22,1056.5 L511.68,1056.1 L512.13,1055.7 L512.59,1055.3 L513.04,1054.9 L513.49,1054.5 L513.95,1054.0 L514.40,1053.6 L514.86,1053.3 L515.31,1053.0 L515.77,1052.7 L516.22,1052.5 L516.68,1052.5 L517.13,1052.5 L517.59,1052.6 L518.04,1052.8 L518.49,1053.1 L518.95,1053.4 L519.40,1053.8 L519.86,1054.1 L520.31,1054.5 L520.77,1054.9 L521.22,1055.3 L521.68,1055.6 L522.13,1056.0 L522.59,1056.3 L523.04,1056.7 L523.49,1057.1 L523.95,1057.5 L524.40,1057.8 L524.86,1058.2 L525.31,1058.6 L525.77,1058.9 L526.22,1059.2 L526.68,1059.5 L527.13,1059.8 L527.59,1060.0 L528.04,1060.2 L528.49,1060.4 L528.95,1060.5 L529.40,1060.7 L529.86,1060.9 L530.31,1061.1 L530.77,1061.2 L531.22,1061.3 L531.68,1061.4 L532.13,1061.5 L532.59,1061.5 L533.04,1061.5 L533.49,1061.5 L533.95,1061.4 L534.40,1061.3 L534.86,1061.1 L535.31,1060.9 L535.77,1060.7 L536.22,1060.5 L536.68,1060.2 L537.13,1059.9 L537.59,1059.6 L538.04,1059.2 L538.49,1058.7 L538.95,1058.0 L539.40,1057.3 L539.86,1056.6 L540.31,1055.8 L540.77,1055.1 L541.22,1054.4 L541.68,1053.8 L542.13,1053.2 L542.59,1052.6 L543.04,1051.9 L543.49,1051.3 L543.95,1050.6 L544.40,1050.0 L544.86,1049.5 L545.31,1049.1 L545.77,1048.9 L546.22,1048.8 L546.68,1048.8 L547.13,1048.8 L547.59,1048.9 L548.04,1049.0 L548.49,1049.2 L548.95,1049.3 L549.40,1049.5 L549.86,1049.7 L550.31,1049.9 L550.77,1050.0 L551.22,1050.3 L551.68,1050.6 L552.13,1050.9 L552.59,1051.3 L553.04,1051.7 L553.49,1052.1 L553.95,1052.5 L554.40,1052.9 L554.86,1053.2 L555.31,1053.4 L555.77,1053.6 L556.22,1053.7 L556.68,1053.7 L557.13,1053.6 L557.59,1053.6 L558.04,1053.5 L558.49,1053.3 L558.95,1053.2 L559.40,1053.0 L559.86,1052.9 L560.31,1052.7 L560.77,1052.5 L561.22,1052.3 L561.68,1052.0 L562.13,1051.8 L562.59,1051.5 L563.04,1051.2 L563.49,1050.8 L563.95,1050.4 L564.40,1049.9 L564.86,1049.4 L565.31,1048.9 L565.77,1048.3 L566.22,1047.7 L566.68,1047.0 L567.13,1046.2 L567.59,1045.3 L568.04,1044.3 L568.49,1043.3 L568.95,1042.2 L569.40,1041.1 L569.86,1040.0 L570.31,1038.8 L570.77,1037.8 L571.22,1036.7 L571.68,1035.5 L572.13,1034.4 L572.59,1033.2 L573.04,1032.0 L573.49,1030.8 L573.95,1029.7 L574.40,1028.5 L574.86,1027.5 L575.31,1026.5 L575.77,1025.6 L576.22,1024.7 L576.68,1023.9 L577.13,1023.1 L577.59,1022.2 L578.04,1021.5 L578.49,1020.7 L578.95,1019.9 L579.40,1019.2 L579.86,1018.4 L580.31,1017.7 L580.77,1017.0 L581.22,1016.2 L581.68,1015.5 L582.13,1014.7 L582.59,1014.0 L583.04,1013.2 L583.49,1012.5 L583.95,1011.8 L584.40,1011.1 L584.86,1010.4 L585.31,1009.7 L585.77,1009.1 L586.22,1008.5 L586.68,1007.9 L587.13,1007.3 L587.59,1006.7 L588.04,1006.2 L588.49,1005.6 L588.95,1005.1 L589.40,1004.6 L589.86,1004.1 L590.31,1003.7 L590.77,1003.4 L591.22,1003.2 L591.68,1002.9 L592.13,1002.7 L592.59,1002.4 L593.04,1002.2 L593.49,1002.0 L593.95,1001.8 L594.40,1001.6 L594.86,1001.4 L595.31,1001.3 L595.77,1001.2 L596.22,1001.1 L596.68,1001.0 L597.13,1000.9 L597.59,1000.9 L598.04,1000.9 L598.49,1000.9 L598.95,1000.9 L599.40,1001.0 L599.86,1001.0 L600.31,1001.0 L600.77,1001.1 L601.22,1001.1 L601.68,1001.1 L602.13,1001.2 L602.59,1001.2 L603.04,1001.3 L603.49,1001.3 L603.95,1001.4 L604.40,1001.4 L604.86,1001.5 L605.31,1001.7 L605.77,1001.9 L606.22,1002.1 L606.68,1002.3 L607.13,1002.5 L607.59,1002.7 L608.04,1002.8 L608.49,1002.9 L608.95,1002.9 L609.40,1002.9 L609.86,1002.9 L610.31,1002.8 L610.77,1002.8 L611.22,1002.7 L611.68,1002.7 L612.13,1002.6 L612.59,1002.6 L613.04,1002.5 L613.49,1002.4 L613.95,1002.4 L614.40,1002.3 L614.86,1002.2 L615.31,1002.2 L615.77,1002.1 L616.22,1002.0 L616.68,1001.9 L617.13,1001.7 L617.59,1001.6 L618.04,1001.4 L618.49,1001.2 L618.95,1001.1 L619.40,1000.9 L619.86,1000.8 L620.31,1000.7 L620.77,1000.6 L621.22,1000.5 L621.68,1000.4 L622.13,1000.4 L622.59,1000.4 L623.04,1000.4 L623.49,1000.4 L623.95,1000.4 L624.40,1000.4 L624.86,1000.4 L625.31,1000.4 L625.77,1000.4 L626.22,1000.4 L626.68,1000.4 L627.13,1000.4 L627.59,1000.4 L628.04,1000.4 L628.49,1000.4 L628.95,1000.4 L629.40,1000.5 L629.86,1000.5 L630.31,1000.6 L630.77,1000.8 L631.22,1000.9 L631.68,1001.1 L632.13,1001.2 L632.59,1001.4 L633.04,1001.6 L633.49,1001.8 L633.95,1002.0 L634.40,1002.2 L634.86,1002.4 L635.31,1002.6 L635.77,1002.8 L636.22,1002.9 L636.68,1003.2 L637.13,1003.4 L637.59,1003.6 L638.04,1003.9 L638.49,1004.1 L638.95,1004.4 L639.40,1004.6 L639.86,1004.8 L640.31,1005.0 L640.77,1005.1 L641.22,1005.2 L641.68,1005.3 L642.13,1005.3 L642.59,1005.3 L643.04,1005.3 L643.49,1005.3 L643.95,1005.3 L644.40,1005.3 L644.86,1005.3 L645.31,1005.3 L645.77,1005.3 L646.22,1005.3 L646.68,1005.2 L647.13,1005.2 L647.59,1005.2 L648.04,1005.2 L648.49,1005.1 L648.95,1005.1 L649.40,1005.0 L649.86,1004.8 L650.31,1004.5 L650.77,1004.1 L651.22,1003.7 L651.68,1003.3 L652.13,1002.9 L652.59,1002.4 L653.04,1001.9 L653.49,1001.5 L653.95,1001.0 L654.40,1000.5 L654.86,999.9 L655.31,999.4 L655.77,998.7 L656.22,998.1 L656.68,997.5 L657.13,996.9 L657.59,996.3 L658.04,995.7 L658.49,995.0 L658.95,994.3 L659.40,993.6 L659.86,992.9 L660.31,992.3 L660.77,991.6 L661.22,991.0 L661.68,990.5 L662.13,990.0 L662.59,989.6 L663.04,989.2 L663.49,988.7 L663.95,988.3 L664.40,988.0 L664.86,987.6 L665.31,987.3 L665.77,987.1 L666.22,987.0 L666.68,986.9 L667.13,987.0 L667.59,987.0 L668.04,987.1 L668.49,987.2 L668.95,987.3 L669.40,987.5 L669.86,987.6 L670.31,987.8 L670.77,988.0 L671.22,988.2 L671.68,988.4 L672.13,988.8 L672.59,989.2 L673.04,989.6 L673.49,990.1 L673.95,990.6 L674.40,991.0 L674.86,991.4 L675.31,991.7 L675.77,991.9 L676.22,992.1 L676.68,992.3 L677.13,992.4 L677.59,992.6 L678.04,992.7 L678.49,992.9 L678.95,993.0 L679.40,993.0 L679.86,993.1 L680.31,993.1 L680.77,993.0 L681.22,992.9 L681.68,992.7 L682.13,992.5 L682.59,992.3 L683.04,992.0 L683.49,991.7 L683.95,991.5 L684.40,991.2 L684.86,990.9 L685.31,990.5 L685.77,990.1 L686.22,989.6 L686.68,989.0 L687.13,988.5 L687.59,988.0 L688.04,987.5 L688.49,987.0 L688.95,986.7 L689.40,986.4 L689.86,986.2 L690.31,986.2 L690.77,986.2 L691.22,986.2 L691.68,986.1 L692.13,985.9 L692.59,985.6 L693.04,985.3 L693.49,985.0 L693.95,984.6 L694.40,984.2 L694.86,983.9 L695.31,983.5 L695.77,983.2 L696.22,982.9 L696.68,982.7 L697.13,982.6 L697.59,982.5 L698.04,982.6 L698.49,982.7 L698.95,982.9 L699.40,983.1 L699.86,983.4 L700.31,983.8 L700.77,984.1 L701.22,984.5 L701.68,984.9 L702.13,985.3 L702.59,985.7 L703.04,986.1 L703.49,986.5 L703.95,986.9 L704.40,987.3 L704.86,987.8 L705.31,988.3 L705.77,988.7 L706.22,989.2 L706.68,989.7 L707.13,990.1 L707.59,990.5 L708.04,990.8 L708.49,991.0 L708.95,991.2 L709.40,991.3 L709.86,991.4 L710.31,991.6 L710.77,991.7 L711.22,991.8 L711.68,991.9 L712.13,992.0 L712.59,992.1 L713.04,992.1 L713.49,992.2 L713.95,992.3 L714.40,992.3 L714.86,992.3 L715.31,992.3 L715.77,992.3 L716.22,992.3 L716.68,992.1 L717.13,992.0 L717.59,991.8 L718.04,991.6 L718.49,991.3 L718.95,991.1 L719.40,990.8 L719.86,990.5 L720.31,990.3 L720.77,990.0 L721.22,989.8 L721.68,989.6 L722.13,989.4 L722.59,989.2 L723.04,989.1 L723.49,988.9 L723.95,988.7 L724.40,988.5 L724.86,988.3 L725.31,988.2 L725.77,988.0 L726.22,987.9 L726.68,987.7 L727.13,987.6 L727.59,987.5 L728.04,987.5 L728.49,987.4 L728.95,987.4 L729.40,987.4 L729.86,987.4 L730.31,987.5 L730.77,987.5 L731.22,987.5 L731.68,987.5 L732.13,987.6 L732.59,987.6 L733.04,987.7 L733.49,987.7 L733.95,987.7 L734.40,987.8 L734.86,987.8 L735.31,987.8 L735.77,987.9 L736.22,987.9 L736.68,987.9 L737.13,987.9 L737.59,987.9 L738.04,987.9 L738.49,987.9 L738.95,987.8 L739.40,987.8 L739.86,987.7 L740.31,987.6 L740.77,987.5 L741.22,987.4 L741.68,987.3 L742.13,987.2 L742.59,987.1 L743.04,987.0 L743.49,986.9 L743.95,986.7 L744.40,986.6 L744.86,986.5 L745.31,986.4 L745.77,986.3 L746.22,986.3 L746.68,986.2 L747.13,986.1 L747.59,986.1 L748.04,986.0 L748.49,986.0 L748.95,985.9 L749.40,985.9 L749.86,985.8 L750.31,985.8 L750.77,985.7 L751.22,985.7 L751.68,985.7 L752.13,985.6 L752.59,985.6 L753.04,985.5 L753.49,985.5 L753.95,985.5 L754.40,985.5 L754.86,985.5 L755.31,985.5 L755.77,985.5 L756.22,985.5 L756.68,985.7 L757.13,985.9 L757.59,986.2 L758.04,986.6 L758.49,987.0 L758.95,987.4 L759.40,987.9 L759.86,988.4 L760.31,988.9 L760.77,989.4 L761.22,989.9 L761.68,990.5 L762.13,991.1 L762.59,991.8 L763.04,992.6 L763.49,993.4 L763.95,994.3 L764.40,995.2 L764.86,996.1 L765.31,997.0 L765.77,997.9 L766.22,998.7 L766.68,999.5 L767.13,1000.4 L767.59,1001.2 L768.04,1002.1 L768.49,1003.0 L768.95,1003.9 L769.40,1004.8 L769.86,1005.7 L770.31,1006.5 L770.77,1007.3 L771.22,1008.1 L771.68,1008.7 L772.13,1009.3 L772.59,1009.8 L773.04,1010.3 L773.49,1010.7 L773.95,1011.2 L774.40,1011.7 L774.86,1012.1 L775.31,1012.5 L775.77,1012.9 L776.22,1013.3 L776.68,1013.6 L777.13,1013.9 L777.59,1014.1 L778.04,1014.3 L778.49,1014.4 L778.95,1014.4 L779.40,1014.4 L779.86,1014.3 L780.31,1014.2 L780.77,1013.9 L781.22,1013.7 L781.68,1013.4 L782.13,1013.0 L782.59,1012.7 L783.04,1012.3 L783.49,1011.8 L783.95,1011.4 L784.40,1010.9 L784.86,1010.5 L785.31,1009.8 L785.77,1009.0 L786.22,1008.1 L786.68,1007.1 L787.13,1006.0 L787.59,1004.9 L788.04,1003.7 L788.49,1002.5 L788.95,1001.4 L789.40,1000.2 L789.86,999.2 L790.31,998.2 L790.77,997.2 L791.22,996.3 L791.68,995.3 L792.13,994.3 L792.59,993.3 L793.04,992.3 L793.49,991.4 L793.95,990.5 L794.40,989.6 L794.86,988.8 L795.31,988.1 L795.77,987.4 L796.22,986.8 L796.68,986.2 L797.13,985.6 L797.59,985.0 L798.04,984.4 L798.49,983.9 L798.95,983.4 L799.40,982.9 L799.86,982.5 L800.31,982.1 L800.77,981.7 L801.22,981.4 L801.68,981.1 L802.13,980.8 L802.59,980.5 L803.04,980.2 L803.49,979.9 L803.95,979.6 L804.40,979.4 L804.86,979.2 L805.31,979.0 L805.77,978.9 L806.22,978.8 L806.68,978.8 L807.13,978.9 L807.59,979.0 L808.04,979.2 L808.49,979.4 L808.95,979.6 L809.40,979.9 L809.86,980.1 L810.31,980.4 L810.77,980.6 L811.22,980.9 L811.68,981.0 L812.13,981.2 L812.59,981.3 L813.04,981.4 L813.49,981.5 L813.95,981.6 L814.40,981.7 L814.86,981.7 L815.31,981.8 L815.77,981.9 L816.22,982.0 L816.68,982.0 L817.13,982.1 L817.59,982.2 L818.04,982.2 L818.49,982.3 L818.95,982.3 L819.40,982.4 L819.86,982.4 L820.31,982.4 L820.77,982.5 L821.22,982.5 L821.68,982.5 L822.13,982.5 L822.59,982.5 L823.04,982.5 L823.49,982.5 L823.95,982.5 L824.40,982.5 L824.86,982.4 L825.31,982.4 L825.77,982.4 L826.22,982.3 L826.68,982.3 L827.13,982.3 L827.59,982.2 L828.04,982.2 L828.49,982.1 L828.95,982.1 L829.40,982.0 L829.86,982.0 L830.31,981.9 L830.77,981.9 L831.22,981.8 L831.68,981.7 L832.13,981.7 L832.59,981.6 L833.04,981.6 L833.49,981.6 L833.95,981.5 L834.40,981.5 L834.86,981.4 L835.31,981.4 L835.77,981.4 L836.22,981.3 L836.68,981.3 L837.13,981.3 L837.59,981.3 L838.04,981.3 L838.49,981.3 L838.95,981.4 L839.40,981.5 L839.86,981.6 L840.31,981.8 L840.77,982.0 L841.22,982.2 L841.68,982.4 L842.13,982.7 L842.59,983.0 L843.04,983.3 L843.49,983.6 L843.95,983.9 L844.40,984.2 L844.86,984.5 L845.31,984.8 L845.77,985.2 L846.22,985.6 L846.68,986.1 L847.13,986.6 L847.59,987.1 L848.04,987.7 L848.49,988.2 L848.95,988.7 L849.40,989.2 L849.86,989.7 L850.31,990.2 L850.77,990.6 L851.22,990.9 L851.68,991.2 L852.13,991.5 L852.59,991.7 L853.04,992.0 L853.49,992.3 L853.95,992.5 L854.40,992.8 L854.86,993.0 L855.31,993.2 L855.77,993.4 L856.22,993.6 L856.68,993.8 L857.13,993.9 L857.59,994.1 L858.04,994.2 L858.49,994.2 L858.95,994.3 L859.40,994.3 L859.86,994.3 L860.31,994.2 L860.77,994.1 L861.22,994.0 L861.68,993.9 L862.13,993.8 L862.59,993.6 L863.04,993.4 L863.49,993.2 L863.95,992.9 L864.40,992.7 L864.86,992.5 L865.31,992.2 L865.77,991.9 L866.22,991.7 L866.68,991.4 L867.13,991.1 L867.59,990.8 L868.04,990.4 L868.49,990.0 L868.95,989.5 L869.40,988.9 L869.86,988.3 L870.31,987.7 L870.77,987.1 L871.22,986.5 L871.68,985.9 L872.13,985.4 L872.59,984.9 L873.04,984.4 L873.49,984.0 L873.95,983.7 L874.40,983.4 L874.86,983.1 L875.31,982.8 L875.77,982.5 L876.22,982.2 L876.68,981.9 L877.13,981.6 L877.59,981.3 L878.04,981.1 L878.49,980.8 L878.95,980.6 L879.40,980.4 L879.86,980.2 L880.31,980.0 L880.77,979.9 L881.22,979.8 L881.68,979.7 L882.13,979.6 L882.59,979.6 L883.04,979.6 L883.49,979.6 L883.95,979.6 L884.40,979.7 L884.86,979.7 L885.31,979.8 L885.77,979.9 L886.22,979.9 L886.68,980.0 L887.13,980.1 L887.59,980.2 L888.04,980.3 L888.49,980.5 L888.95,980.6 L889.40,980.7 L889.86,980.8 L890.31,980.9 L890.77,981.1 L891.22,981.2 L891.68,981.3 L892.13,981.4 L892.59,981.5 L893.04,981.7 L893.49,981.9 L893.95,982.0 L894.40,982.2 L894.86,982.4 L895.31,982.6 L895.77,982.8 L896.22,983.0 L896.68,983.2 L897.13,983.4 L897.59,983.6 L898.04,983.8 L898.49,983.9 L898.95,984.1 L899.40,984.2 L899.86,984.3 L900.31,984.4 L900.77,984.5 L901.22,984.6 L901.68,984.7 L902.13,984.7 L902.59,984.8 L903.04,984.9 L903.49,984.9 L903.95,985.0 L904.40,985.1 L904.86,985.1 L905.31,985.2 L905.77,985.2 L906.22,985.3 L906.68,985.3 L907.13,985.4 L907.59,985.4 L908.04,985.4 L908.49,985.4 L908.95,985.5 L909.40,985.5 L909.86,985.5 L910.31,985.4 L910.77,985.4 L911.22,985.4 L911.68,985.3 L912.13,985.3 L912.59,985.2 L913.04,985.1 L913.49,985.0 L913.95,985.0 L914.40,984.9 L914.86,984.8 L915.31,984.7 L915.77,984.6 L916.22,984.5 L916.68,984.5 L917.13,984.4 L917.59,984.3 L918.04,984.3 L918.49,984.2 L918.95,984.2 L919.40,984.1 L919.86,984.1 L920.31,984.1 L920.77,984.0 L921.22,984.0 L921.68,983.9 L922.13,983.9 L922.59,983.8 L923.04,983.8 L923.49,983.8 L923.95,983.8 L924.40,983.8 L924.86,983.7 L925.31,983.7 L925.77,983.8 L926.22,983.9 L926.68,984.1 L927.13,984.4 L927.59,984.6 L928.04,985.0 L928.49,985.3 L928.95,985.7 L929.40,986.1 L929.86,986.6 L930.31,987.0 L930.77,987.5 L931.22,988.0 L931.68,988.7 L932.13,989.5 L932.59,990.4 L933.04,991.4 L933.49,992.5 L933.95,993.5 L934.40,994.6 L934.86,995.6 L935.31,996.6 L935.77,997.5 L936.22,998.3 L936.68,999.1 L937.13,999.8 L937.59,1000.6 L938.04,1001.3 L938.49,1002.0 L938.95,1002.7 L939.40,1003.4 L939.86,1004.0 L940.31,1004.5 L940.77,1005.0 L941.22,1005.4 L941.68,1005.7 L942.13,1005.9 L942.59,1006.1 L943.04,1006.3 L943.49,1006.5 L943.95,1006.6 L944.40,1006.8 L944.86,1006.9 L945.31,1007.0 L945.77,1007.0 L946.22,1007.1 L946.68,1007.0 L947.13,1006.9 L947.59,1006.7 L948.04,1006.5 L948.49,1006.1 L948.95,1005.7 L949.40,1005.3 L949.86,1004.8 L950.31,1004.3 L950.77,1003.7 L951.22,1003.1 L951.68,1002.5 L952.13,1001.8 L952.59,1000.9 L953.04,999.8 L953.49,998.5 L953.95,997.0 L954.40,995.5 L954.86,994.0 L955.31,992.6 L955.77,991.3 L956.22,990.2 L956.68,989.3 L957.13,988.4 L957.59,987.5 L958.04,986.6 L958.49,985.8 L958.95,985.0 L959.40,984.3 L959.86,983.8 L960.31,983.3 L960.77,983.0 L961.22,982.9 L961.68,982.7 L962.13,982.6 L962.59,982.4 L963.04,982.3 L963.49,982.2 L963.95,982.1 L964.40,982.1 L964.86,982.0 L965.31,982.0 L965.77,982.1 L966.22,982.2 L966.68,982.5 L967.13,982.8 L967.59,983.1 L968.04,983.5 L968.49,983.9 L968.95,984.3 L969.40,984.7 L969.86,985.1 L970.31,985.4 L970.77,985.7 L971.22,985.9 L971.68,986.1 L972.13,986.3 L972.59,986.5 L973.04,986.7 L973.49,986.9 L973.95,987.1 L974.40,987.2 L974.86,987.4 L975.31,987.6 L975.77,987.7 L976.22,987.8 L976.68,987.9 L977.13,987.9 L977.59,987.9 L978.04,987.9 L978.49,987.8 L978.95,987.8 L979.40,987.6 L979.86,987.5 L980.31,987.4 L980.77,987.2 L981.22,987.0 L981.68,986.8 L982.13,986.6 L982.59,986.4 L983.04,986.2 L983.49,986.1 L983.95,985.8 L984.40,985.6 L984.86,985.3 L985.31,984.9 L985.77,984.6 L986.22,984.2 L986.68,983.9 L987.13,983.6 L987.59,983.2 L988.04,982.9 L988.49,982.6 L988.95,982.4 L989.40,982.1 L989.86,982.0 L990.31,981.8 L990.77,981.8 L991.22,981.8 L991.68,981.8 L992.13,981.8 L992.59,981.8 L993.04,981.8 L993.49,981.8 L993.95,981.8 L994.40,981.8 L994.86,981.8 L995.31,981.8 L995.77,981.9 L996.22,981.9 L996.68,981.9 L997.13,981.9 L997.59,981.9 L998.04,982.0 L998.49,982.0 L998.95,982.1 L999.40,982.3 L999.86,982.5 L1000.31,982.5 L1000.77,982.5 L1001.22,982.5 L1001.68,982.5 L1002.13,982.4 L1002.59,982.4 L1003.04,982.3 L1003.49,982.3 L1003.95,982.2 L1004.40,982.1 L1004.86,982.1 L1005.31,982.0 L1005.77,981.9 L1006.22,981.8 L1006.68,981.7 L1007.13,981.7 L1007.59,981.6 L1008.04,981.5 L1008.49,981.4 L1008.95,981.3 L1009.40,981.2 L1009.86,981.2 L1010.31,981.1 L1010.77,981.0 L1011.22,980.9 L1011.68,980.9 L1012.13,980.8 L1012.59,980.7 L1013.04,980.7 L1013.49,980.7 L1013.95,980.6 L1014.40,980.6 L1014.86,980.6 L1015.31,980.6 L1015.77,980.6 L1016.22,980.6 L1016.68,980.6 L1017.13,980.6 L1017.59,980.6 L1018.04,980.6 L1018.49,980.6 L1018.95,980.6 L1019.40,980.6 L1019.86,980.6 L1020.31,980.6 L1020.77,980.6 L1021.22,980.6 L1021.68,980.6 L1022.13,980.6 L1022.59,980.6 L1023.04,980.6 L1023.49,980.6 L1023.95,980.6 L1024.40,980.6 L1024.86,980.6 L1025.31,980.6 L1025.77,980.6 L1026.22,980.6 L1026.68,980.6 L1027.13,980.6 L1027.59,980.6 L1028.04,980.6 L1028.49,980.6 L1028.95,980.7 L1029.40,980.7 L1029.86,980.7 L1030.31,980.7 L1030.77,980.7 L1031.22,980.7 L1031.68,980.7 L1032.13,980.7 L1032.59,980.7 L1033.04,980.7 L1033.49,980.7 L1033.95,980.8 L1034.40,980.8 L1034.86,980.8 L1035.31,980.8 L1035.77,980.8 L1036.22,980.8 L1036.68,980.9 L1037.13,981.0 L1037.59,981.1 L1038.04,981.2 L1038.49,981.4 L1038.95,981.5 L1039.40,981.7 L1039.86,981.9 L1040.31,982.1 L1040.77,982.3 L1041.22,982.5 L1041.68,982.7 L1042.13,982.9 L1042.59,983.0 L1043.04,983.2 L1043.49,983.4 L1043.95,983.5 L1044.40,983.7 L1044.86,983.8 L1045.31,983.9 L1045.77,984.1 L1046.22,984.2 L1046.68,984.3 L1047.13,984.5 L1047.59,984.6 L1048.04,984.7 L1048.49,984.9 L1048.95,985.0 L1049.40,985.1 L1049.86,985.2 L1050.31,985.3 L1050.77,985.3 L1051.22,985.4 L1051.68,985.4 L1052.13,985.5 L1052.59,985.5 L1053.04,985.4 L1053.49,985.4 L1053.95,985.3 L1054.40,985.2 L1054.86,985.1 L1055.31,985.0 L1055.77,984.9 L1056.22,984.7 L1056.68,984.6 L1057.13,984.4 L1057.59,984.3 L1058.04,984.1 L1058.49,983.9 L1058.95,983.7 L1059.40,983.6 L1059.86,983.4 L1060.31,983.2 L1060.77,983.0 L1061.22,982.8 L1061.68,982.6 L1062.13,982.4 L1062.59,982.1 L1063.04,981.8 L1063.49,981.6 L1063.95,981.3 L1064.40,981.0 L1064.86,980.8 L1065.31,980.6 L1065.77,980.4 L1066.22,980.2 L1066.68,980.1 L1067.13,980.0 L1067.59,979.9 L1068.04,979.9 L1068.49,979.8 L1068.95,979.7 L1069.40,979.7 L1069.86,979.6 L1070.31,979.5 L1070.77,979.5 L1071.22,979.4 L1071.68,979.4 L1072.13,979.4 L1072.59,979.4 L1073.04,979.3 L1073.49,979.3 L1073.95,979.3 L1074.40,979.3 L1074.86,979.3 L1075.31,979.3 L1075.77,979.4 L1076.22,979.4 L1076.68,979.4 L1077.13,979.4 L1077.59,979.4 L1078.04,979.4 L1078.49,979.5 L1078.95,979.5 L1079.40,979.5 L1079.86,979.5 L1080.31,979.6 L1080.77,979.6 L1081.22,979.6 L1081.68,979.7 L1082.13,979.7 L1082.59,979.7 L1083.04,979.7 L1083.49,979.8 L1083.95,979.8 L1084.40,979.8 L1084.86,979.9 L1085.31,979.9 L1085.77,979.9 L1086.22,979.9 L1086.68,980.0 L1087.13,980.0 L1087.59,980.0 L1088.04,980.0 L1088.49,980.0 L1088.95,980.1 L1089.40,980.1 L1089.86,980.1 L1090.31,980.1 L1090.77,980.1 L1091.22,980.1 L1091.68,980.1 L1092.13,980.1 L1092.59,980.2 L1093.04,980.2 L1093.49,980.2 L1093.95,980.2 L1094.40,980.2 L1094.86,980.2 L1095.31,980.2 L1095.77,980.2 L1096.22,980.2 L1096.68,980.2 L1097.13,980.2 L1097.59,980.2 L1098.04,980.3 L1098.49,980.3 L1098.95,980.3 L1099.40,980.3 L1099.86,980.3 L1100.31,980.3 L1100.77,980.3 L1101.22,980.3 L1101.68,980.3 L1102.13,980.3 L1102.59,980.3 L1103.04,980.3 L1103.49,980.4 L1103.95,980.4 L1104.40,980.4 L1104.86,980.4 L1105.31,980.4 L1105.77,980.4 L1106.22,980.4 L1106.68,980.4 L1107.13,980.4 L1107.59,980.4 L1108.04,980.4 L1108.49,980.5 L1108.95,980.5 L1109.40,980.5 L1109.86,980.5 L1110.31,980.5 L1110.77,980.5 L1111.22,980.5 L1111.68,980.6 L1112.13,980.6 L1112.59,980.6 L1113.04,980.6 L1113.49,980.6 L1113.95,980.6 L1114.40,980.7 L1114.86,980.7 L1115.31,980.7 L1115.77,980.7 L1116.22,980.7 L1116.68,980.8 L1117.13,980.8 L1117.59,980.8 L1118.04,980.8 L1118.49,980.9 L1118.95,980.9 L1119.40,980.9 L1119.86,980.9 L1120.31,981.0 L1120.77,981.0 L1121.22,981.0 L1121.68,981.1 L1122.13,981.1 L1122.59,981.1 L1123.04,981.2 L1123.49,981.2 L1123.95,981.3 L1124.40,981.3 L1124.86,981.3 L1125.31,981.4 L1125.77,981.4 L1126.22,981.5 L1126.68,981.5 L1127.13,981.6 L1127.59,981.6 L1128.04,981.7 L1128.49,981.7 L1128.95,981.8 L1129.40,981.8 L1129.86,981.9 L1130.31,982.0 L1130.77,982.0 L1131.22,982.1 L1131.68,982.2 L1132.13,982.2 L1132.59,982.3 L1133.04,982.4 L1133.49,982.5 L1133.95,982.5 L1134.40,982.6 L1134.86,982.8 L1135.31,982.9 L1135.77,983.1 L1136.22,983.3 L1136.68,983.6 L1137.13,983.8 L1137.59,984.1 L1138.04,984.4 L1138.49,984.7 L1138.95,985.0 L1139.40,985.3 L1139.86,985.7 L1140.31,986.0 L1140.77,986.4 L1141.22,986.8 L1141.68,987.2 L1142.13,987.7 L1142.59,988.3 L1143.04,988.8 L1143.49,989.4 L1143.95,990.1 L1144.40,990.7 L1144.86,991.4 L1145.31,992.0 L1145.77,992.7 L1146.22,993.4 L1146.68,994.0 L1147.13,994.6 L1147.59,995.3 L1148.04,995.9 L1148.49,996.6 L1148.95,997.2 L1149.40,997.9 L1149.86,998.6 L1150.31,999.3 L1150.77,1000.0 L1151.22,1000.7 L1151.68,1001.4 L1152.13,1002.1 L1152.59,1002.7 L1153.04,1003.4 L1153.49,1004.0 L1153.95,1004.6 L1154.40,1005.2 L1154.86,1005.9 L1155.31,1006.6 L1155.77,1007.2 L1156.22,1007.9 L1156.68,1008.5 L1157.13,1009.1 L1157.59,1009.7 L1158.04,1010.2 L1158.49,1010.7 L1158.95,1011.1 L1159.40,1011.4 L1159.86,1011.7 L1160.31,1011.9 L1160.77,1012.2 L1161.22,1012.4 L1161.68,1012.6 L1162.13,1012.9 L1162.59,1013.1 L1163.04,1013.3 L1163.49,1013.4 L1163.95,1013.6 L1164.40,1013.7 L1164.86,1013.8 L1165.31,1013.9 L1165.77,1013.9 L1166.22,1013.9 L1166.68,1013.9 L1167.13,1013.9 L1167.59,1013.8 L1168.04,1013.7 L1168.49,1013.5 L1168.95,1013.3 L1169.40,1013.2 L1169.86,1013.0 L1170.31,1012.7 L1170.77,1012.5 L1171.22,1012.3 L1171.68,1012.0 L1172.13,1011.8 L1172.59,1011.4 L1173.04,1011.0 L1173.49,1010.5 L1173.95,1010.0 L1174.40,1009.4 L1174.86,1008.8 L1175.31,1008.2 L1175.77,1007.5 L1176.22,1006.8 L1176.68,1006.1 L1177.13,1005.4 L1177.59,1004.7 L1178.04,1004.0 L1178.49,1003.3 L1178.95,1002.7 L1179.40,1002.0 L1179.86,1001.2 L1180.31,1000.5 L1180.77,999.7 L1181.22,998.9 L1181.68,998.2 L1182.13,997.4 L1182.59,996.6 L1183.04,995.8 L1183.49,995.0 L1183.95,994.3 L1184.40,993.5 L1184.86,992.8 L1185.31,992.1 L1185.77,991.4 L1186.22,990.7 L1186.68,989.9 L1187.13,989.2 L1187.59,988.5 L1188.04,987.8 L1188.49,987.1 L1188.95,986.5 L1189.40,985.9 L1189.86,985.3 L1190.31,984.9 L1190.77,984.5 L1191.22,984.1 L1191.68,983.7 L1192.13,983.3 L1192.59,983.0 L1193.04,982.7 L1193.49,982.3 L1193.95,982.1 L1194.40,981.8 L1194.86,981.6 L1195.31,981.4 L1195.77,981.3 L1196.22,981.3 L1196.68,981.3 L1197.13,981.3 L1197.59,981.3 L1198.04,981.3 L1198.49,981.3 L1198.95,981.3 L1199.40,981.4 L1199.86,981.4 L1200.31,981.4 L1200.77,981.4 L1201.22,981.4 L1201.68,981.5 L1202.13,981.5 L1202.59,981.5 L1203.04,981.5 L1203.49,981.6 L1203.95,981.6 L1204.40,981.6 L1204.86,981.6 L1205.31,981.7 L1205.77,981.7 L1206.22,981.7 L1206.68,981.7 L1207.13,981.7 L1207.59,981.7 L1208.04,981.8 L1208.49,981.8 L1208.95,981.8 L1209.40,981.8 L1209.86,981.8 L1210.31,981.8 L1210.77,981.8 L1211.22,981.7 L1211.68,981.7 L1212.13,981.6 L1212.59,981.6 L1213.04,981.5 L1213.49,981.4 L1213.95,981.4 L1214.40,981.3 L1214.86,981.2 L1215.31,981.1 L1215.77,981.0 L1216.22,981.0 L1216.68,980.9 L1217.13,980.8 L1217.59,980.7 L1218.04,980.6 L1218.49,980.5 L1218.95,980.5 L1219.40,980.4 L1219.86,980.3 L1220.31,980.3 L1220.77,980.2 L1221.22,980.2 L1221.68,980.1 L1222.13,980.1 L1222.59,980.1 L1223.04,980.1 L1223.49,980.1 L1223.95,980.1 L1224.40,980.1 L1224.86,980.1 L1225.31,980.2 L1225.77,980.2 L1226.22,980.3 L1226.68,980.4 L1227.13,980.4 L1227.59,980.5 L1228.04,980.6 L1228.49,980.7 L1228.95,980.7 L1229.40,980.8 L1229.86,980.9 L1230.31,981.0 L1230.77,981.1 L1231.22,981.2 L1231.68,981.3 L1232.13,981.4 L1232.59,981.5 L1233.04,981.6 L1233.49,981.7 L1233.95,981.7 L1234.40,981.8 L1234.86,981.9 L1235.31,982.0 L1235.77,982.0 L1236.22,982.1 L1236.68,982.2 L1237.13,982.2 L1237.59,982.3 L1238.04,982.4 L1238.49,982.4 L1238.95,982.5 L1239.40,982.6 L1239.86,982.6 L1240.31,982.7 L1240.77,982.8 L1241.22,982.9 L1241.68,983.0 L1242.13,983.0 L1242.59,983.1 L1243.04,983.2 L1243.49,983.3 L1243.95,983.4 L1244.40,983.5 L1244.86,983.6 L1245.31,983.7 L1245.77,983.8 L1246.22,984.0 L1246.68,984.1 L1247.13,984.3 L1247.59,984.4 L1248.04,984.6 L1248.49,984.7 L1248.95,984.9 L1249.40,985.1 L1249.86,985.3 L1250.31,985.5 L1250.77,985.7 L1251.22,985.9 L1251.68,986.1 L1252.13,986.3 L1252.59,986.6 L1253.04,986.8 L1253.49,987.0 L1253.95,987.2 L1254.40,987.5 L1254.86,987.7 L1255.31,988.0 L1255.77,988.2 L1256.22,988.5 L1256.68,988.9 L1257.13,989.4 L1257.59,989.9 L1258.04,990.4 L1258.49,991.0 L1258.95,991.7 L1259.40,992.3 L1259.86,993.0 L1260.31,993.7 L1260.77,994.4 L1261.22,995.0 L1261.68,995.7 L1262.13,996.3 L1262.59,996.9 L1263.04,997.5 L1263.49,998.2 L1263.95,998.8 L1264.40,999.5 L1264.86,1000.1 L1265.31,1000.8 L1265.77,1001.4 L1266.22,1001.9 L1266.68,1002.5 L1267.13,1003.0 L1267.59,1003.4 L1268.04,1003.9 L1268.49,1004.3 L1268.95,1004.7 L1269.40,1005.1 L1269.86,1005.5 L1270.31,1005.9 L1270.77,1006.3 L1271.22,1006.7 L1271.68,1007.0 L1272.13,1007.3 L1272.59,1007.6 L1273.04,1007.8 L1273.49,1008.0 L1273.95,1008.2 L1274.40,1008.3 L1274.86,1008.5 L1275.31,1008.6 L1275.77,1008.6 L1276.22,1008.7 L1276.68,1008.8 L1277.13,1008.9 L1277.59,1008.9 L1278.04,1009.0 L1278.49,1009.0 L1278.95,1009.1 L1279.40,1009.2 L1279.86,1009.3 L1280.31,1009.4 L1280.77,1009.5 L1281.22,1009.6 L1281.68,1009.8 L1282.13,1009.9 L1282.59,1010.1 L1283.04,1010.3 L1283.49,1010.5 L1283.95,1010.8 L1284.40,1011.0 L1284.86,1011.3 L1285.31,1011.6 L1285.77,1011.9 L1286.22,1012.2 L1286.68,1012.5 L1287.13,1012.8 L1287.59,1013.2 L1288.04,1013.6 L1288.49,1014.0 L1288.95,1014.6 L1289.40,1015.2 L1289.86,1015.8 L1290.31,1016.4 L1290.77,1017.1 L1291.22,1017.8 L1291.68,1018.5 L1292.13,1019.1 L1292.59,1019.8 L1293.04,1020.4 L1293.49,1021.0 L1293.95,1021.6 L1294.40,1022.2 L1294.86,1022.8 L1295.31,1023.4 L1295.77,1024.0 L1296.22,1024.6 L1296.68,1025.2 L1297.13,1025.7 L1297.59,1026.2 L1298.04,1026.6 L1298.49,1027.0 L1298.95,1027.3 L1299.40,1027.6 L1299.86,1027.9 L1300.31,1028.2 L1300.77,1028.4 L1301.22,1028.7 L1301.68,1028.9 L1302.13,1029.1 L1302.59,1029.3 L1303.04,1029.4 L1303.49,1029.6 L1303.95,1029.6 L1304.40,1029.6 L1304.86,1029.6 L1305.31,1029.6 L1305.77,1029.5 L1306.22,1029.4 L1306.68,1029.3 L1307.13,1029.1 L1307.59,1029.0 L1308.04,1028.8 L1308.49,1028.6 L1308.95,1028.4 L1309.40,1028.1 L1309.86,1027.9 L1310.31,1027.6 L1310.77,1027.3 L1311.22,1027.0 L1311.68,1026.6 L1312.13,1026.0 L1312.59,1025.3 L1313.04,1024.5 L1313.49,1023.6 L1313.95,1022.7 L1314.40,1021.7 L1314.86,1020.7 L1315.31,1019.7 L1315.77,1018.7 L1316.22,1017.6 L1316.68,1016.4 L1317.13,1015.1 L1317.59,1013.8 L1318.04,1012.5 L1318.49,1011.1 L1318.95,1009.8 L1319.40,1008.5 L1319.86,1007.3 L1320.31,1006.1 L1320.77,1004.9 L1321.22,1003.7 L1321.68,1002.6 L1322.13,1001.4 L1322.59,1000.3 L1323.04,999.2 L1323.49,998.1 L1323.95,997.0 L1324.40,996.0 L1324.86,995.0 L1325.31,994.0 L1325.77,992.9 L1326.22,991.9 L1326.68,990.9 L1327.13,989.9 L1327.59,988.9 L1328.04,988.0 L1328.49,987.2 L1328.95,986.4 L1329.40,985.7 L1329.86,985.1 L1330.31,984.6 L1330.77,984.1 L1331.22,983.6 L1331.68,983.1 L1332.13,982.6 L1332.59,982.1 L1333.04,981.7 L1333.49,981.4 L1333.95,981.1 L1334.40,980.8 L1334.86,980.7 L1335.31,980.6 L1335.77,980.6 L1336.22,980.7 L1336.68,980.9 L1337.13,981.1 L1337.59,981.5 L1338.04,981.9 L1338.49,982.3 L1338.95,982.7 L1339.40,983.2 L1339.86,983.6 L1340.31,984.0 L1340.77,984.6 L1341.22,985.1 L1341.68,985.8 L1342.13,986.5 L1342.59,987.2 L1343.04,987.9 L1343.49,988.6 L1343.95,989.3 L1344.40,989.9 L1344.86,990.4 L1345.31,990.9 L1345.77,991.2 L1346.22,991.6 L1346.68,991.9 L1347.13,992.2 L1347.59,992.6 L1348.04,992.9 L1348.49,993.1 L1348.95,993.4 L1349.40,993.6 L1349.86,993.9 L1350.31,994.0 L1350.77,994.2 L1351.22,994.2 L1351.68,994.3 L1352.13,994.3 L1352.59,994.2 L1353.04,994.1 L1353.49,993.9 L1353.95,993.7 L1354.40,993.5 L1354.86,993.2 L1355.31,993.0 L1355.77,992.6 L1356.22,992.3 L1356.68,992.0 L1357.13,991.6 L1357.59,991.3 L1358.04,991.0 L1358.49,990.6 L1358.95,990.1 L1359.40,989.5 L1359.86,988.9 L1360.31,988.3 L1360.77,987.7 L1361.22,987.1 L1361.68,986.5 L1362.13,986.0 L1362.59,985.6 L1363.04,985.2 L1363.49,984.9 L1363.95,984.7 L1364.40,984.5 L1364.86,984.3 L1365.31,984.1 L1365.77,984.0 L1366.22,983.8 L1366.68,983.6 L1367.13,983.5 L1367.59,983.4 L1368.04,983.3 L1368.49,983.2 L1368.95,983.1 L1369.40,983.0 L1369.86,983.0 L1370.31,983.0 L1370.77,983.1 L1371.22,983.2 L1371.68,983.5 L1372.13,983.7 L1372.59,984.1 L1373.04,984.5 L1373.49,984.9 L1373.95,985.4 L1374.40,985.9 L1374.86,986.4 L1375.31,986.9 L1375.77,987.5 L1376.22,988.2 L1376.68,989.0 L1377.13,990.0 L1377.59,991.1 L1378.04,992.2 L1378.49,993.5 L1378.95,994.8 L1379.40,996.2 L1379.86,997.5 L1380.31,998.9 L1380.77,1000.3 L1381.22,1001.8 L1381.68,1003.3 L1382.13,1004.9 L1382.59,1006.6 L1383.04,1008.3 L1383.49,1010.0 L1383.95,1011.8 L1384.40,1013.5 L1384.86,1015.3 L1385.31,1017.0 L1385.77,1018.9 L1386.22,1020.7 L1386.68,1022.6 L1387.13,1024.5 L1387.59,1026.5 L1388.04,1028.4 L1388.49,1030.3 L1388.95,1032.2 L1389.40,1034.1 L1389.86,1035.9 L1390.31,1037.7 L1390.77,1039.5 L1391.22,1041.3 L1391.68,1043.1 L1392.13,1045.0 L1392.59,1046.9 L1393.04,1048.9 L1393.49,1050.9 L1393.95,1053.1 L1394.40,1055.4 L1394.86,1057.9 L1395.31,1060.4 L1395.77,1062.8 L1396.22,1065.2 L1396.68,1067.4 L1397.13,1069.3 L1397.59,1071.2 L1398.04,1073.0 L1398.49,1074.7 L1398.95,1076.4 L1399.40,1078.0 L1399.86,1079.5 L1400.31,1081.0 L1400.77,1082.5 L1401.22,1083.9 L1401.68,1085.3 L1402.13,1086.6 L1402.59,1087.9 L1403.04,1089.1 L1403.49,1090.4 L1403.95,1091.5 L1404.40,1092.7 L1404.86,1093.9 L1405.31,1095.0 L1405.77,1096.1 L1406.22,1097.3 L1406.68,1098.4 L1407.13,1099.5 L1407.59,1100.7 L1408.04,1101.9 L1408.49,1103.0 L1408.95,1104.2 L1409.40,1105.3 L1409.86,1106.4 L1410.31,1107.5 L1410.77,1108.6 L1411.22,1109.7 L1411.68,1110.7 L1412.13,1111.7 L1412.59,1112.7 L1413.04,1113.6 L1413.49,1114.6 L1413.95,1115.5 L1414.40,1116.4 L1414.86,1117.2 L1415.31,1118.1 L1415.77,1118.9 L1416.22,1119.8 L1416.68,1120.6 L1417.13,1121.4 L1417.59,1122.1 L1418.04,1122.9 L1418.49,1123.7 L1418.95,1124.4 L1419.40,1125.1 L1419.86,1125.9 L1420.31,1126.6 L1420.77,1127.3 L1421.22,1128.0 L1421.68,1128.7 L1422.13,1129.4 L1422.59,1130.0 L1423.04,1130.7 L1423.49,1131.4 L1423.95,1132.0 L1424.40,1132.6 L1424.86,1133.2 L1425.31,1133.8 L1425.77,1134.4 L1426.22,1134.9 L1426.68,1135.5 L1427.13,1136.0 L1427.59,1136.5 L1428.04,1137.0 L1428.49,1137.6 L1428.95,1138.1 L1429.40,1138.6 L1429.86,1139.1 L1430.31,1139.6 L1430.77,1140.0 L1431.22,1140.5 L1431.68,1140.9 L1432.13,1141.3 L1432.59,1141.7 L1433.04,1142.1 L1433.49,1142.4 L1433.95,1142.7 L1434.40,1143.0 L1434.86,1143.3 L1435.31,1143.5 L1435.77,1143.7 L1436.22,1143.9 L1436.68,1144.2 L1437.13,1144.4 L1437.59,1144.6 L1438.04,1144.7 L1438.49,1144.9 L1438.95,1145.0 L1439.40,1145.1 L1439.86,1145.2 L1440.31,1145.2 L1440.77,1145.2 L1441.22,1145.1 L1441.68,1144.9 L1442.13,1144.6 L1442.59,1144.3 L1443.04,1143.9 L1443.49,1143.4 L1443.95,1142.9 L1444.40,1142.3 L1444.86,1141.8 L1445.31,1141.1 L1445.77,1140.4 L1446.22,1139.4 L1446.68,1138.1 L1447.13,1136.6 L1447.59,1134.8 L1448.04,1132.9 L1448.49,1130.9 L1448.95,1129.0 L1449.40,1127.0 L1449.86,1125.0 L1450.31,1123.0 L1450.77,1120.8 L1451.22,1118.5 L1451.68,1116.0 L1452.13,1113.5 L1452.59,1110.7 L1453.04,1107.8 L1453.49,1104.5 L1453.95,1100.9 L1454.40,1097.1 L1454.86,1093.2 L1455.31,1089.3 L1455.77,1085.4 L1456.22,1081.5 L1456.68,1077.6 L1457.13,1073.7 L1457.59,1069.7 L1458.04,1065.7 L1458.49,1061.7 L1458.95,1057.6 L1459.40,1053.4 L1459.86,1049.1 L1460.31,1044.6 L1460.77,1040.0 L1461.22,1035.4 L1461.68,1031.0 L1462.13,1026.8 L1462.59,1022.9 L1463.04,1019.3 L1463.49,1015.9 L1463.95,1012.6 L1464.40,1009.5 L1464.86,1006.6 L1465.31,1003.8 L1465.77,1001.3 L1466.22,998.9 L1466.68,996.6 L1467.13,994.3 L1467.59,992.1 L1468.04,990.2 L1468.49,988.4 L1468.95,987.1 L1469.40,986.2 L1469.86,985.6 L1470.31,985.0 L1470.77,984.6 L1471.22,984.2 L1471.68,983.9 L1472.13,983.8 L1472.59,983.8 L1473.04,984.3 L1473.49,985.1 L1473.95,986.1 L1474.40,987.2 L1474.86,988.3 L1475.31,989.5 L1475.77,990.9 L1476.22,992.5 L1476.68,994.2 L1477.13,996.1 L1477.59,998.0 L1478.04,999.9 L1478.49,1001.9 L1478.95,1003.8 L1479.40,1005.6 L1479.86,1007.5 L1480.31,1009.4 L1480.77,1011.5 L1481.22,1013.5 L1481.68,1015.5 L1482.13,1017.5 L1482.59,1019.2 L1483.04,1020.8 L1483.49,1022.1 L1483.95,1023.1 L1484.40,1023.9 L1484.86,1024.7 L1485.31,1025.4 L1485.77,1026.1 L1486.22,1026.7 L1486.68,1027.3 L1487.13,1027.8 L1487.59,1028.2 L1488.04,1028.5 L1488.49,1028.6 L1488.95,1028.6 L1489.40,1028.6 L1489.86,1028.4 L1490.31,1028.2 L1490.77,1027.8 L1491.22,1027.5 L1491.68,1027.0 L1492.13,1026.5 L1492.59,1026.0 L1493.04,1025.4 L1493.49,1024.8 L1493.95,1024.2 L1494.40,1023.5 L1494.86,1022.5 L1495.31,1021.3 L1495.77,1020.0 L1496.22,1018.6 L1496.68,1017.1 L1497.13,1015.7 L1497.59,1014.3 L1498.04,1012.9 L1498.49,1011.8 L1498.95,1010.6 L1499.40,1009.4 L1499.86,1008.3 L1500.31,1007.1 L1500.77,1006.0 L1501.22,1004.9 L1501.68,1004.0 L1502.13,1003.2 L1502.59,1002.5 L1503.04,1002.0 L1503.49,1001.5 L1503.95,1001.1 L1504.40,1000.8 L1504.86,1000.4 L1505.31,1000.1 L1505.77,999.8 L1506.22,999.5 L1506.68,999.3 L1507.13,999.0 L1507.59,998.8 L1508.04,998.6 L1508.49,998.5 L1508.95,998.3 L1509.40,998.2 L1509.86,998.0 L1510.31,997.9 L1510.77,997.8 L1511.22,997.7 L1511.68,997.6 L1512.13,997.5 L1512.59,997.4 L1513.04,997.3 L1513.49,997.2 L1513.95,997.1 L1514.40,997.0 L1514.86,996.8 L1515.31,996.7 L1515.77,996.5 L1516.22,996.3 L1516.68,996.1 L1517.13,995.9 L1517.59,995.6 L1518.04,995.3 L1518.49,995.1 L1518.95,994.8 L1519.40,994.5 L1519.86,994.2 L1520.31,993.9 L1520.77,993.6 L1521.22,993.3 L1521.68,993.1 L1522.13,992.8 L1522.59,992.5 L1523.04,992.3 L1523.49,992.1 L1523.95,991.9 L1524.40,991.7 L1524.86,991.5 L1525.31,991.3 L1525.77,991.2 L1526.22,991.0 L1526.68,990.8 L1527.13,990.6 L1527.59,990.4 L1528.04,990.2 L1528.49,990.1 L1528.95,989.9 L1529.40,989.8 L1529.86,989.6 L1530.31,989.5 L1530.77,989.4 L1531.22,989.3 L1531.68,989.2 L1532.13,989.2 L1532.59,989.2 L1533.04,989.1 L1533.49,989.1 L1533.95,989.1 L1534.40,989.2 L1534.86,989.2 L1535.31,989.2 L1535.77,989.2 L1536.22,989.2 L1536.68,989.2 L1537.13,989.2 L1537.59,989.2 L1538.04,989.3 L1538.49,989.3 L1538.95,989.3 L1539.40,989.3 L1539.86,989.3 L1540.31,989.4 L1540.77,989.4 L1541.22,989.4 L1541.68,989.5 L1542.13,989.6 L1542.59,989.7 L1543.04,989.9 L1543.49,990.1 L1543.95,990.2 L1544.40,990.4 L1544.86,990.6 L1545.31,990.8 L1545.77,991.0 L1546.22,991.1 L1546.68,991.3 L1547.13,991.4 L1547.59,991.5 L1548.04,991.6 L1548.49,991.6 L1548.95,991.6 L1549.40,991.5 L1549.86,991.4 L1550.31,991.3 L1550.77,991.2 L1551.22,991.0 L1551.68,990.8 L1552.13,990.7 L1552.59,990.5 L1553.04,990.3 L1553.49,990.2 L1553.95,990.1 L1554.40,990.0 L1554.86,989.9 L1555.31,989.9 L1555.77,989.9 L1556.22,989.9 L1556.68,990.0 L1557.13,990.1 L1557.59,990.3 L1558.04,990.4 L1558.49,990.6 L1558.95,990.8 L1559.40,991.0 L1559.86,991.2 L1560.31,991.5 L1560.77,991.7 L1561.22,991.9 L1561.68,992.2 L1562.13,992.4 L1562.59,992.7 L1563.04,993.0 L1563.49,993.3 L1563.95,993.7 L1564.40,994.1 L1564.86,994.5 L1565.31,994.9 L1565.77,995.4 L1566.22,995.9 L1566.68,996.3 L1567.13,996.8 L1567.59,997.3 L1568.04,997.8 L1568.49,998.3 L1568.95,998.7 L1569.40,999.2 L1569.86,999.7 L1570.31,1000.2 L1570.77,1000.8 L1571.22,1001.3 L1571.68,1001.8 L1572.13,1002.4 L1572.59,1002.9 L1573.04,1003.5 L1573.49,1004.1 L1573.95,1004.7"/>
</g>
<g stroke="#000" fill="none">
<line x1="196.0" y1="255" x2="206.4" y2="1312.9" stroke-width="2.2" stroke-dasharray="8.6 8.05"/>
<line x1="330.9" y1="255" x2="341.9" y2="1312.9" stroke-width="2.2" stroke-dasharray="8.6 8.05"/>
<line x1="473" y1="253" x2="473" y2="1326.5" stroke-width="1.8"/>
</g>
<g id="frame">
<rect x="43.00" y="241.10" width="1691.90" height="4.70" fill="#000"/>
<rect x="43.00" y="1326.10" width="1691.90" height="3.80" fill="#000"/>
<rect x="43.00" y="241.10" width="4.90" height="1088.80" fill="#000"/>
<rect x="1730.30" y="241.10" width="4.60" height="1088.80" fill="#000"/>
<rect x="283.99" y="1326.10" width="4.70" height="28.10" fill="#000"/>
<rect x="685.46" y="1326.10" width="4.70" height="28.10" fill="#000"/>
<rect x="1086.94" y="1326.10" width="4.70" height="28.10" fill="#000"/>
<rect x="1488.41" y="1326.10" width="4.70" height="28.10" fill="#000"/>
<rect x="83.25" y="1326.10" width="4.70" height="16.70" fill="#000"/>
<rect x="484.73" y="1326.10" width="4.70" height="16.70" fill="#000"/>
<rect x="886.20" y="1326.10" width="4.70" height="16.70" fill="#000"/>
<rect x="1287.68" y="1326.10" width="4.70" height="16.70" fill="#000"/>
<rect x="1689.15" y="1326.10" width="4.70" height="16.70" fill="#000"/>
</g>
<g transform="translate(286.54,1426.90) scale(1,1.04)"><text x="0" y="0" font-size="72" fill="#000" text-anchor="middle" letter-spacing="0.9">500</text></g>
<g transform="translate(688.01,1426.90) scale(1,1.04)"><text x="0" y="0" font-size="72" fill="#000" text-anchor="middle" letter-spacing="0.9">1000</text></g>
<g transform="translate(1089.49,1426.90) scale(1,1.04)"><text x="0" y="0" font-size="72" fill="#000" text-anchor="middle" letter-spacing="0.9">1500</text></g>
<g transform="translate(1490.96,1426.90) scale(1,1.04)"><text x="0" y="0" font-size="72" fill="#000" text-anchor="middle" letter-spacing="0.9">2000</text></g>
<g transform="translate(432.30,1572.80) scale(1,1.032)"><text x="0" y="0" font-size="93.5" fill="#000" letter-spacing="2.3">Wavenumber <tspan x="640.20" dy="-0.87" font-size="88">[</tspan><tspan x="671.30" dy="0.87">cm</tspan><tspan x="807.20" dy="-28.20" font-size="64" fill="#141414">−</tspan><tspan x="840.20" dy="-4.17" font-size="78">1</tspan><tspan x="882.50" dy="31.49" font-size="88">]</tspan></text></g>
<g transform="translate(219.60,115.10) scale(1,1.027)"><text x="0" y="0" font-size="48" fill="#000" letter-spacing="0.4">Zn-O</text></g>
<g transform="translate(219.60,189.70) scale(1,1.027)"><text x="0" y="0" font-size="48" fill="#000">Zn-N</text></g>
<g transform="translate(391.80,68.80) scale(1,1.0)"><text x="0" y="0" font-size="48" fill="#000">in- plane</text></g>
<g transform="translate(391.50,143.80) scale(1,1.0)"><text x="0" y="0" font-size="48" fill="#000" letter-spacing="0.8">ring</text></g>
<g transform="translate(392.20,217.90) scale(1,1.0)"><text x="0" y="0" font-size="48" fill="#000">deformation</text></g>
<g transform="translate(1471.00,447.90) scale(1,1.04)"><text x="0" y="0" font-size="57.6" fill="#000" letter-spacing="0.78">ZnStq<tspan x="167.05" dy="-4.04" font-size="121.5" textLength="32.03" lengthAdjust="spacingAndGlyphs" letter-spacing="0">_</tspan><tspan x="199.87" dy="4.04">H</tspan></text></g>
<g transform="translate(1457.50,771.90) scale(1,1.04)"><text x="0" y="0" font-size="57.6" fill="#ff0000" letter-spacing="0.78">ZnStq<tspan x="167.05" dy="-4.04" font-size="121.5" textLength="32.03" lengthAdjust="spacingAndGlyphs" letter-spacing="0">_</tspan><tspan x="199.87" dy="4.04">Cl</tspan></text></g>
<g transform="translate(1368.50,1213.00) scale(1,1.04)"><text x="0" y="0" font-size="57.6" fill="#0000ff" letter-spacing="0.78">ZnStq<tspan x="167.05" dy="-4.04" font-size="121.5" textLength="32.03" lengthAdjust="spacingAndGlyphs" letter-spacing="0">_</tspan><tspan x="199.87" dy="4.04">OCH</tspan><tspan x="330.90" dy="21.63" font-size="33.6">3</tspan></text></g>
</svg>
</body>
</html>
